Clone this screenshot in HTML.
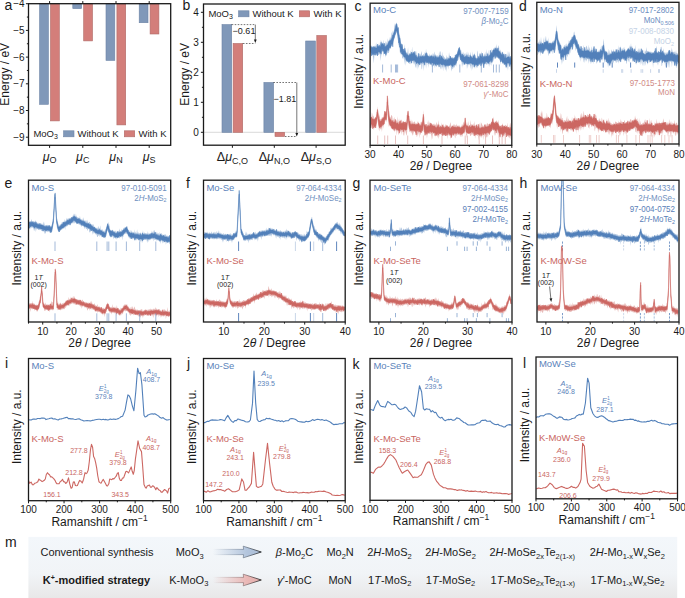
<!DOCTYPE html><html><head><meta charset="utf-8"><style>html,body{margin:0;padding:0;background:#fff;}body{width:685px;height:598px;overflow:hidden;}svg,svg text{font-family:"Liberation Sans",sans-serif;}</style></head><body><svg width="685" height="598" viewBox="0 0 685 598" style="display:block">
<defs>
<clipPath id="clc"><rect x="370.1" y="3.2" width="141.7" height="142.10000000000002"/></clipPath>
<clipPath id="cld"><rect x="536.8" y="2.3" width="142.20000000000005" height="141.7"/></clipPath>
<clipPath id="cle"><rect x="28.5" y="180.2" width="142.2" height="141.8"/></clipPath>
<clipPath id="clf"><rect x="203.5" y="180.2" width="141.7" height="141.8"/></clipPath>
<clipPath id="clg"><rect x="370" y="180.2" width="142" height="141.8"/></clipPath>
<clipPath id="clh"><rect x="537" y="180.2" width="142" height="141.8"/></clipPath>
<clipPath id="cli"><rect x="28.5" y="358.5" width="142.2" height="142.2"/></clipPath>
<clipPath id="clj"><rect x="203.5" y="358.5" width="141.7" height="142.2"/></clipPath>
<clipPath id="clk"><rect x="370" y="358.5" width="142" height="141.8"/></clipPath>
<clipPath id="cll"><rect x="536" y="357" width="141.5" height="141.8"/></clipPath>
<linearGradient id="mg" x1="0" y1="0" x2="0" y2="1"><stop offset="0" stop-color="#f3f7fb"/><stop offset="0.6" stop-color="#f1f4f7"/><stop offset="1" stop-color="#e8e8e8"/></linearGradient>
<linearGradient id="ab" x1="0" y1="0" x2="1" y2="0"><stop offset="0" stop-color="#b3c5dd" stop-opacity="0"/><stop offset="0.7" stop-color="#b3c5dd"/><stop offset="1" stop-color="#aabdd6"/></linearGradient>
<linearGradient id="ar" x1="0" y1="0" x2="1" y2="0"><stop offset="0" stop-color="#eab8b6" stop-opacity="0"/><stop offset="0.7" stop-color="#eab8b6"/><stop offset="1" stop-color="#e3aeac"/></linearGradient>
<linearGradient id="abs" gradientUnits="userSpaceOnUse" x1="213" y1="0" x2="262" y2="0"><stop offset="0" stop-color="#5a6a80" stop-opacity="0"/><stop offset="0.55" stop-color="#5a6a80" stop-opacity="0.5"/><stop offset="1" stop-color="#222"/></linearGradient>
<linearGradient id="ars" gradientUnits="userSpaceOnUse" x1="213" y1="0" x2="262" y2="0"><stop offset="0" stop-color="#806060" stop-opacity="0"/><stop offset="0.55" stop-color="#806060" stop-opacity="0.5"/><stop offset="1" stop-color="#222"/></linearGradient>
</defs>
<rect width="685" height="598" fill="#ffffff"/>
<rect x="39.6" y="3.7" width="8.8" height="100.6" fill="#8098b9" stroke="#6c83a6" stroke-width="0.6"/>
<rect x="50.5" y="3.7" width="8.8" height="117.2" fill="#d37e7a" stroke="#b06a66" stroke-width="0.6"/>
<rect x="72.8" y="3.7" width="8.8" height="4.9" fill="#8098b9" stroke="#6c83a6" stroke-width="0.6"/>
<rect x="83.7" y="3.7" width="8.8" height="37.2" fill="#d37e7a" stroke="#b06a66" stroke-width="0.6"/>
<rect x="106" y="3.7" width="8.8" height="56.7" fill="#8098b9" stroke="#6c83a6" stroke-width="0.6"/>
<rect x="116.9" y="3.7" width="8.8" height="121.2" fill="#d37e7a" stroke="#b06a66" stroke-width="0.6"/>
<rect x="139.2" y="3.7" width="8.8" height="19" fill="#8098b9" stroke="#6c83a6" stroke-width="0.6"/>
<rect x="150.1" y="3.7" width="8.8" height="30.3" fill="#d37e7a" stroke="#b06a66" stroke-width="0.6"/>
<rect x="28.5" y="3.7" width="142.2" height="141.6" fill="none" stroke="#1a1a1a" stroke-width="1.3"/>
<line x1="25.9" y1="3.7" x2="28.5" y2="3.7" stroke="#1a1a1a" stroke-width="1" />
<text x="24.6" y="7.3" font-size="10" fill="#1a1a1a" text-anchor="end" >&#8722;4</text>
<line x1="25.9" y1="30.4" x2="28.5" y2="30.4" stroke="#1a1a1a" stroke-width="1" />
<text x="24.6" y="34" font-size="10" fill="#1a1a1a" text-anchor="end" >&#8722;5</text>
<line x1="25.9" y1="57.1" x2="28.5" y2="57.1" stroke="#1a1a1a" stroke-width="1" />
<text x="24.6" y="60.7" font-size="10" fill="#1a1a1a" text-anchor="end" >&#8722;6</text>
<line x1="25.9" y1="83.8" x2="28.5" y2="83.8" stroke="#1a1a1a" stroke-width="1" />
<text x="24.6" y="87.4" font-size="10" fill="#1a1a1a" text-anchor="end" >&#8722;7</text>
<line x1="25.9" y1="110.5" x2="28.5" y2="110.5" stroke="#1a1a1a" stroke-width="1" />
<text x="24.6" y="114.1" font-size="10" fill="#1a1a1a" text-anchor="end" >&#8722;8</text>
<line x1="25.9" y1="137.2" x2="28.5" y2="137.2" stroke="#1a1a1a" stroke-width="1" />
<text x="24.6" y="140.8" font-size="10" fill="#1a1a1a" text-anchor="end" >&#8722;9</text>
<line x1="26.9" y1="17.05" x2="28.5" y2="17.05" stroke="#1a1a1a" stroke-width="1" />
<line x1="26.9" y1="43.75" x2="28.5" y2="43.75" stroke="#1a1a1a" stroke-width="1" />
<line x1="26.9" y1="70.45" x2="28.5" y2="70.45" stroke="#1a1a1a" stroke-width="1" />
<line x1="26.9" y1="97.15" x2="28.5" y2="97.15" stroke="#1a1a1a" stroke-width="1" />
<line x1="26.9" y1="123.85" x2="28.5" y2="123.85" stroke="#1a1a1a" stroke-width="1" />
<line x1="49.6" y1="145.3" x2="49.6" y2="147.9" stroke="#1a1a1a" stroke-width="1" />
<line x1="49.6" y1="3.7" x2="49.6" y2="1.1" stroke="#1a1a1a" stroke-width="1" />
<line x1="82.8" y1="145.3" x2="82.8" y2="147.9" stroke="#1a1a1a" stroke-width="1" />
<line x1="82.8" y1="3.7" x2="82.8" y2="1.1" stroke="#1a1a1a" stroke-width="1" />
<line x1="116" y1="145.3" x2="116" y2="147.9" stroke="#1a1a1a" stroke-width="1" />
<line x1="116" y1="3.7" x2="116" y2="1.1" stroke="#1a1a1a" stroke-width="1" />
<line x1="149.2" y1="145.3" x2="149.2" y2="147.9" stroke="#1a1a1a" stroke-width="1" />
<line x1="149.2" y1="3.7" x2="149.2" y2="1.1" stroke="#1a1a1a" stroke-width="1" />
<text x="4.5" y="9.8" font-size="14" fill="#1a1a1a" text-anchor="start" >a</text>
<text x="9" y="74.3" font-size="12" fill="#1a1a1a" text-anchor="middle" transform="rotate(-90 9 74.3)">Energy / eV</text>
<text x="33.4" y="137.1" font-size="9.5" fill="#1a1a1a" text-anchor="start" >MoO<tspan font-size="7" dy="2">3</tspan></text>
<rect x="63.6" y="130.8" width="10.4" height="6" fill="#8098b9" stroke="#6c83a6" stroke-width="0.6"/>
<text x="77.5" y="137.1" font-size="9.5" fill="#1a1a1a" text-anchor="start" >Without K</text>
<rect x="124.3" y="130.8" width="10.4" height="6" fill="#d37e7a" stroke="#b06a66" stroke-width="0.6"/>
<text x="138.5" y="137.1" font-size="9.5" fill="#1a1a1a" text-anchor="start" >With K</text>
<text x="49.6" y="160.8" font-size="12.5" fill="#1a1a1a" text-anchor="middle"><tspan font-style="italic">&#956;</tspan><tspan font-size="9" dy="2.5">O</tspan></text>
<text x="82.8" y="160.8" font-size="12.5" fill="#1a1a1a" text-anchor="middle"><tspan font-style="italic">&#956;</tspan><tspan font-size="9" dy="2.5">C</tspan></text>
<text x="116" y="160.8" font-size="12.5" fill="#1a1a1a" text-anchor="middle"><tspan font-style="italic">&#956;</tspan><tspan font-size="9" dy="2.5">N</tspan></text>
<text x="149.2" y="160.8" font-size="12.5" fill="#1a1a1a" text-anchor="middle"><tspan font-style="italic">&#956;</tspan><tspan font-size="9" dy="2.5">S</tspan></text>
<line x1="203.5" y1="132.3" x2="345.2" y2="132.3" stroke="#cfcfcf" stroke-width="0.8" />
<rect x="222" y="24.6" width="9.7" height="107.7" fill="#8098b9" stroke="#6c83a6" stroke-width="0.6"/>
<rect x="233.1" y="43.5" width="9.6" height="88.8" fill="#d37e7a" stroke="#b06a66" stroke-width="0.6"/>
<rect x="263.9" y="82.5" width="9.7" height="49.8" fill="#8098b9" stroke="#6c83a6" stroke-width="0.6"/>
<rect x="275" y="132.3" width="9.6" height="4.2" fill="#d37e7a" stroke="#b06a66" stroke-width="0.6"/>
<rect x="305.7" y="41" width="9.7" height="91.3" fill="#8098b9" stroke="#6c83a6" stroke-width="0.6"/>
<rect x="316.8" y="35.5" width="9.6" height="96.8" fill="#d37e7a" stroke="#b06a66" stroke-width="0.6"/>
<rect x="203.5" y="4" width="141.7" height="141.2" fill="none" stroke="#1a1a1a" stroke-width="1.3"/>
<line x1="200.9" y1="132.3" x2="203.5" y2="132.3" stroke="#1a1a1a" stroke-width="1" />
<text x="198.8" y="135.9" font-size="10" fill="#1a1a1a" text-anchor="end" >0</text>
<line x1="200.9" y1="102.3" x2="203.5" y2="102.3" stroke="#1a1a1a" stroke-width="1" />
<text x="198.8" y="105.9" font-size="10" fill="#1a1a1a" text-anchor="end" >1</text>
<line x1="200.9" y1="72.3" x2="203.5" y2="72.3" stroke="#1a1a1a" stroke-width="1" />
<text x="198.8" y="75.9" font-size="10" fill="#1a1a1a" text-anchor="end" >2</text>
<line x1="200.9" y1="42.3" x2="203.5" y2="42.3" stroke="#1a1a1a" stroke-width="1" />
<text x="198.8" y="45.9" font-size="10" fill="#1a1a1a" text-anchor="end" >3</text>
<line x1="200.9" y1="12.3" x2="203.5" y2="12.3" stroke="#1a1a1a" stroke-width="1" />
<text x="198.8" y="15.9" font-size="10" fill="#1a1a1a" text-anchor="end" >4</text>
<line x1="201.9" y1="117.3" x2="203.5" y2="117.3" stroke="#1a1a1a" stroke-width="1" />
<line x1="201.9" y1="87.3" x2="203.5" y2="87.3" stroke="#1a1a1a" stroke-width="1" />
<line x1="201.9" y1="57.3" x2="203.5" y2="57.3" stroke="#1a1a1a" stroke-width="1" />
<line x1="201.9" y1="27.3" x2="203.5" y2="27.3" stroke="#1a1a1a" stroke-width="1" />
<line x1="232.4" y1="145.2" x2="232.4" y2="147.8" stroke="#1a1a1a" stroke-width="1" />
<line x1="274.3" y1="145.2" x2="274.3" y2="147.8" stroke="#1a1a1a" stroke-width="1" />
<line x1="316.1" y1="145.2" x2="316.1" y2="147.8" stroke="#1a1a1a" stroke-width="1" />
<text x="182.5" y="10" font-size="14" fill="#1a1a1a" text-anchor="start" >b</text>
<text x="188.6" y="74.3" font-size="12" fill="#1a1a1a" text-anchor="middle" transform="rotate(-90 188.6 74.3)">Energy / eV</text>
<text x="208.4" y="17.1" font-size="9.5" fill="#1a1a1a" text-anchor="start" >MoO<tspan font-size="7" dy="2">3</tspan></text>
<rect x="238.6" y="10.8" width="10.4" height="6" fill="#8098b9" stroke="#6c83a6" stroke-width="0.6"/>
<text x="252.5" y="17.1" font-size="9.5" fill="#1a1a1a" text-anchor="start" >Without K</text>
<rect x="299.3" y="10.8" width="10.4" height="6" fill="#d37e7a" stroke="#b06a66" stroke-width="0.6"/>
<text x="313.5" y="17.1" font-size="9.5" fill="#1a1a1a" text-anchor="start" >With K</text>
<line x1="231.7" y1="24.6" x2="255.3" y2="24.6" stroke="#1a1a1a" stroke-width="0.6" stroke-dasharray="1.6 1.4"/>
<line x1="242.9" y1="43.5" x2="255.3" y2="43.5" stroke="#1a1a1a" stroke-width="0.6" stroke-dasharray="1.6 1.4"/>
<line x1="255.3" y1="24.6" x2="255.3" y2="40.5" stroke="#1a1a1a" stroke-width="0.6" />
<path d="M253.9 39.5 L256.7 39.5 L255.3 43 Z" fill="#1a1a1a"/>
<text x="244" y="34.2" font-size="9" fill="#1a1a1a" text-anchor="middle" >&#8722;0.61</text>
<line x1="273.4" y1="82.5" x2="296.8" y2="82.5" stroke="#1a1a1a" stroke-width="0.6" stroke-dasharray="1.6 1.4"/>
<line x1="284.9" y1="136.5" x2="296.8" y2="136.5" stroke="#1a1a1a" stroke-width="0.6" stroke-dasharray="1.6 1.4"/>
<line x1="296.8" y1="82.5" x2="296.8" y2="134" stroke="#1a1a1a" stroke-width="0.6" />
<path d="M295.4 133 L298.2 133 L296.8 136.6 Z" fill="#1a1a1a"/>
<text x="284.8" y="102.3" font-size="9" fill="#1a1a1a" text-anchor="middle" >&#8722;1.81</text>
<text x="232.4" y="161.2" font-size="12.5" fill="#1a1a1a" text-anchor="middle">&#916;<tspan font-style="italic">&#956;</tspan><tspan font-size="9" dy="2.5">C,O</tspan></text>
<text x="274.3" y="161.2" font-size="12.5" fill="#1a1a1a" text-anchor="middle">&#916;<tspan font-style="italic">&#956;</tspan><tspan font-size="9" dy="2.5">N,O</tspan></text>
<text x="316.1" y="161.2" font-size="12.5" fill="#1a1a1a" text-anchor="middle">&#916;<tspan font-style="italic">&#956;</tspan><tspan font-size="9" dy="2.5">S,O</tspan></text>
<text x="354.5" y="10.5" font-size="14" fill="#1a1a1a" text-anchor="start" >c</text>
<text x="373" y="13.2" font-size="9.5" fill="#5a82ba" text-anchor="start" >Mo-C</text>
<text transform="translate(508.6 13.5) scale(0.9 1)" x="0" y="0" font-size="8.9" fill="#6f90c0" text-anchor="end" >97-007-7159</text>
<text transform="translate(508.6 24.3) scale(0.9 1)" x="0" y="0" font-size="8.9" fill="#6f90c0" text-anchor="end" ><tspan font-style="italic">&#946;</tspan>-Mo<tspan font-size="6" dy="1.8">2</tspan><tspan dy="-1.8">C</tspan></text>
<g clip-path="url(#clc)">
<path d="M370.70 43.7 371.15 45.6 371.60 46.0 372.05 46.4 372.50 47.0 372.95 45.8 373.40 46.6 373.85 46.6 374.30 45.6 374.75 46.3 375.20 46.0 375.65 45.9 376.10 42.3 376.55 46.5 377.00 44.4 377.45 46.2 377.90 45.7 378.35 45.3 378.80 43.6 379.25 44.9 379.70 45.4 380.15 39.4 380.60 44.9 381.05 43.3 381.50 40.3 381.95 42.7 382.40 43.0 382.85 42.5 383.30 43.7 383.75 39.4 384.20 44.3 384.65 43.8 385.10 45.5 385.55 40.4 386.00 44.3 386.45 41.2 386.90 43.8 387.35 43.3 387.80 38.2 388.25 40.8 388.70 41.8 389.15 39.9 389.60 39.2 390.05 36.4 390.50 38.0 390.95 39.0 391.40 33.8 391.85 32.1 392.30 35.4 392.75 30.4 393.20 33.1 393.65 32.1 394.10 29.3 394.55 23.1 395.00 27.1 395.45 25.7 395.90 24.1 396.35 23.5 396.80 22.3 397.25 25.1 397.70 26.7 398.15 28.6 398.60 26.8 399.05 33.3 399.50 35.6 399.95 34.5 400.40 40.8 400.85 43.5 401.30 43.2 401.75 44.3 402.20 47.7 402.65 45.9 403.10 48.8 403.55 49.1 404.00 49.0 404.45 44.2 404.90 50.0 405.35 50.8 405.80 51.4 406.25 51.8 406.70 52.9 407.15 53.1 407.60 52.0 408.05 47.3 408.50 54.9 408.95 53.4 409.40 53.3 409.85 53.3 410.30 50.3 410.75 53.5 411.20 52.9 411.65 53.3 412.10 46.5 412.55 52.1 413.00 53.1 413.45 52.6 413.90 51.1 414.35 53.9 414.80 52.9 415.25 51.4 415.70 53.9 416.15 50.9 416.60 54.4 417.05 55.8 417.50 56.5 417.95 55.8 418.40 56.5 418.85 55.7 419.30 52.6 419.75 54.4 420.20 53.6 420.65 55.7 421.10 52.8 421.55 51.0 422.00 54.7 422.45 55.6 422.90 54.9 423.35 54.4 423.80 53.8 424.25 55.8 424.70 51.9 425.15 53.5 425.60 53.7 426.05 48.6 426.50 54.0 426.95 53.7 427.40 53.0 427.85 54.3 428.30 55.2 428.75 56.2 429.20 55.7 429.65 53.2 430.10 56.1 430.55 55.0 431.00 54.8 431.45 54.5 431.90 54.9 432.35 56.1 432.80 53.0 433.25 54.8 433.70 54.6 434.15 51.4 434.60 53.3 435.05 56.2 435.50 53.8 435.95 55.0 436.40 56.3 436.85 55.1 437.30 56.2 437.75 55.0 438.20 55.8 438.65 56.9 439.10 50.9 439.55 53.5 440.00 56.5 440.45 51.2 440.90 51.6 441.35 56.8 441.80 56.4 442.25 57.3 442.70 51.5 443.15 56.2 443.60 55.3 444.05 57.6 444.50 56.9 444.95 58.1 445.40 58.9 445.85 58.1 446.30 58.0 446.75 54.8 447.20 58.6 447.65 56.7 448.10 57.1 448.55 59.1 449.00 51.9 449.45 54.9 449.90 55.9 450.35 57.1 450.80 57.4 451.25 58.0 451.70 57.7 452.15 57.0 452.60 57.3 453.05 57.8 453.50 58.2 453.95 57.8 454.40 57.9 454.85 58.5 455.30 55.5 455.75 53.8 456.20 53.8 456.65 54.2 457.10 53.2 457.55 51.3 458.00 50.1 458.45 48.4 458.90 47.7 459.35 46.5 459.80 48.5 460.25 49.9 460.70 50.5 461.15 50.1 461.60 54.1 462.05 54.6 462.50 52.1 462.95 54.2 463.40 51.4 463.85 55.4 464.30 54.0 464.75 53.3 465.20 56.0 465.65 52.5 466.10 56.2 466.55 51.5 467.00 56.2 467.45 56.3 467.90 51.6 468.35 53.6 468.80 55.1 469.25 55.6 469.70 54.7 470.15 54.6 470.60 51.7 471.05 56.3 471.50 55.7 471.95 56.8 472.40 51.3 472.85 56.8 473.30 56.2 473.75 55.1 474.20 54.9 474.65 52.4 475.10 55.8 475.55 54.7 476.00 56.9 476.45 58.2 476.90 58.1 477.35 50.5 477.80 51.8 478.25 56.7 478.70 57.1 479.15 56.6 479.60 55.7 480.05 54.5 480.50 56.5 480.95 53.6 481.40 51.2 481.85 54.4 482.30 53.4 482.75 55.9 483.20 55.8 483.65 56.1 484.10 52.9 484.55 54.7 485.00 54.4 485.45 54.9 485.90 51.5 486.35 54.5 486.80 48.9 487.25 55.7 487.70 54.6 488.15 49.6 488.60 55.1 489.05 54.0 489.50 55.1 489.95 54.6 490.40 54.0 490.85 53.2 491.30 52.1 491.75 48.5 492.20 52.1 492.65 50.1 493.10 49.5 493.55 48.5 494.00 47.7 494.45 48.6 494.90 46.9 495.35 46.6 495.80 48.4 496.25 46.9 496.70 43.9 497.15 49.6 497.60 47.6 498.05 47.7 498.50 45.4 498.95 45.8 499.40 50.7 499.85 50.4 500.30 49.6 500.75 52.2 501.20 51.6 501.65 53.3 502.10 54.4 502.55 50.6 503.00 55.0 503.45 54.3 503.90 55.0 504.35 54.4 504.80 55.5 505.25 57.3 505.70 57.1 506.15 55.0 506.60 53.4 507.05 54.5 507.50 56.5 507.95 50.7 508.40 53.0 508.85 56.6 509.30 51.2 509.75 54.9 510.20 57.7 510.65 57.7 511.10 58.2 L511.10 67.1 510.65 71.8 510.20 65.6 509.75 65.8 509.30 64.8 508.85 64.0 508.40 66.0 507.95 70.8 507.50 64.0 507.05 69.5 506.60 64.6 506.15 68.4 505.70 66.5 505.25 65.7 504.80 64.4 504.35 65.0 503.90 65.2 503.45 63.6 503.00 63.4 502.55 64.2 502.10 62.3 501.65 61.5 501.20 60.9 500.75 61.5 500.30 64.9 499.85 59.2 499.40 60.5 498.95 58.2 498.50 57.7 498.05 58.0 497.60 57.4 497.15 58.0 496.70 57.4 496.25 58.1 495.80 57.2 495.35 55.8 494.90 59.5 494.45 56.9 494.00 59.5 493.55 61.7 493.10 58.3 492.65 60.4 492.20 62.4 491.75 66.2 491.30 60.6 490.85 65.6 490.40 61.8 489.95 64.2 489.50 64.2 489.05 66.9 488.60 63.5 488.15 64.2 487.70 64.4 487.25 63.3 486.80 65.1 486.35 64.2 485.90 64.0 485.45 63.9 485.00 64.4 484.55 63.0 484.10 68.3 483.65 64.1 483.20 68.0 482.75 64.3 482.30 64.1 481.85 63.9 481.40 64.9 480.95 64.6 480.50 66.9 480.05 64.1 479.60 63.9 479.15 65.5 478.70 65.4 478.25 66.2 477.80 65.0 477.35 67.9 476.90 67.3 476.45 66.8 476.00 68.8 475.55 65.7 475.10 65.9 474.65 64.7 474.20 69.0 473.75 64.8 473.30 64.7 472.85 69.5 472.40 64.8 471.95 71.0 471.50 66.3 471.05 64.1 470.60 68.9 470.15 65.9 469.70 64.8 469.25 64.5 468.80 63.8 468.35 64.3 467.90 68.2 467.45 63.8 467.00 69.5 466.55 63.7 466.10 64.0 465.65 64.7 465.20 63.9 464.75 64.5 464.30 63.9 463.85 63.3 463.40 64.1 462.95 66.1 462.50 63.3 462.05 67.8 461.60 61.9 461.15 60.5 460.70 60.7 460.25 58.3 459.80 57.4 459.35 56.8 458.90 56.2 458.45 59.8 458.00 59.9 457.55 61.2 457.10 61.2 456.65 66.9 456.20 63.8 455.75 65.1 455.30 66.1 454.85 66.3 454.40 68.0 453.95 66.6 453.50 68.8 453.05 67.1 452.60 69.2 452.15 68.8 451.70 71.5 451.25 68.9 450.80 67.1 450.35 65.4 449.90 65.7 449.45 66.1 449.00 66.0 448.55 66.8 448.10 69.5 447.65 66.2 447.20 66.7 446.75 66.8 446.30 72.3 445.85 67.1 445.40 70.6 444.95 68.9 444.50 66.3 444.05 67.8 443.60 65.4 443.15 71.3 442.70 67.5 442.25 66.7 441.80 69.8 441.35 64.7 440.90 69.6 440.45 67.9 440.00 66.2 439.55 64.1 439.10 65.8 438.65 65.0 438.20 66.3 437.75 64.5 437.30 65.1 436.85 67.2 436.40 65.7 435.95 67.8 435.50 64.5 435.05 64.7 434.60 64.4 434.15 68.2 433.70 63.9 433.25 63.6 432.80 67.2 432.35 66.4 431.90 64.0 431.45 67.1 431.00 63.2 430.55 64.5 430.10 63.6 429.65 64.7 429.20 63.5 428.75 68.0 428.30 63.0 427.85 65.2 427.40 62.8 426.95 62.4 426.50 64.1 426.05 68.8 425.60 63.0 425.15 62.7 424.70 63.4 424.25 64.9 423.80 70.9 423.35 64.7 422.90 63.8 422.45 64.1 422.00 69.5 421.55 68.8 421.10 63.6 420.65 63.9 420.20 64.4 419.75 65.0 419.30 65.0 418.85 67.8 418.40 64.9 417.95 69.7 417.50 65.6 417.05 64.0 416.60 68.7 416.15 62.5 415.70 66.7 415.25 68.0 414.80 62.3 414.35 65.0 413.90 62.1 413.45 64.6 413.00 61.8 412.55 60.9 412.10 60.9 411.65 63.5 411.20 63.6 410.75 61.7 410.30 64.4 409.85 62.9 409.40 64.0 408.95 63.8 408.50 62.1 408.05 62.2 407.60 61.5 407.15 62.1 406.70 61.0 406.25 61.8 405.80 65.7 405.35 60.1 404.90 59.1 404.45 65.0 404.00 58.7 403.55 56.6 403.10 59.5 402.65 58.0 402.20 58.3 401.75 54.5 401.30 54.6 400.85 53.2 400.40 54.8 399.95 48.4 399.50 45.6 399.05 43.7 398.60 45.4 398.15 41.6 397.70 38.3 397.25 36.8 396.80 32.0 396.35 32.9 395.90 32.5 395.45 34.2 395.00 36.9 394.55 37.8 394.10 39.6 393.65 39.9 393.20 41.7 392.75 43.7 392.30 44.3 391.85 46.0 391.40 45.9 390.95 46.5 390.50 49.1 390.05 47.7 389.60 48.7 389.15 52.1 388.70 53.1 388.25 52.9 387.80 53.4 387.35 52.2 386.90 53.5 386.45 54.0 386.00 53.9 385.55 57.8 385.10 53.9 384.65 53.2 384.20 52.6 383.75 57.1 383.30 52.0 382.85 52.6 382.40 51.2 381.95 51.2 381.50 52.4 381.05 57.0 380.60 60.9 380.15 53.4 379.70 54.6 379.25 54.0 378.80 55.1 378.35 54.7 377.90 55.1 377.45 56.1 377.00 54.3 376.55 55.2 376.10 55.2 375.65 55.2 375.20 54.6 374.75 54.1 374.30 55.4 373.85 63.5 373.40 59.3 372.95 56.6 372.50 54.7 372.05 53.9 371.60 56.6 371.15 55.6 370.70 54.2 Z" fill="#5280ba" fill-opacity="0.45" stroke="none"/>
<path d="M370.70 46.3 371.15 47.2 371.60 47.6 372.05 47.4 372.50 48.1 372.95 46.9 373.40 46.8 373.85 48.5 374.30 47.2 374.75 47.1 375.20 48.0 375.65 47.6 376.10 47.9 376.55 48.1 377.00 47.2 377.45 44.1 377.90 47.1 378.35 46.4 378.80 45.9 379.25 45.4 379.70 46.4 380.15 46.6 380.60 46.6 381.05 42.4 381.50 45.2 381.95 44.1 382.40 43.9 382.85 43.8 383.30 44.8 383.75 45.3 384.20 43.1 384.65 46.2 385.10 47.0 385.55 46.4 386.00 46.0 386.45 46.2 386.90 44.9 387.35 44.9 387.80 44.4 388.25 42.8 388.70 42.3 389.15 40.9 389.60 41.7 390.05 40.2 390.50 40.7 390.95 40.0 391.40 39.2 391.85 38.2 392.30 36.7 392.75 35.1 393.20 35.2 393.65 33.6 394.10 32.2 394.55 30.5 395.00 29.3 395.45 27.6 395.90 24.8 396.35 23.7 396.80 24.4 397.25 27.4 397.70 29.1 398.15 27.5 398.60 32.2 399.05 36.0 399.50 38.1 399.95 37.9 400.40 41.6 400.85 44.7 401.30 44.2 401.75 47.3 402.20 44.4 402.65 48.7 403.10 49.0 403.55 49.7 404.00 50.9 404.45 51.2 404.90 48.3 405.35 51.3 405.80 52.8 406.25 53.4 406.70 54.7 407.15 54.3 407.60 54.7 408.05 55.2 408.50 55.9 408.95 55.6 409.40 54.9 409.85 54.3 410.30 55.3 410.75 53.8 411.20 54.3 411.65 52.0 412.10 53.4 412.55 54.1 413.00 53.2 413.45 52.3 413.90 53.6 414.35 53.8 414.80 51.3 415.25 55.9 415.70 55.4 416.15 55.3 416.60 56.7 417.05 57.2 417.50 57.6 417.95 57.4 418.40 53.3 418.85 57.3 419.30 58.1 419.75 56.3 420.20 55.9 420.65 56.9 421.10 57.1 421.55 56.5 422.00 56.6 422.45 56.3 422.90 56.1 423.35 56.5 423.80 56.4 424.25 56.8 424.70 56.1 425.15 56.2 425.60 54.1 426.05 52.8 426.50 52.9 426.95 56.0 427.40 55.7 427.85 55.7 428.30 56.0 428.75 57.2 429.20 57.2 429.65 56.4 430.10 56.8 430.55 56.6 431.00 56.0 431.45 56.6 431.90 55.8 432.35 56.4 432.80 57.5 433.25 57.0 433.70 56.3 434.15 57.7 434.60 57.8 435.05 55.6 435.50 56.9 435.95 57.1 436.40 56.9 436.85 58.5 437.30 57.6 437.75 57.5 438.20 57.2 438.65 58.3 439.10 56.6 439.55 57.8 440.00 55.0 440.45 58.1 440.90 58.4 441.35 56.6 441.80 55.8 442.25 59.1 442.70 57.8 443.15 59.1 443.60 59.3 444.05 59.3 444.50 60.0 444.95 60.2 445.40 59.7 445.85 59.5 446.30 59.3 446.75 60.4 447.20 59.9 447.65 59.8 448.10 58.7 448.55 59.7 449.00 58.2 449.45 59.0 449.90 58.7 450.35 56.1 450.80 57.3 451.25 59.3 451.70 58.1 452.15 58.5 452.60 58.7 453.05 58.7 453.50 59.6 453.95 57.7 454.40 57.5 454.85 59.2 455.30 55.1 455.75 57.2 456.20 55.1 456.65 54.6 457.10 54.3 457.55 53.1 458.00 51.3 458.45 49.6 458.90 48.3 459.35 47.5 459.80 49.2 460.25 51.0 460.70 52.8 461.15 54.1 461.60 55.4 462.05 55.8 462.50 54.1 462.95 55.6 463.40 55.3 463.85 56.5 464.30 57.2 464.75 56.9 465.20 57.3 465.65 56.2 466.10 56.8 466.55 56.6 467.00 54.7 467.45 57.2 467.90 56.9 468.35 57.0 468.80 56.9 469.25 57.5 469.70 57.6 470.15 56.6 470.60 55.5 471.05 56.7 471.50 57.2 471.95 57.4 472.40 58.1 472.85 57.9 473.30 55.8 473.75 56.2 474.20 54.4 474.65 56.8 475.10 58.3 475.55 58.2 476.00 58.2 476.45 59.1 476.90 59.9 477.35 58.3 477.80 58.8 478.25 56.3 478.70 58.5 479.15 58.2 479.60 57.5 480.05 53.6 480.50 56.3 480.95 55.8 481.40 56.8 481.85 57.0 482.30 53.2 482.75 57.7 483.20 57.4 483.65 56.7 484.10 56.6 484.55 56.4 485.00 57.6 485.45 56.8 485.90 56.0 486.35 56.5 486.80 56.2 487.25 57.1 487.70 53.6 488.15 57.0 488.60 56.0 489.05 56.4 489.50 55.4 489.95 56.1 490.40 50.3 490.85 54.7 491.30 52.9 491.75 52.6 492.20 53.4 492.65 51.8 493.10 50.1 493.55 50.3 494.00 49.5 494.45 50.2 494.90 49.5 495.35 48.2 495.80 49.6 496.25 48.4 496.70 49.9 497.15 50.0 497.60 49.0 498.05 47.9 498.50 51.0 498.95 50.9 499.40 52.3 499.85 51.5 500.30 53.3 500.75 53.0 501.20 54.7 501.65 54.6 502.10 55.0 502.55 52.3 503.00 55.9 503.45 54.6 503.90 53.8 504.35 57.6 504.80 58.1 505.25 54.0 505.70 58.3 506.15 58.1 506.60 58.0 507.05 57.3 507.50 57.3 507.95 57.1 508.40 57.0 508.85 56.6 509.30 56.9 509.75 58.6 510.20 58.8 510.65 56.3 511.10 59.2 L511.10 64.3 510.65 64.0 510.20 64.7 509.75 66.6 509.30 63.6 508.85 62.9 508.40 63.1 507.95 63.3 507.50 62.9 507.05 63.4 506.60 66.0 506.15 67.3 505.70 64.0 505.25 63.9 504.80 64.2 504.35 64.3 503.90 62.6 503.45 63.1 503.00 62.1 502.55 62.5 502.10 62.0 501.65 60.0 501.20 60.0 500.75 62.1 500.30 60.1 499.85 58.4 499.40 57.5 498.95 58.7 498.50 56.9 498.05 57.5 497.60 55.9 497.15 56.7 496.70 56.5 496.25 55.8 495.80 55.1 495.35 58.5 494.90 55.4 494.45 55.5 494.00 57.0 493.55 56.6 493.10 56.9 492.65 58.8 492.20 61.6 491.75 62.5 491.30 60.3 490.85 60.5 490.40 60.4 489.95 62.0 489.50 61.6 489.05 62.2 488.60 63.4 488.15 62.7 487.70 62.7 487.25 62.1 486.80 61.7 486.35 62.1 485.90 61.5 485.45 62.5 485.00 62.5 484.55 64.0 484.10 63.8 483.65 67.8 483.20 62.6 482.75 63.0 482.30 62.3 481.85 62.4 481.40 64.9 480.95 65.8 480.50 63.0 480.05 62.7 479.60 64.1 479.15 64.6 478.70 64.5 478.25 63.4 477.80 66.2 477.35 64.3 476.90 65.3 476.45 64.6 476.00 64.7 475.55 63.9 475.10 65.3 474.65 65.5 474.20 67.2 473.75 64.6 473.30 64.1 472.85 64.2 472.40 64.4 471.95 63.5 471.50 63.3 471.05 63.4 470.60 63.2 470.15 62.9 469.70 63.5 469.25 62.7 468.80 64.2 468.35 62.4 467.90 64.3 467.45 63.0 467.00 63.9 466.55 63.4 466.10 62.3 465.65 62.9 465.20 63.1 464.75 63.9 464.30 64.6 463.85 62.4 463.40 62.0 462.95 61.8 462.50 61.6 462.05 61.6 461.60 61.2 461.15 59.4 460.70 59.9 460.25 59.1 459.80 55.3 459.35 54.6 458.90 55.2 458.45 56.1 458.00 57.2 457.55 58.6 457.10 60.7 456.65 60.9 456.20 63.0 455.75 63.5 455.30 64.6 454.85 64.9 454.40 65.1 453.95 64.2 453.50 65.0 453.05 66.4 452.60 66.6 452.15 66.3 451.70 64.4 451.25 65.5 450.80 65.0 450.35 64.1 449.90 65.0 449.45 65.2 449.00 65.5 448.55 65.3 448.10 65.8 447.65 65.7 447.20 65.1 446.75 65.3 446.30 65.7 445.85 65.6 445.40 66.4 444.95 65.3 444.50 65.1 444.05 64.7 443.60 64.2 443.15 64.8 442.70 65.2 442.25 64.4 441.80 64.0 441.35 64.9 440.90 63.4 440.45 63.8 440.00 64.2 439.55 62.9 439.10 67.1 438.65 63.3 438.20 64.3 437.75 65.1 437.30 64.1 436.85 63.7 436.40 64.2 435.95 65.6 435.50 65.1 435.05 63.9 434.60 63.9 434.15 63.1 433.70 65.5 433.25 63.2 432.80 63.1 432.35 62.9 431.90 62.5 431.45 63.4 431.00 64.7 430.55 63.2 430.10 63.3 429.65 62.1 429.20 62.8 428.75 63.5 428.30 61.8 427.85 62.0 427.40 62.7 426.95 61.3 426.50 62.6 426.05 61.9 425.60 61.0 425.15 61.9 424.70 65.2 424.25 62.3 423.80 63.1 423.35 62.0 422.90 62.0 422.45 61.7 422.00 62.9 421.55 63.1 421.10 62.2 420.65 62.4 420.20 62.4 419.75 64.8 419.30 63.1 418.85 63.5 418.40 63.8 417.95 62.5 417.50 63.0 417.05 62.5 416.60 63.7 416.15 62.7 415.70 61.4 415.25 61.4 414.80 61.4 414.35 60.3 413.90 60.1 413.45 60.5 413.00 60.2 412.55 60.8 412.10 59.4 411.65 63.1 411.20 60.3 410.75 60.8 410.30 60.5 409.85 61.4 409.40 61.9 408.95 60.8 408.50 62.5 408.05 61.4 407.60 60.4 407.15 61.4 406.70 60.2 406.25 60.5 405.80 58.7 405.35 57.6 404.90 57.4 404.45 57.1 404.00 56.9 403.55 55.8 403.10 55.5 402.65 54.5 402.20 54.1 401.75 53.9 401.30 52.4 400.85 50.4 400.40 52.4 399.95 46.4 399.50 47.3 399.05 41.9 398.60 42.7 398.15 36.2 397.70 34.6 397.25 33.0 396.80 30.8 396.35 31.2 395.90 31.1 395.45 34.3 395.00 34.5 394.55 36.2 394.10 37.9 393.65 38.9 393.20 41.2 392.75 46.8 392.30 43.4 391.85 44.1 391.40 44.8 390.95 46.4 390.50 47.4 390.05 48.3 389.60 47.5 389.15 47.7 388.70 50.4 388.25 50.3 387.80 49.6 387.35 50.2 386.90 51.2 386.45 52.2 386.00 55.4 385.55 53.2 385.10 53.3 384.65 53.2 384.20 54.0 383.75 50.5 383.30 51.1 382.85 51.1 382.40 49.4 381.95 49.1 381.50 51.7 381.05 54.2 380.60 52.7 380.15 52.8 379.70 52.1 379.25 52.3 378.80 51.8 378.35 52.1 377.90 52.7 377.45 55.9 377.00 54.6 376.55 53.3 376.10 53.1 375.65 53.5 375.20 55.3 374.75 55.1 374.30 52.7 373.85 54.5 373.40 53.0 372.95 55.0 372.50 53.3 372.05 54.3 371.60 55.7 371.15 53.0 370.70 51.6 Z" fill="#5280ba" stroke="#5280ba" stroke-width="0.5" stroke-linejoin="round"/>
</g>
<line x1="382.6" y1="64.5" x2="382.6" y2="72.5" stroke="#7d9cc8" stroke-width="0.7" />
<line x1="391.2" y1="64.5" x2="391.2" y2="72.5" stroke="#7d9cc8" stroke-width="0.7" />
<line x1="395.5" y1="64.5" x2="395.5" y2="72.5" stroke="#7d9cc8" stroke-width="0.7" />
<line x1="396.5" y1="64.5" x2="396.5" y2="72.5" stroke="#7d9cc8" stroke-width="0.7" />
<line x1="397.6" y1="64.5" x2="397.6" y2="72.5" stroke="#7d9cc8" stroke-width="0.7" />
<line x1="432.4" y1="64.5" x2="432.4" y2="72.5" stroke="#7d9cc8" stroke-width="0.7" />
<line x1="459.8" y1="64.5" x2="459.8" y2="72.5" stroke="#7d9cc8" stroke-width="0.7" />
<line x1="481.3" y1="64.5" x2="481.3" y2="72.5" stroke="#7d9cc8" stroke-width="0.7" />
<line x1="493.5" y1="64.5" x2="493.5" y2="72.5" stroke="#7d9cc8" stroke-width="0.7" />
<line x1="496.3" y1="64.5" x2="496.3" y2="72.5" stroke="#7d9cc8" stroke-width="0.7" />
<line x1="499.3" y1="64.5" x2="499.3" y2="72.5" stroke="#7d9cc8" stroke-width="0.7" />
<text x="373" y="83.5" font-size="9.5" fill="#c9665f" text-anchor="start" >K-Mo-C</text>
<text transform="translate(508.6 87.4) scale(0.9 1)" x="0" y="0" font-size="8.9" fill="#d08a85" text-anchor="end" >97-061-8298</text>
<text transform="translate(508.6 96.8) scale(0.9 1)" x="0" y="0" font-size="8.9" fill="#d08a85" text-anchor="end" ><tspan font-style="italic">&#947;</tspan>'-MoC</text>
<g clip-path="url(#clc)">
<path d="M370.70 117.2 371.15 112.1 371.60 117.5 372.05 116.4 372.50 112.4 372.95 118.3 373.40 115.3 373.85 116.3 374.30 118.7 374.75 118.5 375.20 116.8 375.65 117.3 376.10 116.3 376.55 111.9 377.00 111.8 377.45 106.2 377.90 111.0 378.35 114.7 378.80 118.0 379.25 116.5 379.70 114.3 380.15 119.6 380.60 119.0 381.05 119.8 381.50 119.7 381.95 116.9 382.40 117.0 382.85 117.7 383.30 117.0 383.75 115.7 384.20 111.9 384.65 113.9 385.10 111.2 385.55 110.9 386.00 111.9 386.45 111.0 386.90 103.6 387.35 94.3 387.80 101.4 388.25 108.8 388.70 111.1 389.15 111.1 389.60 113.7 390.05 117.8 390.50 117.6 390.95 116.4 391.40 115.0 391.85 115.2 392.30 116.4 392.75 120.9 393.20 117.8 393.65 120.2 394.10 119.7 394.55 116.4 395.00 121.5 395.45 120.2 395.90 121.0 396.35 120.0 396.80 122.3 397.25 115.9 397.70 122.4 398.15 119.0 398.60 122.0 399.05 122.2 399.50 122.5 399.95 118.3 400.40 122.2 400.85 122.3 401.30 119.4 401.75 120.0 402.20 121.6 402.65 121.8 403.10 121.7 403.55 121.1 404.00 122.3 404.45 122.5 404.90 122.0 405.35 120.7 405.80 122.4 406.25 122.4 406.70 122.1 407.15 117.8 407.60 112.5 408.05 109.8 408.50 114.1 408.95 118.1 409.40 120.2 409.85 122.0 410.30 122.7 410.75 119.2 411.20 123.7 411.65 119.3 412.10 123.0 412.55 120.2 413.00 123.0 413.45 122.6 413.90 122.0 414.35 122.1 414.80 121.0 415.25 123.1 415.70 123.6 416.15 123.7 416.60 123.0 417.05 123.5 417.50 122.1 417.95 121.2 418.40 122.0 418.85 123.2 419.30 123.9 419.75 123.7 420.20 121.6 420.65 124.4 421.10 123.3 421.55 123.8 422.00 123.0 422.45 123.6 422.90 118.2 423.35 109.9 423.80 118.8 424.25 123.3 424.70 124.0 425.15 124.4 425.60 125.2 426.05 124.6 426.50 125.8 426.95 125.7 427.40 125.0 427.85 121.0 428.30 124.9 428.75 119.8 429.20 124.5 429.65 121.4 430.10 124.1 430.55 124.9 431.00 124.2 431.45 124.5 431.90 125.5 432.35 124.2 432.80 123.7 433.25 124.5 433.70 123.4 434.15 125.4 434.60 123.3 435.05 125.1 435.50 124.1 435.95 125.4 436.40 123.3 436.85 122.0 437.30 125.2 437.75 124.5 438.20 123.8 438.65 120.1 439.10 125.7 439.55 124.1 440.00 125.7 440.45 126.0 440.90 124.7 441.35 126.1 441.80 122.4 442.25 126.0 442.70 126.4 443.15 123.6 443.60 126.2 444.05 126.5 444.50 125.6 444.95 126.9 445.40 124.9 445.85 124.2 446.30 125.1 446.75 126.4 447.20 125.4 447.65 125.0 448.10 126.1 448.55 126.8 449.00 126.9 449.45 124.1 449.90 126.4 450.35 122.6 450.80 122.8 451.25 126.4 451.70 125.9 452.15 125.8 452.60 125.6 453.05 124.8 453.50 124.2 453.95 125.9 454.40 123.7 454.85 125.7 455.30 125.2 455.75 125.8 456.20 123.6 456.65 125.6 457.10 125.2 457.55 125.7 458.00 126.5 458.45 125.2 458.90 125.7 459.35 126.2 459.80 125.1 460.25 126.8 460.70 127.3 461.15 125.7 461.60 126.3 462.05 123.5 462.50 125.4 462.95 124.4 463.40 122.8 463.85 121.5 464.30 124.1 464.75 119.3 465.20 117.4 465.65 122.0 466.10 125.3 466.55 125.5 467.00 121.8 467.45 124.6 467.90 125.2 468.35 120.8 468.80 125.9 469.25 125.5 469.70 125.5 470.15 124.2 470.60 120.1 471.05 125.1 471.50 124.2 471.95 124.3 472.40 124.4 472.85 124.8 473.30 125.2 473.75 123.1 474.20 126.0 474.65 120.9 475.10 125.8 475.55 125.8 476.00 125.3 476.45 124.2 476.90 125.7 477.35 126.3 477.80 125.5 478.25 126.8 478.70 126.2 479.15 124.8 479.60 122.8 480.05 128.1 480.50 126.0 480.95 121.9 481.40 124.3 481.85 122.4 482.30 126.0 482.75 125.1 483.20 126.4 483.65 126.1 484.10 125.1 484.55 124.9 485.00 124.8 485.45 126.5 485.90 125.7 486.35 125.5 486.80 123.8 487.25 123.1 487.70 123.4 488.15 124.6 488.60 124.2 489.05 123.7 489.50 124.3 489.95 122.8 490.40 124.3 490.85 123.0 491.30 123.4 491.75 122.1 492.20 120.1 492.65 118.7 493.10 121.1 493.55 116.3 494.00 121.1 494.45 122.7 494.90 122.9 495.35 121.9 495.80 121.9 496.25 120.3 496.70 120.7 497.15 121.3 497.60 121.9 498.05 122.8 498.50 119.4 498.95 124.3 499.40 125.2 499.85 126.6 500.30 126.5 500.75 127.1 501.20 126.4 501.65 126.1 502.10 124.6 502.55 123.3 503.00 125.0 503.45 126.5 503.90 125.0 504.35 126.1 504.80 125.6 505.25 125.0 505.70 124.8 506.15 126.0 506.60 125.3 507.05 126.5 507.50 122.5 507.95 126.8 508.40 127.1 508.85 126.7 509.30 127.7 509.75 125.5 510.20 122.6 510.65 124.3 511.10 126.7 L511.10 135.9 510.65 136.5 510.20 139.8 509.75 136.2 509.30 138.4 508.85 137.6 508.40 136.8 507.95 136.0 507.50 135.2 507.05 136.1 506.60 134.6 506.15 137.0 505.70 134.2 505.25 136.1 504.80 133.9 504.35 133.9 503.90 133.5 503.45 134.7 503.00 138.4 502.55 135.1 502.10 134.9 501.65 134.6 501.20 135.0 500.75 135.4 500.30 138.3 499.85 134.2 499.40 134.0 498.95 138.5 498.50 134.1 498.05 130.8 497.60 135.3 497.15 130.4 496.70 130.1 496.25 130.2 495.80 131.6 495.35 135.0 494.90 135.8 494.45 133.7 494.00 129.4 493.55 131.1 493.10 129.8 492.65 129.3 492.20 129.6 491.75 130.1 491.30 131.2 490.85 133.1 490.40 132.6 489.95 132.2 489.50 132.7 489.05 133.9 488.60 133.2 488.15 136.3 487.70 137.6 487.25 133.9 486.80 137.6 486.35 136.2 485.90 138.7 485.45 136.2 485.00 134.4 484.55 137.0 484.10 134.6 483.65 135.1 483.20 140.1 482.75 135.8 482.30 134.3 481.85 135.9 481.40 137.4 480.95 137.8 480.50 135.8 480.05 136.7 479.60 136.5 479.15 135.2 478.70 140.6 478.25 135.0 477.80 135.2 477.35 136.0 476.90 136.1 476.45 134.8 476.00 135.0 475.55 135.2 475.10 138.7 474.65 134.2 474.20 133.9 473.75 134.9 473.30 133.8 472.85 135.1 472.40 133.5 471.95 135.5 471.50 134.1 471.05 135.1 470.60 136.2 470.15 135.8 469.70 133.9 469.25 134.1 468.80 134.0 468.35 133.5 467.90 134.1 467.45 133.1 467.00 135.7 466.55 134.6 466.10 138.5 465.65 129.6 465.20 127.5 464.75 134.8 464.30 133.0 463.85 133.1 463.40 133.2 462.95 134.3 462.50 137.0 462.05 134.9 461.60 134.9 461.15 137.1 460.70 136.7 460.25 135.0 459.80 135.6 459.35 134.4 458.90 135.1 458.45 134.2 458.00 135.1 457.55 134.4 457.10 134.4 456.65 136.2 456.20 135.2 455.75 135.1 455.30 138.5 454.85 137.0 454.40 134.4 453.95 133.8 453.50 133.7 453.05 134.6 452.60 135.7 452.15 135.1 451.70 134.8 451.25 136.1 450.80 134.8 450.35 139.8 449.90 135.1 449.45 136.1 449.00 135.9 448.55 134.8 448.10 135.3 447.65 139.3 447.20 133.8 446.75 136.0 446.30 134.8 445.85 135.8 445.40 135.0 444.95 136.2 444.50 135.0 444.05 135.2 443.60 134.9 443.15 135.5 442.70 135.7 442.25 134.6 441.80 135.4 441.35 135.1 440.90 134.7 440.45 134.0 440.00 134.2 439.55 134.2 439.10 137.1 438.65 139.1 438.20 135.1 437.75 137.7 437.30 135.4 436.85 136.1 436.40 134.1 435.95 135.9 435.50 134.5 435.05 137.4 434.60 133.1 434.15 133.3 433.70 133.2 433.25 133.6 432.80 134.1 432.35 138.0 431.90 139.8 431.45 136.1 431.00 134.5 430.55 133.6 430.10 133.7 429.65 134.3 429.20 133.2 428.75 133.6 428.30 134.0 427.85 133.3 427.40 134.9 426.95 138.6 426.50 134.7 426.05 133.9 425.60 133.0 425.15 134.1 424.70 135.9 424.25 132.7 423.80 131.8 423.35 123.4 422.90 127.9 422.45 132.6 422.00 131.2 421.55 132.5 421.10 132.5 420.65 135.3 420.20 133.4 419.75 138.4 419.30 132.3 418.85 132.6 418.40 133.8 417.95 136.1 417.50 133.7 417.05 136.9 416.60 136.4 416.15 132.1 415.70 132.6 415.25 133.1 414.80 131.6 414.35 131.5 413.90 131.9 413.45 132.9 413.00 135.6 412.55 135.3 412.10 133.5 411.65 133.2 411.20 131.9 410.75 132.4 410.30 131.1 409.85 131.8 409.40 132.3 408.95 128.4 408.50 123.5 408.05 118.4 407.60 121.2 407.15 131.8 406.70 134.9 406.25 135.5 405.80 132.2 405.35 130.3 404.90 136.1 404.45 132.4 404.00 130.7 403.55 135.6 403.10 135.3 402.65 130.0 402.20 130.1 401.75 131.0 401.30 134.9 400.85 130.5 400.40 131.5 399.95 131.9 399.50 131.3 399.05 130.5 398.60 135.2 398.15 133.7 397.70 131.0 397.25 130.3 396.80 135.4 396.35 130.0 395.90 130.0 395.45 130.8 395.00 130.2 394.55 132.5 394.10 129.3 393.65 129.2 393.20 130.0 392.75 129.3 392.30 129.8 391.85 128.6 391.40 128.3 390.95 128.0 390.50 126.2 390.05 125.8 389.60 124.9 389.15 126.4 388.70 126.6 388.25 118.3 387.80 114.2 387.35 102.9 386.90 115.3 386.45 121.1 386.00 122.4 385.55 119.9 385.10 120.2 384.65 122.0 384.20 123.7 383.75 129.1 383.30 124.6 382.85 126.3 382.40 126.6 381.95 131.9 381.50 129.0 381.05 128.1 380.60 129.1 380.15 129.5 379.70 128.0 379.25 131.4 378.80 129.6 378.35 123.6 377.90 119.7 377.45 116.4 377.00 121.0 376.55 123.8 376.10 126.1 375.65 126.6 375.20 126.6 374.75 126.8 374.30 128.1 373.85 130.0 373.40 128.5 372.95 127.5 372.50 126.2 372.05 125.5 371.60 125.6 371.15 128.8 370.70 126.0 Z" fill="#cc6762" fill-opacity="0.45" stroke="none"/>
<path d="M370.70 118.4 371.15 117.0 371.60 117.3 372.05 118.7 372.50 119.1 372.95 118.8 373.40 119.1 373.85 119.9 374.30 119.2 374.75 119.8 375.20 118.5 375.65 117.8 376.10 118.0 376.55 117.4 377.00 113.4 377.45 109.5 377.90 111.8 378.35 115.5 378.80 120.1 379.25 119.6 379.70 121.2 380.15 121.2 380.60 121.2 381.05 121.0 381.50 120.8 381.95 118.8 382.40 119.5 382.85 118.3 383.30 118.2 383.75 117.6 384.20 116.8 384.65 111.2 385.10 112.1 385.55 112.5 386.00 114.2 386.45 113.5 386.90 108.0 387.35 95.9 387.80 100.6 388.25 108.3 388.70 114.4 389.15 116.5 389.60 118.3 390.05 119.0 390.50 119.8 390.95 119.8 391.40 121.0 391.85 122.1 392.30 120.5 392.75 122.1 393.20 121.8 393.65 122.5 394.10 121.7 394.55 121.9 395.00 123.1 395.45 119.4 395.90 122.7 396.35 122.9 396.80 123.7 397.25 122.7 397.70 123.0 398.15 124.2 398.60 124.3 399.05 123.9 399.50 121.9 399.95 120.9 400.40 120.8 400.85 123.7 401.30 123.2 401.75 123.2 402.20 123.4 402.65 122.8 403.10 123.5 403.55 121.7 404.00 122.6 404.45 122.3 404.90 123.9 405.35 122.1 405.80 123.8 406.25 123.0 406.70 123.2 407.15 115.6 407.60 114.5 408.05 111.2 408.50 116.1 408.95 115.9 409.40 122.8 409.85 121.1 410.30 124.3 410.75 124.2 411.20 124.9 411.65 123.9 412.10 123.9 412.55 123.9 413.00 124.4 413.45 124.6 413.90 124.0 414.35 124.2 414.80 124.0 415.25 124.9 415.70 125.0 416.15 124.3 416.60 124.9 417.05 124.8 417.50 124.0 417.95 125.0 418.40 123.3 418.85 123.3 419.30 125.1 419.75 125.8 420.20 125.8 420.65 125.3 421.10 125.7 421.55 124.8 422.00 121.8 422.45 124.9 422.90 117.8 423.35 114.3 423.80 117.8 424.25 125.8 424.70 124.9 425.15 125.8 425.60 126.6 426.05 124.0 426.50 127.3 426.95 127.0 427.40 126.8 427.85 125.6 428.30 125.6 428.75 126.5 429.20 125.7 429.65 126.5 430.10 125.0 430.55 122.9 431.00 125.5 431.45 123.6 431.90 126.6 432.35 125.6 432.80 125.8 433.25 125.8 433.70 126.3 434.15 126.3 434.60 125.8 435.05 127.1 435.50 127.2 435.95 127.6 436.40 127.4 436.85 127.8 437.30 126.3 437.75 127.3 438.20 124.7 438.65 127.0 439.10 127.8 439.55 126.9 440.00 127.4 440.45 126.4 440.90 128.0 441.35 127.3 441.80 126.9 442.25 127.4 442.70 124.8 443.15 126.5 443.60 127.3 444.05 127.8 444.50 127.9 444.95 127.6 445.40 127.2 445.85 127.0 446.30 127.3 446.75 125.6 447.20 126.0 447.65 127.5 448.10 127.1 448.55 127.3 449.00 126.7 449.45 128.5 449.90 128.3 450.35 128.8 450.80 128.3 451.25 127.2 451.70 127.2 452.15 128.2 452.60 126.1 453.05 127.8 453.50 126.9 453.95 126.8 454.40 127.5 454.85 126.9 455.30 127.3 455.75 127.3 456.20 127.4 456.65 127.5 457.10 127.5 457.55 126.6 458.00 127.5 458.45 126.8 458.90 127.5 459.35 127.7 459.80 127.1 460.25 128.0 460.70 128.5 461.15 127.5 461.60 127.4 462.05 126.8 462.50 127.1 462.95 126.8 463.40 125.8 463.85 125.5 464.30 125.2 464.75 123.3 465.20 117.9 465.65 123.1 466.10 125.1 466.55 126.3 467.00 125.7 467.45 126.4 467.90 126.1 468.35 126.8 468.80 127.4 469.25 127.1 469.70 125.5 470.15 127.1 470.60 127.3 471.05 126.9 471.50 126.2 471.95 125.8 472.40 125.6 472.85 126.1 473.30 126.7 473.75 126.2 474.20 127.0 474.65 125.8 475.10 128.3 475.55 127.9 476.00 127.6 476.45 124.8 476.90 126.6 477.35 128.3 477.80 127.5 478.25 124.2 478.70 126.9 479.15 127.8 479.60 128.3 480.05 128.6 480.50 128.5 480.95 127.5 481.40 127.7 481.85 127.7 482.30 127.8 482.75 126.9 483.20 127.7 483.65 127.4 484.10 127.4 484.55 127.4 485.00 124.4 485.45 126.9 485.90 127.0 486.35 126.9 486.80 126.9 487.25 126.4 487.70 127.3 488.15 125.9 488.60 126.6 489.05 126.0 489.50 124.4 489.95 124.6 490.40 124.9 490.85 125.2 491.30 122.8 491.75 122.1 492.20 122.5 492.65 118.5 493.10 122.5 493.55 122.5 494.00 122.6 494.45 122.9 494.90 124.0 495.35 124.0 495.80 121.7 496.25 122.9 496.70 122.9 497.15 123.3 497.60 122.7 498.05 124.1 498.50 124.6 498.95 126.0 499.40 126.6 499.85 127.2 500.30 125.8 500.75 127.9 501.20 127.8 501.65 127.4 502.10 125.1 502.55 127.5 503.00 126.9 503.45 127.7 503.90 126.1 504.35 126.3 504.80 126.8 505.25 127.0 505.70 127.0 506.15 127.5 506.60 126.4 507.05 128.0 507.50 127.4 507.95 128.8 508.40 127.3 508.85 128.5 509.30 128.6 509.75 129.2 510.20 127.2 510.65 129.6 511.10 128.7 L511.10 135.9 510.65 135.1 510.20 135.1 509.75 135.0 509.30 135.2 508.85 133.8 508.40 134.8 507.95 135.6 507.50 134.3 507.05 133.7 506.60 137.0 506.15 133.1 505.70 132.2 505.25 132.7 504.80 132.3 504.35 132.7 503.90 135.6 503.45 132.9 503.00 133.2 502.55 136.8 502.10 133.0 501.65 133.9 501.20 133.6 500.75 133.7 500.30 133.5 499.85 137.0 499.40 133.2 498.95 132.7 498.50 130.8 498.05 130.6 497.60 128.4 497.15 129.4 496.70 129.0 496.25 133.1 495.80 129.8 495.35 131.0 494.90 129.7 494.45 129.3 494.00 129.2 493.55 128.0 493.10 130.2 492.65 127.3 492.20 128.3 491.75 129.4 491.30 131.1 490.85 130.4 490.40 131.6 489.95 130.9 489.50 134.5 489.05 132.3 488.60 133.2 488.15 132.0 487.70 132.5 487.25 132.6 486.80 133.0 486.35 132.5 485.90 134.4 485.45 133.6 485.00 133.0 484.55 133.1 484.10 133.4 483.65 133.6 483.20 134.9 482.75 133.0 482.30 133.2 481.85 135.6 481.40 134.7 480.95 134.3 480.50 134.1 480.05 135.6 479.60 135.2 479.15 133.9 478.70 134.1 478.25 134.4 477.80 134.0 477.35 133.9 476.90 133.1 476.45 134.6 476.00 133.5 475.55 133.5 475.10 135.3 474.65 132.6 474.20 135.9 473.75 133.3 473.30 131.8 472.85 132.1 472.40 132.7 471.95 131.7 471.50 132.0 471.05 132.2 470.60 133.1 470.15 132.9 469.70 133.0 469.25 133.3 468.80 133.5 468.35 133.1 467.90 133.3 467.45 132.7 467.00 132.7 466.55 132.1 466.10 132.3 465.65 128.4 465.20 125.0 464.75 128.9 464.30 131.8 463.85 131.9 463.40 133.1 462.95 133.0 462.50 133.8 462.05 133.2 461.60 134.1 461.15 134.6 460.70 134.6 460.25 133.3 459.80 132.8 459.35 133.3 458.90 134.1 458.45 132.9 458.00 132.8 457.55 132.7 457.10 132.8 456.65 133.6 456.20 133.4 455.75 133.6 455.30 133.5 454.85 132.7 454.40 133.6 453.95 133.2 453.50 135.3 453.05 135.1 452.60 133.0 452.15 133.6 451.70 136.7 451.25 137.7 450.80 134.8 450.35 134.9 449.90 133.8 449.45 134.4 449.00 133.5 448.55 133.3 448.10 132.6 447.65 133.7 447.20 135.2 446.75 135.5 446.30 132.3 445.85 133.3 445.40 136.0 444.95 133.6 444.50 134.5 444.05 134.2 443.60 133.3 443.15 135.1 442.70 135.8 442.25 132.7 441.80 133.1 441.35 132.6 440.90 133.6 440.45 133.0 440.00 134.0 439.55 133.6 439.10 133.0 438.65 132.7 438.20 135.1 437.75 133.7 437.30 133.4 436.85 134.2 436.40 135.4 435.95 133.4 435.50 132.9 435.05 135.7 434.60 131.9 434.15 132.7 433.70 133.1 433.25 132.7 432.80 131.6 432.35 131.9 431.90 131.7 431.45 132.7 431.00 132.1 430.55 131.8 430.10 131.6 429.65 131.6 429.20 132.8 428.75 132.6 428.30 132.5 427.85 132.3 427.40 132.9 426.95 134.4 426.50 133.4 426.05 132.3 425.60 133.0 425.15 135.3 424.70 131.8 424.25 131.6 423.80 126.0 423.35 120.6 422.90 129.3 422.45 130.7 422.00 130.4 421.55 130.8 421.10 132.8 420.65 131.7 420.20 131.9 419.75 131.8 419.30 130.6 418.85 131.8 418.40 130.1 417.95 130.6 417.50 131.3 417.05 130.6 416.60 131.1 416.15 134.9 415.70 132.6 415.25 131.1 414.80 131.1 414.35 130.7 413.90 131.1 413.45 130.5 413.00 129.9 412.55 129.9 412.10 131.3 411.65 130.5 411.20 130.0 410.75 129.8 410.30 130.7 409.85 129.3 409.40 128.4 408.95 125.9 408.50 121.2 408.05 116.7 407.60 121.6 407.15 125.4 406.70 129.8 406.25 129.4 405.80 129.7 405.35 130.2 404.90 130.0 404.45 128.9 404.00 129.1 403.55 130.4 403.10 131.9 402.65 128.7 402.20 129.7 401.75 129.1 401.30 129.9 400.85 129.0 400.40 129.1 399.95 129.9 399.50 133.2 399.05 129.8 398.60 130.6 398.15 130.1 397.70 129.6 397.25 130.1 396.80 130.2 396.35 128.9 395.90 128.4 395.45 128.4 395.00 128.4 394.55 128.6 394.10 130.5 393.65 128.6 393.20 128.4 392.75 127.9 392.30 129.0 391.85 127.9 391.40 126.9 390.95 125.3 390.50 126.1 390.05 124.8 389.60 124.3 389.15 122.6 388.70 120.3 388.25 116.3 387.80 108.3 387.35 101.9 386.90 113.9 386.45 118.8 386.00 120.2 385.55 118.5 385.10 119.3 384.65 120.6 384.20 124.1 383.75 124.4 383.30 124.6 382.85 124.3 382.40 125.2 381.95 125.6 381.50 126.2 381.05 127.2 380.60 127.1 380.15 126.4 379.70 127.9 379.25 126.8 378.80 125.4 378.35 122.3 377.90 118.5 377.45 114.8 377.00 118.9 376.55 122.6 376.10 124.7 375.65 128.0 375.20 125.4 374.75 126.5 374.30 126.4 373.85 128.0 373.40 125.1 372.95 125.3 372.50 128.7 372.05 125.0 371.60 123.9 371.15 124.6 370.70 127.9 Z" fill="#cc6762" stroke="#cc6762" stroke-width="0.5" stroke-linejoin="round"/>
</g>
<line x1="377.7" y1="135.5" x2="377.7" y2="144" stroke="#e0a9a6" stroke-width="0.7" />
<line x1="384.7" y1="135.5" x2="384.7" y2="144" stroke="#e0a9a6" stroke-width="0.7" />
<line x1="387.7" y1="135.5" x2="387.7" y2="144" stroke="#e0a9a6" stroke-width="0.7" />
<line x1="395.5" y1="135.5" x2="395.5" y2="144" stroke="#e0a9a6" stroke-width="0.7" />
<line x1="407.7" y1="135.5" x2="407.7" y2="144" stroke="#e0a9a6" stroke-width="0.7" />
<line x1="423.4" y1="135.5" x2="423.4" y2="144" stroke="#e0a9a6" stroke-width="0.7" />
<line x1="442" y1="135.5" x2="442" y2="144" stroke="#e0a9a6" stroke-width="0.7" />
<line x1="465.2" y1="135.5" x2="465.2" y2="144" stroke="#e0a9a6" stroke-width="0.7" />
<line x1="467.4" y1="135.5" x2="467.4" y2="144" stroke="#e0a9a6" stroke-width="0.7" />
<line x1="479.2" y1="135.5" x2="479.2" y2="144" stroke="#e0a9a6" stroke-width="0.7" />
<line x1="485.6" y1="135.5" x2="485.6" y2="144" stroke="#e0a9a6" stroke-width="0.7" />
<line x1="492.5" y1="135.5" x2="492.5" y2="144" stroke="#e0a9a6" stroke-width="0.7" />
<line x1="499.3" y1="135.5" x2="499.3" y2="144" stroke="#e0a9a6" stroke-width="0.7" />
<line x1="502.1" y1="135.5" x2="502.1" y2="144" stroke="#e0a9a6" stroke-width="0.7" />
<line x1="505.3" y1="135.5" x2="505.3" y2="144" stroke="#e0a9a6" stroke-width="0.7" />
<rect x="370.1" y="3.2" width="141.7" height="142.1" fill="none" stroke="#1a1a1a" stroke-width="1.3"/>
<line x1="370.1" y1="145.3" x2="370.1" y2="147.9" stroke="#1a1a1a" stroke-width="1" />
<line x1="398.44" y1="145.3" x2="398.44" y2="147.9" stroke="#1a1a1a" stroke-width="1" />
<line x1="426.78" y1="145.3" x2="426.78" y2="147.9" stroke="#1a1a1a" stroke-width="1" />
<line x1="455.12" y1="145.3" x2="455.12" y2="147.9" stroke="#1a1a1a" stroke-width="1" />
<line x1="483.46" y1="145.3" x2="483.46" y2="147.9" stroke="#1a1a1a" stroke-width="1" />
<line x1="511.8" y1="145.3" x2="511.8" y2="147.9" stroke="#1a1a1a" stroke-width="1" />
<line x1="384.27" y1="145.3" x2="384.27" y2="146.9" stroke="#1a1a1a" stroke-width="1" />
<line x1="412.61" y1="145.3" x2="412.61" y2="146.9" stroke="#1a1a1a" stroke-width="1" />
<line x1="440.95" y1="145.3" x2="440.95" y2="146.9" stroke="#1a1a1a" stroke-width="1" />
<line x1="469.29" y1="145.3" x2="469.29" y2="146.9" stroke="#1a1a1a" stroke-width="1" />
<line x1="497.63" y1="145.3" x2="497.63" y2="146.9" stroke="#1a1a1a" stroke-width="1" />
<text x="370.1" y="157.8" font-size="10" fill="#1a1a1a" text-anchor="middle" >30</text>
<text x="398.44" y="157.8" font-size="10" fill="#1a1a1a" text-anchor="middle" >40</text>
<text x="426.78" y="157.8" font-size="10" fill="#1a1a1a" text-anchor="middle" >50</text>
<text x="455.12" y="157.8" font-size="10" fill="#1a1a1a" text-anchor="middle" >60</text>
<text x="483.46" y="157.8" font-size="10" fill="#1a1a1a" text-anchor="middle" >70</text>
<text x="511.8" y="157.8" font-size="10" fill="#1a1a1a" text-anchor="middle" >80</text>
<text x="440.95" y="170" font-size="12" fill="#1a1a1a" text-anchor="middle">2<tspan font-style="italic">&#952;</tspan> / Degree</text>
<text x="363.1" y="71.35" font-size="12" fill="#1a1a1a" text-anchor="middle" transform="rotate(-90 363.1 71.35)">Intensity / a.u.</text>
<text x="519" y="10.5" font-size="14" fill="#1a1a1a" text-anchor="start" >d</text>
<text x="539.7" y="13.2" font-size="9.5" fill="#5a82ba" text-anchor="start" >Mo-N</text>
<text transform="translate(674 12.6) scale(0.9 1)" x="0" y="0" font-size="8.9" fill="#6a8dbf" text-anchor="end" >97-017-2802</text>
<text transform="translate(674 23.3) scale(0.9 1)" x="0" y="0" font-size="8.9" fill="#6a8dbf" text-anchor="end" >MoN<tspan font-size="6" dy="1.8">0.506</tspan></text>
<text transform="translate(674 33.9) scale(0.9 1)" x="0" y="0" font-size="8.9" fill="#c5d3e6" text-anchor="end" >97-008-0830</text>
<text transform="translate(674 43.7) scale(0.9 1)" x="0" y="0" font-size="8.9" fill="#c5d3e6" text-anchor="end" >MoO<tspan font-size="6" dy="1.8">2</tspan></text>
<g clip-path="url(#cld)">
<path d="M537.40 41.9 537.85 44.0 538.30 41.3 538.75 43.4 539.20 39.1 539.65 43.2 540.10 41.2 540.55 42.0 541.00 36.7 541.45 41.5 541.90 42.2 542.35 42.9 542.80 42.9 543.25 42.3 543.70 37.3 544.15 42.7 544.60 42.2 545.05 36.3 545.50 40.8 545.95 35.6 546.40 40.2 546.85 40.4 547.30 39.5 547.75 42.5 548.20 37.3 548.65 43.1 549.10 42.6 549.55 42.8 550.00 43.2 550.45 43.0 550.90 41.5 551.35 42.7 551.80 42.9 552.25 41.6 552.70 41.2 553.15 41.9 553.60 39.9 554.05 41.6 554.50 40.9 554.95 37.7 555.40 37.3 555.85 33.1 556.30 24.9 556.75 28.8 557.20 33.9 557.65 36.1 558.10 39.1 558.55 40.8 559.00 41.7 559.45 41.8 559.90 43.7 560.35 43.2 560.80 45.7 561.25 45.1 561.70 49.4 562.15 49.7 562.60 48.2 563.05 47.8 563.50 46.8 563.95 46.2 564.40 45.2 564.85 45.4 565.30 44.1 565.75 47.0 566.20 46.3 566.65 42.9 567.10 45.5 567.55 45.8 568.00 43.5 568.45 43.6 568.90 39.9 569.35 41.8 569.80 40.7 570.25 40.3 570.70 39.5 571.15 38.4 571.60 36.9 572.05 36.7 572.50 36.9 572.95 36.1 573.40 35.6 573.85 32.3 574.30 31.6 574.75 34.7 575.20 37.0 575.65 35.2 576.10 39.0 576.55 39.7 577.00 38.9 577.45 41.3 577.90 43.0 578.35 44.5 578.80 43.3 579.25 46.0 579.70 48.0 580.15 45.5 580.60 49.1 581.05 48.9 581.50 46.2 581.95 48.4 582.40 48.0 582.85 48.1 583.30 44.8 583.75 49.4 584.20 49.6 584.65 49.9 585.10 49.8 585.55 49.2 586.00 46.4 586.45 46.5 586.90 45.5 587.35 49.3 587.80 49.4 588.25 44.5 588.70 49.5 589.15 49.8 589.60 46.7 590.05 49.3 590.50 51.3 590.95 50.8 591.40 49.1 591.85 46.2 592.30 49.9 592.75 49.9 593.20 46.3 593.65 48.6 594.10 48.8 594.55 49.7 595.00 48.8 595.45 50.8 595.90 51.4 596.35 50.9 596.80 50.1 597.25 51.4 597.70 52.5 598.15 49.9 598.60 51.9 599.05 50.5 599.50 50.6 599.95 51.5 600.40 50.5 600.85 47.0 601.30 45.6 601.75 49.4 602.20 46.1 602.65 46.6 603.10 43.9 603.55 38.8 604.00 41.9 604.45 48.7 604.90 50.1 605.35 50.5 605.80 51.8 606.25 51.9 606.70 50.9 607.15 53.1 607.60 52.4 608.05 54.2 608.50 48.6 608.95 53.9 609.40 49.5 609.85 53.7 610.30 53.0 610.75 52.8 611.20 51.1 611.65 49.2 612.10 51.4 612.55 51.2 613.00 50.7 613.45 48.8 613.90 51.7 614.35 52.1 614.80 51.2 615.25 51.2 615.70 51.0 616.15 49.4 616.60 50.1 617.05 49.6 617.50 48.6 617.95 50.4 618.40 50.5 618.85 45.3 619.30 50.6 619.75 51.7 620.20 45.2 620.65 50.2 621.10 48.0 621.55 50.4 622.00 48.6 622.45 49.8 622.90 48.0 623.35 47.4 623.80 50.9 624.25 46.4 624.70 51.0 625.15 51.9 625.60 51.1 626.05 51.6 626.50 51.7 626.95 50.5 627.40 49.2 627.85 48.5 628.30 47.4 628.75 48.3 629.20 49.1 629.65 45.0 630.10 48.3 630.55 47.0 631.00 43.1 631.45 48.4 631.90 49.6 632.35 48.8 632.80 45.7 633.25 50.4 633.70 49.8 634.15 48.1 634.60 48.4 635.05 49.9 635.50 44.7 635.95 51.7 636.40 52.2 636.85 51.8 637.30 51.3 637.75 50.6 638.20 48.0 638.65 50.4 639.10 51.5 639.55 49.8 640.00 48.1 640.45 52.4 640.90 50.8 641.35 51.4 641.80 51.3 642.25 50.3 642.70 49.1 643.15 52.9 643.60 53.0 644.05 53.4 644.50 53.2 644.95 50.0 645.40 50.9 645.85 52.1 646.30 46.9 646.75 50.6 647.20 51.3 647.65 51.1 648.10 50.7 648.55 51.5 649.00 51.3 649.45 51.5 649.90 52.7 650.35 52.0 650.80 51.2 651.25 52.4 651.70 51.6 652.15 52.4 652.60 52.2 653.05 52.3 653.50 51.8 653.95 53.0 654.40 51.5 654.85 47.9 655.30 52.3 655.75 51.6 656.20 47.5 656.65 46.1 657.10 52.0 657.55 52.7 658.00 51.6 658.45 52.8 658.90 51.5 659.35 52.6 659.80 52.0 660.25 51.0 660.70 47.0 661.15 47.4 661.60 46.3 662.05 52.1 662.50 52.0 662.95 51.3 663.40 48.3 663.85 51.8 664.30 52.8 664.75 53.8 665.20 53.9 665.65 52.0 666.10 53.8 666.55 52.2 667.00 52.8 667.45 52.1 667.90 53.1 668.35 51.6 668.80 53.2 669.25 51.6 669.70 52.3 670.15 50.7 670.60 52.5 671.05 53.4 671.50 46.9 671.95 50.6 672.40 52.5 672.85 49.0 673.30 53.3 673.75 51.9 674.20 52.8 674.65 51.4 675.10 51.6 675.55 53.9 676.00 49.7 676.45 53.6 676.90 52.8 677.35 53.4 677.80 53.4 678.25 54.0 L678.25 63.4 677.80 63.9 677.35 64.5 676.90 67.7 676.45 67.4 676.00 63.0 675.55 66.7 675.10 63.9 674.65 64.9 674.20 62.0 673.75 62.4 673.30 61.4 672.85 61.9 672.40 61.7 671.95 67.2 671.50 62.6 671.05 62.3 670.60 61.8 670.15 61.3 669.70 61.4 669.25 67.6 668.80 67.3 668.35 61.9 667.90 67.0 667.45 62.5 667.00 63.8 666.55 63.1 666.10 62.9 665.65 62.8 665.20 67.6 664.75 62.9 664.30 62.4 663.85 60.9 663.40 61.5 662.95 60.7 662.50 61.7 662.05 65.7 661.60 66.1 661.15 61.0 660.70 60.5 660.25 60.8 659.80 62.4 659.35 62.4 658.90 61.8 658.45 62.5 658.00 65.8 657.55 63.4 657.10 60.1 656.65 60.8 656.20 61.7 655.75 60.8 655.30 62.2 654.85 61.2 654.40 61.9 653.95 61.3 653.50 61.5 653.05 68.1 652.60 61.5 652.15 60.7 651.70 62.6 651.25 60.8 650.80 62.1 650.35 61.7 649.90 62.7 649.45 61.8 649.00 62.7 648.55 60.2 648.10 60.5 647.65 60.3 647.20 65.0 646.75 60.2 646.30 60.9 645.85 61.7 645.40 64.2 644.95 66.1 644.50 62.6 644.05 61.6 643.60 61.7 643.15 65.7 642.70 65.2 642.25 60.4 641.80 60.6 641.35 63.1 640.90 64.9 640.45 60.5 640.00 63.7 639.55 62.5 639.10 60.6 638.65 60.6 638.20 60.7 637.75 60.6 637.30 60.2 636.85 61.3 636.40 64.9 635.95 62.6 635.50 64.5 635.05 59.3 634.60 59.3 634.15 62.6 633.70 59.8 633.25 59.3 632.80 59.8 632.35 62.1 631.90 58.4 631.45 58.1 631.00 59.1 630.55 59.4 630.10 58.3 629.65 58.2 629.20 62.8 628.75 59.4 628.30 62.2 627.85 60.1 627.40 58.5 626.95 62.8 626.50 64.3 626.05 61.2 625.60 60.2 625.15 60.4 624.70 61.4 624.25 60.6 623.80 59.4 623.35 60.0 622.90 59.4 622.45 59.0 622.00 59.3 621.55 59.6 621.10 59.9 620.65 60.1 620.20 62.8 619.75 60.3 619.30 60.8 618.85 63.7 618.40 61.0 617.95 62.3 617.50 61.4 617.05 60.1 616.60 62.0 616.15 63.2 615.70 61.9 615.25 60.3 614.80 60.1 614.35 60.5 613.90 61.0 613.45 63.5 613.00 61.5 612.55 63.3 612.10 62.5 611.65 62.7 611.20 61.8 610.75 64.9 610.30 65.4 609.85 66.2 609.40 65.0 608.95 63.5 608.50 64.1 608.05 67.7 607.60 62.7 607.15 63.5 606.70 62.8 606.25 61.2 605.80 60.3 605.35 60.0 604.90 60.3 604.45 63.5 604.00 60.6 603.55 54.9 603.10 52.4 602.65 61.2 602.20 58.9 601.75 59.7 601.30 60.6 600.85 59.1 600.40 62.7 599.95 61.8 599.50 60.7 599.05 60.2 598.60 60.5 598.15 60.8 597.70 62.4 597.25 62.0 596.80 62.4 596.35 64.1 595.90 59.3 595.45 59.3 595.00 60.0 594.55 60.0 594.10 58.6 593.65 64.6 593.20 59.4 592.75 59.8 592.30 59.8 591.85 63.8 591.40 59.9 590.95 59.7 590.50 64.4 590.05 59.6 589.60 62.1 589.15 58.4 588.70 63.7 588.25 59.6 587.80 57.7 587.35 58.1 586.90 61.2 586.45 59.2 586.00 62.3 585.55 59.3 585.10 59.8 584.65 59.5 584.20 62.7 583.75 62.0 583.30 59.6 582.85 57.8 582.40 58.0 581.95 59.6 581.50 57.5 581.05 58.0 580.60 57.5 580.15 61.8 579.70 57.0 579.25 57.4 578.80 54.4 578.35 54.0 577.90 52.5 577.45 53.1 577.00 49.3 576.55 49.5 576.10 48.2 575.65 51.6 575.20 45.7 574.75 45.4 574.30 43.8 573.85 43.6 573.40 44.1 572.95 48.9 572.50 45.4 572.05 47.6 571.60 46.9 571.15 50.7 570.70 49.0 570.25 53.6 569.80 51.1 569.35 55.8 568.90 51.7 568.45 52.8 568.00 55.5 567.55 57.4 567.10 54.8 566.65 55.5 566.20 54.9 565.75 55.2 565.30 56.0 564.85 56.7 564.40 56.1 563.95 60.5 563.50 61.7 563.05 58.1 562.60 64.0 562.15 58.2 561.70 64.9 561.25 58.2 560.80 58.0 560.35 54.2 559.90 53.2 559.45 52.7 559.00 50.3 558.55 49.6 558.10 54.3 557.65 46.1 557.20 43.8 556.75 39.2 556.30 39.0 555.85 48.0 555.40 51.0 554.95 48.6 554.50 49.6 554.05 49.8 553.60 53.7 553.15 50.1 552.70 50.2 552.25 54.5 551.80 50.8 551.35 52.6 550.90 50.8 550.45 51.4 550.00 54.3 549.55 53.3 549.10 52.0 548.65 56.2 548.20 54.2 547.75 52.2 547.30 50.5 546.85 50.1 546.40 50.4 545.95 50.5 545.50 50.1 545.05 50.9 544.60 50.7 544.15 52.1 543.70 52.8 543.25 52.0 542.80 52.4 542.35 54.1 541.90 52.8 541.45 53.3 541.00 52.0 540.55 56.2 540.10 51.2 539.65 51.9 539.20 53.3 538.75 52.0 538.30 53.5 537.85 54.7 537.40 55.0 Z" fill="#5280ba" fill-opacity="0.45" stroke="none"/>
<path d="M537.40 43.5 537.85 44.9 538.30 43.9 538.75 43.9 539.20 44.9 539.65 44.4 540.10 44.2 540.55 43.7 541.00 43.4 541.45 44.3 541.90 44.5 542.35 43.0 542.80 44.0 543.25 44.7 543.70 43.8 544.15 43.3 544.60 42.1 545.05 42.6 545.50 42.3 545.95 41.8 546.40 42.5 546.85 41.1 547.30 42.3 547.75 41.4 548.20 43.3 548.65 43.8 549.10 45.0 549.55 42.9 550.00 44.6 550.45 44.1 550.90 43.0 551.35 44.5 551.80 44.0 552.25 43.4 552.70 42.8 553.15 42.9 553.60 43.2 554.05 42.4 554.50 40.9 554.95 40.8 555.40 38.6 555.85 34.3 556.30 31.3 556.75 30.9 557.20 32.5 557.65 37.3 558.10 40.2 558.55 40.9 559.00 42.7 559.45 43.8 559.90 45.2 560.35 45.0 560.80 46.1 561.25 50.3 561.70 50.6 562.15 50.0 562.60 48.7 563.05 50.4 563.50 49.4 563.95 49.0 564.40 47.0 564.85 47.9 565.30 48.3 565.75 47.9 566.20 46.3 566.65 47.4 567.10 46.8 567.55 47.0 568.00 46.7 568.45 44.6 568.90 44.0 569.35 43.1 569.80 43.4 570.25 42.3 570.70 40.6 571.15 40.5 571.60 39.6 572.05 38.7 572.50 38.4 572.95 36.9 573.40 37.2 573.85 35.6 574.30 35.5 574.75 35.1 575.20 37.7 575.65 38.9 576.10 40.8 576.55 40.4 577.00 41.5 577.45 43.4 577.90 44.8 578.35 44.8 578.80 46.2 579.25 48.2 579.70 48.6 580.15 49.1 580.60 50.5 581.05 46.3 581.50 50.8 581.95 50.4 582.40 50.8 582.85 51.0 583.30 51.3 583.75 50.8 584.20 50.7 584.65 47.3 585.10 50.9 585.55 51.0 586.00 51.0 586.45 50.9 586.90 50.3 587.35 50.9 587.80 50.2 588.25 50.5 588.70 50.8 589.15 51.6 589.60 51.7 590.05 52.2 590.50 51.8 590.95 52.8 591.40 50.4 591.85 53.3 592.30 52.4 592.75 52.6 593.20 51.0 593.65 49.3 594.10 46.4 594.55 52.0 595.00 51.5 595.45 51.7 595.90 48.7 596.35 49.2 596.80 53.1 597.25 52.0 597.70 53.6 598.15 52.4 598.60 51.9 599.05 52.7 599.50 52.0 599.95 52.6 600.40 49.4 600.85 50.9 601.30 50.7 601.75 50.7 602.20 51.0 602.65 47.4 603.10 45.4 603.55 45.2 604.00 48.0 604.45 51.5 604.90 51.5 605.35 51.5 605.80 52.8 606.25 53.0 606.70 51.7 607.15 54.8 607.60 55.6 608.05 55.3 608.50 55.5 608.95 54.8 609.40 55.4 609.85 54.5 610.30 54.8 610.75 54.0 611.20 53.9 611.65 54.3 612.10 53.1 612.55 51.9 613.00 53.5 613.45 53.5 613.90 51.4 614.35 53.0 614.80 51.8 615.25 52.5 615.70 53.7 616.15 49.4 616.60 52.4 617.05 52.8 617.50 52.4 617.95 52.5 618.40 50.3 618.85 52.1 619.30 52.8 619.75 52.2 620.20 47.4 620.65 52.5 621.10 52.6 621.55 51.3 622.00 50.8 622.45 51.1 622.90 50.5 623.35 51.6 623.80 50.6 624.25 51.2 624.70 49.5 625.15 52.1 625.60 52.5 626.05 51.7 626.50 50.7 626.95 51.8 627.40 49.8 627.85 50.1 628.30 48.7 628.75 49.2 629.20 50.3 629.65 49.8 630.10 50.0 630.55 50.8 631.00 46.6 631.45 50.8 631.90 51.3 632.35 48.2 632.80 48.6 633.25 51.3 633.70 51.2 634.15 52.2 634.60 49.3 635.05 51.2 635.50 52.6 635.95 52.5 636.40 51.1 636.85 53.2 637.30 53.2 637.75 52.0 638.20 52.6 638.65 53.9 639.10 52.4 639.55 53.3 640.00 52.9 640.45 52.8 640.90 51.6 641.35 48.7 641.80 52.4 642.25 52.9 642.70 50.5 643.15 54.0 643.60 53.6 644.05 54.0 644.50 54.7 644.95 54.2 645.40 55.0 645.85 54.0 646.30 53.3 646.75 53.3 647.20 52.6 647.65 53.0 648.10 52.8 648.55 52.8 649.00 52.1 649.45 53.8 649.90 52.7 650.35 53.1 650.80 53.4 651.25 53.8 651.70 53.7 652.15 53.5 652.60 53.4 653.05 53.2 653.50 52.9 653.95 53.5 654.40 53.7 654.85 50.9 655.30 53.3 655.75 48.2 656.20 51.8 656.65 52.6 657.10 53.0 657.55 53.0 658.00 53.7 658.45 51.4 658.90 54.3 659.35 54.5 659.80 51.9 660.25 53.2 660.70 49.6 661.15 52.5 661.60 52.6 662.05 52.6 662.50 50.8 662.95 53.4 663.40 53.9 663.85 52.6 664.30 54.5 664.75 54.9 665.20 55.6 665.65 55.6 666.10 55.4 666.55 54.4 667.00 55.1 667.45 54.6 667.90 54.6 668.35 53.2 668.80 50.6 669.25 50.6 669.70 50.3 670.15 53.6 670.60 54.1 671.05 53.5 671.50 52.1 671.95 53.1 672.40 54.0 672.85 52.3 673.30 54.4 673.75 54.8 674.20 54.1 674.65 54.2 675.10 55.5 675.55 54.7 676.00 55.4 676.45 55.2 676.90 55.3 677.35 54.9 677.80 54.9 678.25 55.9 L678.25 62.7 677.80 61.4 677.35 61.4 676.90 61.2 676.45 65.8 676.00 63.7 675.55 61.9 675.10 61.2 674.65 65.6 674.20 61.1 673.75 61.0 673.30 61.2 672.85 60.4 672.40 61.0 671.95 60.2 671.50 60.7 671.05 60.3 670.60 60.5 670.15 60.7 669.70 60.3 669.25 60.8 668.80 61.3 668.35 60.0 667.90 60.9 667.45 61.7 667.00 62.0 666.55 61.6 666.10 62.0 665.65 61.7 665.20 61.5 664.75 61.8 664.30 61.9 663.85 59.5 663.40 60.7 662.95 59.4 662.50 62.6 662.05 60.2 661.60 59.2 661.15 59.6 660.70 60.0 660.25 59.5 659.80 60.6 659.35 60.9 658.90 60.2 658.45 61.7 658.00 61.1 657.55 62.2 657.10 58.9 656.65 59.1 656.20 62.5 655.75 61.4 655.30 60.3 654.85 62.7 654.40 59.6 653.95 59.9 653.50 62.9 653.05 60.3 652.60 59.8 652.15 59.8 651.70 60.4 651.25 60.1 650.80 61.2 650.35 61.7 649.90 59.9 649.45 59.5 649.00 60.2 648.55 59.5 648.10 59.4 647.65 63.2 647.20 60.4 646.75 59.8 646.30 61.5 645.85 61.1 645.40 60.5 644.95 60.4 644.50 60.8 644.05 60.9 643.60 61.7 643.15 60.8 642.70 59.8 642.25 59.4 641.80 59.5 641.35 58.8 640.90 59.1 640.45 59.3 640.00 60.0 639.55 62.0 639.10 59.7 638.65 59.8 638.20 62.4 637.75 61.1 637.30 59.5 636.85 59.6 636.40 63.0 635.95 58.9 635.50 59.5 635.05 58.8 634.60 62.0 634.15 58.6 633.70 57.5 633.25 61.3 632.80 57.5 632.35 57.5 631.90 57.2 631.45 56.8 631.00 58.4 630.55 57.6 630.10 56.2 629.65 56.5 629.20 56.3 628.75 57.9 628.30 56.1 627.85 56.8 627.40 56.6 626.95 58.5 626.50 58.5 626.05 60.8 625.60 59.3 625.15 60.0 624.70 58.9 624.25 58.2 623.80 57.7 623.35 58.7 622.90 58.1 622.45 57.1 622.00 58.8 621.55 58.4 621.10 59.2 620.65 61.8 620.20 58.2 619.75 60.4 619.30 59.2 618.85 58.7 618.40 58.5 617.95 58.0 617.50 58.6 617.05 60.0 616.60 58.2 616.15 58.9 615.70 59.4 615.25 60.6 614.80 59.3 614.35 60.5 613.90 59.5 613.45 59.7 613.00 59.5 612.55 59.5 612.10 59.9 611.65 61.0 611.20 60.6 610.75 63.4 610.30 62.9 609.85 61.0 609.40 65.4 608.95 61.8 608.50 62.4 608.05 63.2 607.60 62.7 607.15 60.7 606.70 60.6 606.25 62.0 605.80 59.1 605.35 58.7 604.90 58.0 604.45 59.4 604.00 54.7 603.55 51.2 603.10 53.2 602.65 55.1 602.20 56.9 601.75 59.2 601.30 56.8 600.85 58.0 600.40 58.2 599.95 62.5 599.50 58.4 599.05 59.8 598.60 59.0 598.15 60.2 597.70 61.0 597.25 59.3 596.80 59.9 596.35 59.0 595.90 58.8 595.45 59.3 595.00 58.0 594.55 59.1 594.10 61.9 593.65 57.7 593.20 58.3 592.75 59.0 592.30 62.1 591.85 59.5 591.40 59.2 590.95 61.6 590.50 58.7 590.05 58.6 589.60 57.6 589.15 58.6 588.70 57.3 588.25 57.2 587.80 58.7 587.35 56.7 586.90 57.5 586.45 57.8 586.00 56.8 585.55 57.0 585.10 57.2 584.65 58.2 584.20 57.0 583.75 57.8 583.30 56.9 582.85 56.6 582.40 57.0 581.95 56.7 581.50 56.4 581.05 56.7 580.60 57.3 580.15 57.3 579.70 56.0 579.25 54.9 578.80 55.0 578.35 53.3 577.90 51.9 577.45 49.3 577.00 48.4 576.55 47.5 576.10 47.1 575.65 45.3 575.20 44.6 574.75 43.2 574.30 42.3 573.85 42.7 573.40 43.9 572.95 44.3 572.50 49.4 572.05 44.6 571.60 46.5 571.15 46.5 570.70 47.4 570.25 48.7 569.80 49.5 569.35 49.8 568.90 50.8 568.45 54.2 568.00 52.2 567.55 53.9 567.10 53.4 566.65 54.1 566.20 53.7 565.75 60.0 565.30 54.2 564.85 54.8 564.40 54.9 563.95 55.3 563.50 57.4 563.05 56.6 562.60 57.3 562.15 56.8 561.70 57.1 561.25 59.7 560.80 58.8 560.35 53.4 559.90 52.7 559.45 53.5 559.00 50.8 558.55 49.8 558.10 46.2 557.65 44.1 557.20 40.7 556.75 39.8 556.30 37.4 555.85 42.4 555.40 45.5 554.95 47.2 554.50 52.7 554.05 49.2 553.60 49.4 553.15 50.0 552.70 49.6 552.25 49.1 551.80 50.6 551.35 50.3 550.90 50.6 550.45 51.1 550.00 50.9 549.55 53.3 549.10 51.8 548.65 50.3 548.20 49.9 547.75 50.4 547.30 49.0 546.85 49.1 546.40 48.8 545.95 48.5 545.50 49.0 545.05 48.6 544.60 49.7 544.15 50.4 543.70 50.9 543.25 51.8 542.80 53.7 542.35 49.9 541.90 50.2 541.45 50.8 541.00 52.4 540.55 50.7 540.10 50.1 539.65 51.3 539.20 50.8 538.75 51.6 538.30 51.7 537.85 51.2 537.40 50.7 Z" fill="#5280ba" stroke="#5280ba" stroke-width="0.5" stroke-linejoin="round"/>
</g>
<line x1="557.5" y1="62.5" x2="557.5" y2="67.6" stroke="#5f86bd" stroke-width="1.0" />
<line x1="574.7" y1="62.5" x2="574.7" y2="67.6" stroke="#5f86bd" stroke-width="1.0" />
<line x1="603.2" y1="62.5" x2="603.2" y2="67.6" stroke="#5f86bd" stroke-width="1.0" />
<line x1="612.2" y1="62.5" x2="612.2" y2="67.6" stroke="#5f86bd" stroke-width="1.0" />
<line x1="630.6" y1="62.5" x2="630.6" y2="67.6" stroke="#5f86bd" stroke-width="1.0" />
<line x1="666.4" y1="62.5" x2="666.4" y2="67.6" stroke="#5f86bd" stroke-width="1.0" />
<line x1="556.5" y1="69.2" x2="556.5" y2="72.8" stroke="#c9d6e8" stroke-width="1.0" />
<line x1="603.2" y1="69.2" x2="603.2" y2="72.8" stroke="#c9d6e8" stroke-width="1.0" />
<line x1="621.7" y1="69.2" x2="621.7" y2="72.8" stroke="#c9d6e8" stroke-width="1.0" />
<line x1="622.7" y1="69.2" x2="622.7" y2="72.8" stroke="#c9d6e8" stroke-width="1.0" />
<line x1="631.1" y1="69.2" x2="631.1" y2="72.8" stroke="#c9d6e8" stroke-width="1.0" />
<line x1="641.1" y1="69.2" x2="641.1" y2="72.8" stroke="#c9d6e8" stroke-width="1.0" />
<line x1="642.7" y1="69.2" x2="642.7" y2="72.8" stroke="#c9d6e8" stroke-width="1.0" />
<line x1="650.6" y1="69.2" x2="650.6" y2="72.8" stroke="#c9d6e8" stroke-width="1.0" />
<line x1="658.5" y1="69.2" x2="658.5" y2="72.8" stroke="#c9d6e8" stroke-width="1.0" />
<line x1="659.5" y1="69.2" x2="659.5" y2="72.8" stroke="#c9d6e8" stroke-width="1.0" />
<text x="539.7" y="86.6" font-size="9.5" fill="#c9665f" text-anchor="start" >K-Mo-N</text>
<text transform="translate(675 85.8) scale(0.9 1)" x="0" y="0" font-size="8.9" fill="#d08a85" text-anchor="end" >97-015-1773</text>
<text transform="translate(675 94.8) scale(0.9 1)" x="0" y="0" font-size="8.9" fill="#d08a85" text-anchor="end" >MoN</text>
<g clip-path="url(#cld)">
<path d="M537.40 116.3 537.85 114.9 538.30 117.6 538.75 116.9 539.20 116.7 539.65 115.6 540.10 116.0 540.55 115.9 541.00 111.5 541.45 113.9 541.90 110.2 542.35 112.9 542.80 117.5 543.25 118.1 543.70 118.0 544.15 117.6 544.60 118.3 545.05 116.2 545.50 118.3 545.95 117.4 546.40 117.1 546.85 112.4 547.30 115.9 547.75 117.5 548.20 116.5 548.65 117.5 549.10 118.2 549.55 117.9 550.00 118.0 550.45 112.1 550.90 114.7 551.35 113.0 551.80 113.6 552.25 109.6 552.70 110.7 553.15 107.1 553.60 98.6 554.05 97.2 554.50 94.3 554.95 96.9 555.40 104.3 555.85 106.8 556.30 113.6 556.75 115.2 557.20 115.7 557.65 116.3 558.10 116.8 558.55 115.5 559.00 116.9 559.45 117.8 559.90 118.1 560.35 118.1 560.80 113.1 561.25 114.4 561.70 119.2 562.15 117.9 562.60 117.9 563.05 121.8 563.50 121.7 563.95 119.5 564.40 120.4 564.85 120.2 565.30 120.9 565.75 120.3 566.20 119.9 566.65 118.0 567.10 115.8 567.55 121.3 568.00 119.8 568.45 118.2 568.90 120.4 569.35 119.9 569.80 120.9 570.25 120.8 570.70 120.5 571.15 121.1 571.60 121.3 572.05 116.4 572.50 121.8 572.95 119.9 573.40 119.9 573.85 118.7 574.30 120.7 574.75 114.2 575.20 120.2 575.65 115.9 576.10 119.8 576.55 118.0 577.00 117.9 577.45 119.4 577.90 118.3 578.35 118.2 578.80 118.0 579.25 118.2 579.70 118.4 580.15 118.8 580.60 113.4 581.05 116.9 581.50 114.3 581.95 112.7 582.40 117.1 582.85 116.8 583.30 114.6 583.75 110.5 584.20 114.7 584.65 115.4 585.10 115.5 585.55 116.2 586.00 116.3 586.45 115.9 586.90 116.0 587.35 115.1 587.80 113.9 588.25 115.0 588.70 115.2 589.15 115.8 589.60 112.5 590.05 116.5 590.50 114.6 590.95 114.6 591.40 116.0 591.85 117.6 592.30 117.1 592.75 116.5 593.20 116.5 593.65 115.8 594.10 116.9 594.55 117.1 595.00 113.0 595.45 115.4 595.90 114.4 596.35 116.3 596.80 119.3 597.25 120.0 597.70 119.9 598.15 120.7 598.60 120.3 599.05 118.1 599.50 120.3 599.95 118.2 600.40 121.5 600.85 121.5 601.30 122.0 601.75 117.4 602.20 119.0 602.65 122.3 603.10 119.2 603.55 120.8 604.00 118.7 604.45 122.5 604.90 121.6 605.35 122.6 605.80 123.2 606.25 121.9 606.70 119.1 607.15 121.5 607.60 119.4 608.05 122.7 608.50 117.4 608.95 122.1 609.40 122.0 609.85 120.2 610.30 122.8 610.75 122.8 611.20 123.8 611.65 123.2 612.10 123.7 612.55 124.2 613.00 124.4 613.45 123.6 613.90 122.3 614.35 123.6 614.80 123.9 615.25 121.2 615.70 121.7 616.15 122.3 616.60 122.1 617.05 122.9 617.50 124.1 617.95 123.8 618.40 122.4 618.85 120.6 619.30 124.2 619.75 123.6 620.20 123.0 620.65 118.6 621.10 122.6 621.55 120.2 622.00 122.6 622.45 121.6 622.90 122.5 623.35 122.1 623.80 122.8 624.25 120.7 624.70 120.0 625.15 122.4 625.60 122.5 626.05 122.5 626.50 123.1 626.95 122.4 627.40 122.8 627.85 122.9 628.30 121.8 628.75 121.5 629.20 121.3 629.65 121.2 630.10 119.6 630.55 119.6 631.00 118.8 631.45 121.2 631.90 121.4 632.35 121.1 632.80 120.7 633.25 119.6 633.70 120.0 634.15 119.2 634.60 119.5 635.05 115.4 635.50 118.2 635.95 118.5 636.40 119.5 636.85 119.7 637.30 121.5 637.75 117.5 638.20 122.1 638.65 121.9 639.10 118.1 639.55 123.1 640.00 124.5 640.45 120.6 640.90 123.7 641.35 124.8 641.80 124.7 642.25 123.8 642.70 122.9 643.15 122.2 643.60 123.2 644.05 122.8 644.50 119.6 644.95 121.9 645.40 122.2 645.85 118.7 646.30 123.1 646.75 123.9 647.20 123.9 647.65 122.9 648.10 124.0 648.55 123.1 649.00 123.6 649.45 122.8 649.90 118.1 650.35 124.0 650.80 121.4 651.25 119.7 651.70 124.3 652.15 122.8 652.60 124.7 653.05 125.0 653.50 124.7 653.95 125.3 654.40 124.2 654.85 121.9 655.30 124.0 655.75 122.7 656.20 123.7 656.65 118.4 657.10 123.2 657.55 123.4 658.00 121.2 658.45 123.6 658.90 123.6 659.35 121.3 659.80 123.4 660.25 123.7 660.70 123.9 661.15 123.0 661.60 122.8 662.05 123.0 662.50 122.7 662.95 120.5 663.40 118.2 663.85 121.4 664.30 122.1 664.75 121.9 665.20 122.8 665.65 122.3 666.10 122.1 666.55 123.7 667.00 121.7 667.45 124.2 667.90 122.1 668.35 124.4 668.80 122.6 669.25 118.9 669.70 124.0 670.15 121.3 670.60 122.9 671.05 124.0 671.50 123.4 671.95 120.9 672.40 124.0 672.85 122.9 673.30 123.6 673.75 123.6 674.20 123.4 674.65 119.8 675.10 123.7 675.55 124.3 676.00 123.0 676.45 123.1 676.90 122.3 677.35 124.7 677.80 124.8 678.25 125.3 L678.25 134.1 677.80 133.1 677.35 133.7 676.90 135.4 676.45 132.3 676.00 132.8 675.55 136.0 675.10 135.4 674.65 131.9 674.20 131.7 673.75 134.0 673.30 132.3 672.85 132.4 672.40 131.9 671.95 131.6 671.50 132.1 671.05 138.3 670.60 135.7 670.15 131.7 669.70 132.4 669.25 131.8 668.80 132.6 668.35 134.6 667.90 136.7 667.45 132.4 667.00 132.7 666.55 132.8 666.10 132.3 665.65 131.9 665.20 131.1 664.75 130.7 664.30 130.5 663.85 129.6 663.40 129.6 662.95 133.4 662.50 131.2 662.05 136.0 661.60 132.8 661.15 133.2 660.70 133.6 660.25 133.3 659.80 136.4 659.35 133.1 658.90 133.0 658.45 131.8 658.00 135.9 657.55 131.4 657.10 132.5 656.65 131.5 656.20 133.7 655.75 135.5 655.30 134.1 654.85 135.3 654.40 137.5 653.95 133.6 653.50 133.4 653.05 138.2 652.60 133.3 652.15 132.7 651.70 134.8 651.25 136.9 650.80 136.0 650.35 132.5 649.90 131.8 649.45 132.4 649.00 132.3 648.55 132.5 648.10 132.8 647.65 132.0 647.20 132.0 646.75 132.9 646.30 133.1 645.85 131.5 645.40 134.7 644.95 131.3 644.50 131.3 644.05 132.6 643.60 134.4 643.15 132.4 642.70 136.8 642.25 133.2 641.80 135.1 641.35 133.6 640.90 133.1 640.45 132.2 640.00 136.1 639.55 132.8 639.10 134.3 638.65 131.7 638.20 131.0 637.75 130.7 637.30 134.3 636.85 128.9 636.40 133.1 635.95 131.7 635.50 132.3 635.05 129.4 634.60 128.2 634.15 127.8 633.70 130.1 633.25 128.8 632.80 129.1 632.35 129.4 631.90 129.6 631.45 129.0 631.00 130.7 630.55 130.0 630.10 130.3 629.65 129.6 629.20 130.8 628.75 130.5 628.30 131.2 627.85 131.8 627.40 131.6 626.95 132.1 626.50 134.0 626.05 135.7 625.60 130.8 625.15 134.1 624.70 131.3 624.25 132.8 623.80 136.1 623.35 131.4 622.90 132.1 622.45 131.0 622.00 131.4 621.55 131.6 621.10 133.1 620.65 135.7 620.20 131.1 619.75 131.9 619.30 136.9 618.85 133.1 618.40 133.3 617.95 132.1 617.50 131.8 617.05 131.6 616.60 132.3 616.15 135.8 615.70 131.9 615.25 132.4 614.80 132.0 614.35 132.1 613.90 132.5 613.45 132.2 613.00 136.3 612.55 134.4 612.10 133.6 611.65 138.0 611.20 132.2 610.75 131.9 610.30 132.5 609.85 131.5 609.40 135.3 608.95 131.5 608.50 134.7 608.05 131.6 607.60 132.5 607.15 131.4 606.70 132.5 606.25 131.8 605.80 132.5 605.35 131.7 604.90 130.4 604.45 131.2 604.00 130.7 603.55 132.3 603.10 130.9 602.65 130.5 602.20 131.0 601.75 132.0 601.30 129.8 600.85 130.8 600.40 129.9 599.95 129.9 599.50 130.4 599.05 129.6 598.60 130.9 598.15 133.2 597.70 129.1 597.25 128.7 596.80 127.4 596.35 127.4 595.90 129.2 595.45 125.8 595.00 131.6 594.55 130.2 594.10 124.6 593.65 126.1 593.20 124.5 592.75 126.8 592.30 125.6 591.85 126.5 591.40 127.0 590.95 124.9 590.50 124.8 590.05 125.1 589.60 126.1 589.15 129.0 588.70 126.8 588.25 128.3 587.80 125.1 587.35 125.2 586.90 125.1 586.45 124.5 586.00 124.5 585.55 125.3 585.10 125.6 584.65 125.1 584.20 125.5 583.75 124.8 583.30 129.9 582.85 125.9 582.40 126.5 581.95 130.2 581.50 127.3 581.05 127.8 580.60 131.0 580.15 126.8 579.70 129.6 579.25 126.9 578.80 132.8 578.35 127.5 577.90 127.7 577.45 127.7 577.00 127.2 576.55 128.6 576.10 133.9 575.65 127.8 575.20 128.4 574.75 128.2 574.30 128.7 573.85 129.4 573.40 131.4 572.95 129.6 572.50 130.7 572.05 129.3 571.60 131.0 571.15 129.4 570.70 129.4 570.25 130.7 569.80 128.7 569.35 129.1 568.90 128.9 568.45 130.2 568.00 133.9 567.55 129.2 567.10 131.1 566.65 131.6 566.20 129.7 565.75 129.1 565.30 130.6 564.85 129.7 564.40 130.4 563.95 129.5 563.50 130.2 563.05 129.7 562.60 134.3 562.15 132.9 561.70 127.9 561.25 128.3 560.80 127.0 560.35 132.2 559.90 127.0 559.45 126.4 559.00 127.1 558.55 125.9 558.10 125.0 557.65 124.3 557.20 129.3 556.75 125.9 556.30 121.8 555.85 117.9 555.40 112.9 554.95 108.8 554.50 107.1 554.05 104.7 553.60 113.4 553.15 115.9 552.70 125.0 552.25 121.5 551.80 123.8 551.35 123.0 550.90 124.4 550.45 128.4 550.00 126.5 549.55 126.7 549.10 126.7 548.65 125.4 548.20 126.3 547.75 125.1 547.30 126.2 546.85 126.6 546.40 125.8 545.95 126.2 545.50 129.6 545.05 126.6 544.60 126.1 544.15 126.2 543.70 126.3 543.25 127.7 542.80 125.6 542.35 127.6 541.90 124.4 541.45 124.3 541.00 124.9 540.55 123.6 540.10 123.6 539.65 126.8 539.20 126.7 538.75 126.1 538.30 128.0 537.85 127.5 537.40 125.5 Z" fill="#cc6762" fill-opacity="0.45" stroke="none"/>
<path d="M537.40 118.1 537.85 116.0 538.30 115.4 538.75 118.1 539.20 115.4 539.65 116.8 540.10 117.0 540.55 116.9 541.00 117.1 541.45 116.9 541.90 117.5 542.35 118.1 542.80 118.7 543.25 119.9 543.70 119.4 544.15 119.0 544.60 119.8 545.05 119.5 545.50 119.1 545.95 118.6 546.40 119.0 546.85 118.3 547.30 118.5 547.75 118.4 548.20 117.5 548.65 117.4 549.10 118.8 549.55 118.3 550.00 119.2 550.45 118.0 550.90 116.7 551.35 114.8 551.80 114.0 552.25 114.1 552.70 113.4 553.15 107.3 553.60 102.9 554.05 97.8 554.50 95.8 554.95 100.7 555.40 105.1 555.85 110.4 556.30 115.4 556.75 115.2 557.20 115.8 557.65 117.3 558.10 118.5 558.55 117.6 559.00 118.8 559.45 119.3 559.90 119.0 560.35 119.4 560.80 120.6 561.25 119.9 561.70 120.8 562.15 121.4 562.60 120.4 563.05 122.7 563.50 122.6 563.95 122.5 564.40 122.7 564.85 122.3 565.30 121.8 565.75 121.9 566.20 122.7 566.65 121.8 567.10 122.8 567.55 121.7 568.00 122.1 568.45 121.9 568.90 121.8 569.35 120.9 569.80 122.4 570.25 120.9 570.70 122.0 571.15 122.4 571.60 122.9 572.05 121.6 572.50 120.7 572.95 122.5 573.40 122.0 573.85 118.5 574.30 118.5 574.75 120.1 575.20 121.2 575.65 120.2 576.10 121.3 576.55 120.0 577.00 120.4 577.45 120.8 577.90 120.3 578.35 118.2 578.80 121.0 579.25 120.3 579.70 120.5 580.15 118.9 580.60 119.3 581.05 117.6 581.50 118.8 581.95 118.5 582.40 117.8 582.85 117.9 583.30 116.8 583.75 118.3 584.20 117.4 584.65 118.0 585.10 117.5 585.55 115.0 586.00 117.6 586.45 116.9 586.90 117.5 587.35 117.6 587.80 117.4 588.25 116.9 588.70 117.1 589.15 116.5 589.60 114.0 590.05 116.9 590.50 116.9 590.95 118.3 591.40 116.4 591.85 118.0 592.30 119.2 592.75 118.5 593.20 118.0 593.65 117.6 594.10 114.0 594.55 117.9 595.00 118.4 595.45 118.6 595.90 118.0 596.35 119.1 596.80 120.3 597.25 121.2 597.70 121.4 598.15 121.7 598.60 122.2 599.05 122.1 599.50 122.0 599.95 121.2 600.40 122.1 600.85 121.6 601.30 122.2 601.75 122.5 602.20 123.4 602.65 123.3 603.10 124.1 603.55 120.4 604.00 122.9 604.45 122.8 604.90 123.4 605.35 124.0 605.80 124.3 606.25 123.7 606.70 121.2 607.15 123.2 607.60 123.7 608.05 122.7 608.50 123.9 608.95 123.7 609.40 123.3 609.85 123.9 610.30 125.2 610.75 125.1 611.20 125.1 611.65 125.4 612.10 125.5 612.55 126.0 613.00 124.5 613.45 125.5 613.90 124.8 614.35 124.8 614.80 124.1 615.25 125.2 615.70 124.9 616.15 123.9 616.60 124.2 617.05 124.5 617.50 125.2 617.95 122.9 618.40 124.3 618.85 125.0 619.30 124.4 619.75 122.5 620.20 123.6 620.65 123.5 621.10 123.7 621.55 124.1 622.00 124.1 622.45 124.2 622.90 124.2 623.35 122.0 623.80 124.0 624.25 124.1 624.70 123.6 625.15 123.6 625.60 123.8 626.05 123.7 626.50 123.8 626.95 122.1 627.40 124.1 627.85 120.8 628.30 124.5 628.75 123.6 629.20 123.1 629.65 121.9 630.10 122.8 630.55 122.8 631.00 122.4 631.45 122.7 631.90 122.7 632.35 120.4 632.80 122.4 633.25 121.4 633.70 121.5 634.15 120.4 634.60 120.4 635.05 120.6 635.50 120.4 635.95 119.7 636.40 121.0 636.85 122.0 637.30 121.3 637.75 123.8 638.20 123.5 638.65 123.9 639.10 124.7 639.55 125.3 640.00 125.8 640.45 125.8 640.90 124.9 641.35 126.2 641.80 124.5 642.25 125.5 642.70 125.4 643.15 125.1 643.60 124.6 644.05 125.2 644.50 124.5 644.95 124.6 645.40 124.7 645.85 122.5 646.30 124.3 646.75 124.3 647.20 120.3 647.65 125.3 648.10 124.9 648.55 124.2 649.00 124.6 649.45 124.6 649.90 124.4 650.35 124.5 650.80 124.8 651.25 125.5 651.70 122.8 652.15 125.6 652.60 126.3 653.05 125.5 653.50 125.7 653.95 125.6 654.40 126.0 654.85 126.0 655.30 124.4 655.75 125.0 656.20 123.6 656.65 124.8 657.10 124.3 657.55 124.2 658.00 123.4 658.45 124.2 658.90 125.5 659.35 123.0 659.80 125.6 660.25 125.0 660.70 123.1 661.15 125.2 661.60 124.0 662.05 122.7 662.50 124.0 662.95 122.9 663.40 122.7 663.85 123.1 664.30 122.9 664.75 123.1 665.20 122.0 665.65 124.1 666.10 124.9 666.55 125.3 667.00 125.4 667.45 125.8 667.90 124.6 668.35 125.5 668.80 124.7 669.25 125.0 669.70 123.5 670.15 125.0 670.60 124.7 671.05 125.3 671.50 124.9 671.95 124.9 672.40 125.3 672.85 125.1 673.30 124.7 673.75 125.0 674.20 123.7 674.65 125.1 675.10 125.3 675.55 125.9 676.00 125.4 676.45 125.9 676.90 125.4 677.35 125.8 677.80 125.4 678.25 125.2 L678.25 132.4 677.80 132.1 677.35 131.9 676.90 131.4 676.45 131.3 676.00 131.8 675.55 131.0 675.10 131.8 674.65 131.3 674.20 131.0 673.75 131.1 673.30 132.1 672.85 130.7 672.40 130.6 671.95 131.1 671.50 130.7 671.05 131.1 670.60 130.9 670.15 131.0 669.70 131.0 669.25 130.6 668.80 130.6 668.35 131.0 667.90 130.9 667.45 131.1 667.00 131.2 666.55 131.3 666.10 131.4 665.65 130.2 665.20 130.1 664.75 129.7 664.30 128.9 663.85 129.5 663.40 128.6 662.95 128.9 662.50 130.1 662.05 130.2 661.60 130.4 661.15 131.3 660.70 130.6 660.25 132.7 659.80 132.4 659.35 135.0 658.90 132.0 658.45 130.1 658.00 130.4 657.55 130.0 657.10 130.1 656.65 131.6 656.20 130.2 655.75 130.9 655.30 131.2 654.85 131.1 654.40 134.1 653.95 131.7 653.50 131.5 653.05 132.3 652.60 132.2 652.15 132.4 651.70 131.4 651.25 131.6 650.80 130.5 650.35 130.9 649.90 130.7 649.45 131.6 649.00 130.4 648.55 130.5 648.10 131.6 647.65 130.8 647.20 130.7 646.75 131.4 646.30 129.7 645.85 129.9 645.40 132.8 644.95 130.6 644.50 130.0 644.05 131.3 643.60 130.7 643.15 131.2 642.70 131.8 642.25 131.4 641.80 135.8 641.35 131.3 640.90 134.5 640.45 135.3 640.00 131.1 639.55 131.0 639.10 130.4 638.65 130.2 638.20 129.2 637.75 130.8 637.30 128.6 636.85 128.1 636.40 126.9 635.95 126.9 635.50 126.2 635.05 126.1 634.60 126.8 634.15 126.5 633.70 128.0 633.25 127.5 632.80 128.1 632.35 128.4 631.90 129.0 631.45 128.0 631.00 128.1 630.55 129.1 630.10 128.8 629.65 130.9 629.20 129.1 628.75 129.3 628.30 130.2 627.85 132.1 627.40 132.4 626.95 129.4 626.50 131.4 626.05 129.8 625.60 130.1 625.15 130.8 624.70 130.2 624.25 130.0 623.80 132.0 623.35 130.8 622.90 129.9 622.45 130.0 622.00 129.5 621.55 130.2 621.10 131.1 620.65 131.7 620.20 129.9 619.75 130.5 619.30 132.2 618.85 130.4 618.40 130.3 617.95 130.9 617.50 131.6 617.05 130.5 616.60 131.7 616.15 130.0 615.70 133.0 615.25 130.7 614.80 130.2 614.35 130.5 613.90 130.7 613.45 131.1 613.00 132.1 612.55 131.4 612.10 130.8 611.65 131.7 611.20 131.0 610.75 131.0 610.30 130.7 609.85 129.9 609.40 130.4 608.95 129.2 608.50 129.2 608.05 129.6 607.60 130.1 607.15 129.9 606.70 129.7 606.25 131.1 605.80 132.3 605.35 129.9 604.90 129.7 604.45 129.6 604.00 128.8 603.55 129.2 603.10 129.6 602.65 129.3 602.20 130.9 601.75 129.9 601.30 130.7 600.85 129.6 600.40 129.4 599.95 128.5 599.50 128.1 599.05 128.6 598.60 128.8 598.15 128.1 597.70 127.6 597.25 127.1 596.80 127.3 596.35 126.1 595.90 125.6 595.45 124.4 595.00 123.7 594.55 124.0 594.10 123.9 593.65 126.2 593.20 123.7 592.75 124.3 592.30 124.9 591.85 125.1 591.40 123.8 590.95 123.4 590.50 123.6 590.05 123.5 589.60 122.8 589.15 123.6 588.70 123.1 588.25 122.6 587.80 124.0 587.35 122.9 586.90 123.3 586.45 122.9 586.00 123.4 585.55 126.6 585.10 123.5 584.65 124.6 584.20 126.7 583.75 126.4 583.30 124.6 582.85 127.0 582.40 125.1 581.95 125.4 581.50 126.1 581.05 125.4 580.60 124.6 580.15 125.7 579.70 126.3 579.25 126.1 578.80 126.5 578.35 126.9 577.90 130.1 577.45 126.8 577.00 126.8 576.55 126.2 576.10 130.1 575.65 126.8 575.20 127.6 574.75 129.1 574.30 127.6 573.85 127.9 573.40 131.6 572.95 129.3 572.50 129.0 572.05 128.7 571.60 128.2 571.15 128.0 570.70 128.1 570.25 128.1 569.80 129.0 569.35 128.1 568.90 128.2 568.45 127.8 568.00 128.8 567.55 128.1 567.10 131.5 566.65 127.9 566.20 127.8 565.75 128.2 565.30 128.5 564.85 129.0 564.40 128.2 563.95 128.3 563.50 129.4 563.05 130.3 562.60 128.4 562.15 127.4 561.70 129.3 561.25 126.3 560.80 125.9 560.35 125.9 559.90 125.1 559.45 125.4 559.00 124.9 558.55 127.0 558.10 123.6 557.65 123.5 557.20 122.8 556.75 122.6 556.30 120.6 555.85 115.9 555.40 111.5 554.95 106.7 554.50 102.1 554.05 104.1 553.60 109.4 553.15 114.1 552.70 118.8 552.25 119.5 551.80 120.7 551.35 121.9 550.90 123.7 550.45 123.9 550.00 125.2 549.55 124.5 549.10 125.2 548.65 125.2 548.20 124.4 547.75 125.4 547.30 125.2 546.85 124.9 546.40 125.5 545.95 126.4 545.50 125.1 545.05 125.7 544.60 125.0 544.15 125.4 543.70 128.2 543.25 125.7 542.80 124.4 542.35 125.4 541.90 123.1 541.45 122.2 541.00 122.8 540.55 122.4 540.10 122.3 539.65 123.4 539.20 123.2 538.75 123.6 538.30 123.9 537.85 124.1 537.40 124.7 Z" fill="#cc6762" stroke="#cc6762" stroke-width="0.5" stroke-linejoin="round"/>
</g>
<line x1="541.3" y1="135" x2="541.3" y2="142.8" stroke="#e8bbb8" stroke-width="0.7" />
<line x1="553.5" y1="135" x2="553.5" y2="142.8" stroke="#e8bbb8" stroke-width="0.7" />
<line x1="554.9" y1="135" x2="554.9" y2="142.8" stroke="#e8bbb8" stroke-width="0.7" />
<line x1="563.5" y1="135" x2="563.5" y2="142.8" stroke="#e8bbb8" stroke-width="0.7" />
<line x1="579.6" y1="135" x2="579.6" y2="142.8" stroke="#e8bbb8" stroke-width="0.7" />
<line x1="589.3" y1="135" x2="589.3" y2="142.8" stroke="#e8bbb8" stroke-width="0.7" />
<line x1="590.7" y1="135" x2="590.7" y2="142.8" stroke="#e8bbb8" stroke-width="0.7" />
<line x1="596.5" y1="135" x2="596.5" y2="142.8" stroke="#e8bbb8" stroke-width="0.7" />
<line x1="599.1" y1="135" x2="599.1" y2="142.8" stroke="#e8bbb8" stroke-width="0.7" />
<line x1="616.4" y1="135" x2="616.4" y2="142.8" stroke="#e8bbb8" stroke-width="0.7" />
<line x1="618.5" y1="135" x2="618.5" y2="142.8" stroke="#e8bbb8" stroke-width="0.7" />
<line x1="626.9" y1="135" x2="626.9" y2="142.8" stroke="#e8bbb8" stroke-width="0.7" />
<line x1="635.9" y1="135" x2="635.9" y2="142.8" stroke="#e8bbb8" stroke-width="0.7" />
<line x1="639.5" y1="135" x2="639.5" y2="142.8" stroke="#e8bbb8" stroke-width="0.7" />
<line x1="648" y1="135" x2="648" y2="142.8" stroke="#e8bbb8" stroke-width="0.7" />
<line x1="650.1" y1="135" x2="650.1" y2="142.8" stroke="#e8bbb8" stroke-width="0.7" />
<line x1="652.2" y1="135" x2="652.2" y2="142.8" stroke="#e8bbb8" stroke-width="0.7" />
<line x1="661.6" y1="135" x2="661.6" y2="142.8" stroke="#e8bbb8" stroke-width="0.7" />
<line x1="664.8" y1="135" x2="664.8" y2="142.8" stroke="#e8bbb8" stroke-width="0.7" />
<line x1="669" y1="135" x2="669" y2="142.8" stroke="#e8bbb8" stroke-width="0.7" />
<line x1="672.1" y1="135" x2="672.1" y2="142.8" stroke="#e8bbb8" stroke-width="0.7" />
<rect x="536.8" y="2.3" width="142.2" height="141.7" fill="none" stroke="#1a1a1a" stroke-width="1.3"/>
<line x1="536.8" y1="144" x2="536.8" y2="146.6" stroke="#1a1a1a" stroke-width="1" />
<line x1="565.24" y1="144" x2="565.24" y2="146.6" stroke="#1a1a1a" stroke-width="1" />
<line x1="593.68" y1="144" x2="593.68" y2="146.6" stroke="#1a1a1a" stroke-width="1" />
<line x1="622.12" y1="144" x2="622.12" y2="146.6" stroke="#1a1a1a" stroke-width="1" />
<line x1="650.56" y1="144" x2="650.56" y2="146.6" stroke="#1a1a1a" stroke-width="1" />
<line x1="679" y1="144" x2="679" y2="146.6" stroke="#1a1a1a" stroke-width="1" />
<line x1="551.02" y1="144" x2="551.02" y2="145.6" stroke="#1a1a1a" stroke-width="1" />
<line x1="579.46" y1="144" x2="579.46" y2="145.6" stroke="#1a1a1a" stroke-width="1" />
<line x1="607.9" y1="144" x2="607.9" y2="145.6" stroke="#1a1a1a" stroke-width="1" />
<line x1="636.34" y1="144" x2="636.34" y2="145.6" stroke="#1a1a1a" stroke-width="1" />
<line x1="664.78" y1="144" x2="664.78" y2="145.6" stroke="#1a1a1a" stroke-width="1" />
<text x="536.8" y="157.8" font-size="10" fill="#1a1a1a" text-anchor="middle" >30</text>
<text x="565.24" y="157.8" font-size="10" fill="#1a1a1a" text-anchor="middle" >40</text>
<text x="593.68" y="157.8" font-size="10" fill="#1a1a1a" text-anchor="middle" >50</text>
<text x="622.12" y="157.8" font-size="10" fill="#1a1a1a" text-anchor="middle" >60</text>
<text x="650.56" y="157.8" font-size="10" fill="#1a1a1a" text-anchor="middle" >70</text>
<text x="679" y="157.8" font-size="10" fill="#1a1a1a" text-anchor="middle" >80</text>
<text x="607.9" y="170" font-size="12" fill="#1a1a1a" text-anchor="middle">2<tspan font-style="italic">&#952;</tspan> / Degree</text>
<text x="529.8" y="70.25" font-size="12" fill="#1a1a1a" text-anchor="middle" transform="rotate(-90 529.8 70.25)">Intensity / a.u.</text>
<text x="4.5" y="188" font-size="14" fill="#1a1a1a" text-anchor="start" >e</text>
<text x="31.4" y="190.5" font-size="9.5" fill="#5a82ba" text-anchor="start" >Mo-S</text>
<text transform="translate(166.6 190.5) scale(0.9 1)" x="0" y="0" font-size="8.9" fill="#6f90c0" text-anchor="end" >97-010-5091</text>
<text transform="translate(166.6 200.6) scale(0.9 1)" x="0" y="0" font-size="8.9" fill="#6f90c0" text-anchor="end" >2<tspan font-style="italic">H</tspan>-MoS<tspan font-size="6" dy="1.8">2</tspan></text>
<g clip-path="url(#cle)">
<path d="M29.10 220.6 29.55 221.4 30.00 221.4 30.45 221.3 30.90 220.9 31.35 219.0 31.80 220.7 32.25 221.4 32.70 220.9 33.15 221.0 33.60 221.2 34.05 222.1 34.50 221.5 34.95 221.7 35.40 219.9 35.85 222.4 36.30 222.1 36.75 222.4 37.20 222.8 37.65 222.9 38.10 222.4 38.55 223.6 39.00 223.5 39.45 223.4 39.90 223.2 40.35 223.3 40.80 223.7 41.25 224.1 41.70 223.6 42.15 223.6 42.60 224.4 43.05 225.0 43.50 222.7 43.95 221.5 44.40 223.9 44.85 225.4 45.30 225.1 45.75 225.6 46.20 225.1 46.65 225.1 47.10 224.7 47.55 225.3 48.00 225.0 48.45 225.0 48.90 225.4 49.35 224.7 49.80 226.0 50.25 226.1 50.70 225.7 51.15 225.5 51.60 226.2 52.05 224.3 52.50 222.4 52.95 219.0 53.40 217.4 53.85 210.2 54.30 200.5 54.75 193.0 55.20 192.2 55.65 200.2 56.10 208.2 56.55 217.3 57.00 217.5 57.45 221.5 57.90 223.1 58.35 224.6 58.80 226.1 59.25 225.5 59.70 225.2 60.15 224.0 60.60 224.7 61.05 224.0 61.50 223.4 61.95 222.0 62.40 223.1 62.85 221.8 63.30 222.4 63.75 222.4 64.20 218.8 64.65 221.4 65.10 221.2 65.55 220.5 66.00 220.4 66.45 217.5 66.90 219.8 67.35 218.1 67.80 219.7 68.25 218.4 68.70 218.2 69.15 218.2 69.60 217.8 70.05 218.2 70.50 217.9 70.95 217.4 71.40 217.6 71.85 217.3 72.30 216.6 72.75 216.2 73.20 213.4 73.65 215.8 74.10 214.8 74.55 213.4 75.00 215.7 75.45 216.5 75.90 213.4 76.35 216.1 76.80 217.6 77.25 216.9 77.70 217.6 78.15 217.6 78.60 217.8 79.05 218.3 79.50 218.3 79.95 215.8 80.40 218.7 80.85 218.8 81.30 219.9 81.75 219.0 82.20 220.0 82.65 219.7 83.10 217.3 83.55 219.1 84.00 220.6 84.45 220.6 84.90 220.8 85.35 220.2 85.80 221.5 86.25 220.1 86.70 222.1 87.15 222.5 87.60 219.5 88.05 222.5 88.50 222.5 88.95 223.2 89.40 222.1 89.85 221.8 90.30 223.6 90.75 223.9 91.20 224.5 91.65 224.5 92.10 224.1 92.55 224.8 93.00 225.7 93.45 223.8 93.90 226.2 94.35 226.6 94.80 227.0 95.25 227.2 95.70 227.7 96.15 227.7 96.60 228.1 97.05 227.8 97.50 228.9 97.95 227.1 98.40 226.1 98.85 228.4 99.30 228.2 99.75 228.5 100.20 225.3 100.65 229.3 101.10 229.5 101.55 229.5 102.00 230.2 102.45 229.1 102.90 230.6 103.35 230.9 103.80 230.4 104.25 231.4 104.70 231.0 105.15 228.5 105.60 231.2 106.05 228.6 106.50 226.8 106.95 225.8 107.40 223.5 107.85 223.0 108.30 221.9 108.75 226.1 109.20 223.7 109.65 229.0 110.10 229.2 110.55 229.9 111.00 230.5 111.45 230.5 111.90 230.5 112.35 229.5 112.80 230.3 113.25 230.9 113.70 230.5 114.15 231.1 114.60 231.4 115.05 230.5 115.50 231.3 115.95 232.0 116.40 232.1 116.85 231.2 117.30 230.8 117.75 231.8 118.20 231.9 118.65 230.8 119.10 230.8 119.55 228.2 120.00 231.4 120.45 231.3 120.90 230.7 121.35 230.6 121.80 229.0 122.25 230.4 122.70 229.9 123.15 228.3 123.60 228.4 124.05 227.6 124.50 228.0 124.95 227.0 125.40 226.9 125.85 226.9 126.30 226.3 126.75 226.5 127.20 226.2 127.65 228.5 128.10 229.9 128.55 230.7 129.00 229.8 129.45 231.5 129.90 231.6 130.35 232.4 130.80 229.9 131.25 230.6 131.70 231.8 132.15 231.6 132.60 232.5 133.05 231.8 133.50 232.2 133.95 232.3 134.40 232.7 134.85 229.5 135.30 232.9 135.75 232.1 136.20 233.4 136.65 232.5 137.10 229.2 137.55 233.3 138.00 232.0 138.45 232.7 138.90 233.4 139.35 233.6 139.80 233.5 140.25 232.1 140.70 234.0 141.15 233.7 141.60 234.0 142.05 233.2 142.50 233.8 142.95 230.2 143.40 233.5 143.85 233.4 144.30 232.5 144.75 232.8 145.20 233.4 145.65 233.0 146.10 233.3 146.55 233.4 147.00 233.6 147.45 233.6 147.90 231.0 148.35 234.1 148.80 233.3 149.25 234.1 149.70 232.9 150.15 233.4 150.60 233.1 151.05 232.8 151.50 232.4 151.95 230.5 152.40 232.5 152.85 232.2 153.30 230.1 153.75 232.9 154.20 230.8 154.65 229.8 155.10 233.3 155.55 232.6 156.00 231.6 156.45 233.8 156.90 232.1 157.35 233.1 157.80 234.0 158.25 233.1 158.70 234.3 159.15 231.7 159.60 234.4 160.05 235.0 160.50 234.6 160.95 233.3 161.40 233.6 161.85 233.6 162.30 234.2 162.75 234.9 163.20 235.2 163.65 235.5 164.10 235.4 164.55 234.8 165.00 233.7 165.45 235.2 165.90 234.0 166.35 235.8 166.80 235.9 167.25 236.0 167.70 235.4 168.15 236.1 168.60 236.0 169.05 236.4 169.50 235.8 169.95 236.6 L169.95 243.4 169.50 244.5 169.05 242.6 168.60 242.7 168.15 242.4 167.70 243.3 167.25 242.4 166.80 242.1 166.35 243.0 165.90 244.8 165.45 241.5 165.00 241.8 164.55 242.5 164.10 241.4 163.65 241.7 163.20 242.9 162.75 241.0 162.30 243.7 161.85 241.5 161.40 240.4 160.95 241.1 160.50 244.1 160.05 241.1 159.60 241.9 159.15 241.0 158.70 240.8 158.25 240.6 157.80 240.4 157.35 240.0 156.90 240.5 156.45 240.5 156.00 239.5 155.55 239.8 155.10 239.7 154.65 239.9 154.20 239.0 153.75 241.4 153.30 238.8 152.85 239.0 152.40 239.2 151.95 239.6 151.50 238.9 151.05 239.0 150.60 239.2 150.15 240.3 149.70 240.2 149.25 239.9 148.80 239.7 148.35 240.9 147.90 242.9 147.45 240.4 147.00 242.1 146.55 239.5 146.10 239.9 145.65 239.7 145.20 239.8 144.75 239.7 144.30 240.1 143.85 239.5 143.40 240.3 142.95 239.5 142.50 241.0 142.05 243.2 141.60 240.6 141.15 240.3 140.70 240.8 140.25 242.2 139.80 240.0 139.35 242.3 138.90 240.4 138.45 239.3 138.00 239.7 137.55 239.3 137.10 239.6 136.65 240.5 136.20 239.1 135.75 239.1 135.30 240.0 134.85 239.7 134.40 239.0 133.95 238.6 133.50 238.7 133.05 238.7 132.60 239.5 132.15 238.6 131.70 238.9 131.25 238.3 130.80 238.7 130.35 238.3 129.90 238.7 129.45 237.6 129.00 236.6 128.55 237.8 128.10 236.3 127.65 234.6 127.20 233.8 126.75 234.2 126.30 233.3 125.85 233.5 125.40 233.6 124.95 234.4 124.50 233.9 124.05 234.2 123.60 235.2 123.15 237.3 122.70 236.2 122.25 240.6 121.80 236.7 121.35 236.9 120.90 237.4 120.45 237.1 120.00 237.2 119.55 238.6 119.10 238.1 118.65 237.5 118.20 238.0 117.75 238.1 117.30 238.4 116.85 239.8 116.40 238.1 115.95 238.2 115.50 238.8 115.05 238.2 114.60 238.1 114.15 237.3 113.70 237.3 113.25 239.6 112.80 236.5 112.35 236.5 111.90 236.4 111.45 237.1 111.00 236.3 110.55 236.4 110.10 236.3 109.65 234.9 109.20 234.4 108.75 232.8 108.30 232.8 107.85 230.8 107.40 230.6 106.95 231.7 106.50 234.2 106.05 236.4 105.60 237.3 105.15 238.4 104.70 237.9 104.25 238.0 103.80 238.1 103.35 237.4 102.90 237.2 102.45 236.8 102.00 237.8 101.55 236.2 101.10 236.7 100.65 235.5 100.20 235.6 99.75 234.7 99.30 237.0 98.85 235.6 98.40 235.3 97.95 236.5 97.50 236.8 97.05 237.1 96.60 233.9 96.15 234.9 95.70 234.3 95.25 233.8 94.80 233.0 94.35 233.0 93.90 233.9 93.45 232.4 93.00 232.0 92.55 234.9 92.10 231.0 91.65 231.2 91.20 230.4 90.75 232.6 90.30 230.7 89.85 232.6 89.40 232.3 88.95 229.2 88.50 229.0 88.05 229.0 87.60 231.3 87.15 229.2 86.70 228.9 86.25 228.7 85.80 228.5 85.35 227.4 84.90 227.1 84.45 229.3 84.00 227.4 83.55 226.3 83.10 226.2 82.65 226.1 82.20 226.1 81.75 226.0 81.30 227.1 80.85 225.6 80.40 225.2 79.95 224.5 79.50 225.3 79.05 224.1 78.60 224.5 78.15 223.7 77.70 223.9 77.25 223.9 76.80 224.3 76.35 223.5 75.90 222.9 75.45 222.4 75.00 222.8 74.55 222.2 74.10 223.8 73.65 223.2 73.20 222.0 72.75 222.5 72.30 223.4 71.85 223.3 71.40 223.8 70.95 223.7 70.50 224.2 70.05 226.3 69.60 224.5 69.15 225.0 68.70 224.9 68.25 225.0 67.80 226.6 67.35 225.8 66.90 225.8 66.45 226.8 66.00 226.8 65.55 226.7 65.10 229.9 64.65 227.6 64.20 227.8 63.75 228.8 63.30 228.5 62.85 228.5 62.40 229.2 61.95 229.5 61.50 230.0 61.05 230.0 60.60 230.6 60.15 230.9 59.70 231.7 59.25 232.0 58.80 231.8 58.35 232.3 57.90 229.8 57.45 228.9 57.00 225.4 56.55 224.0 56.10 216.1 55.65 207.0 55.20 198.9 54.75 199.5 54.30 208.2 53.85 216.8 53.40 223.4 52.95 226.0 52.50 228.6 52.05 231.3 51.60 232.4 51.15 233.0 50.70 232.1 50.25 232.2 49.80 232.4 49.35 232.2 48.90 231.9 48.45 231.1 48.00 232.2 47.55 231.8 47.10 231.2 46.65 231.2 46.20 231.7 45.75 232.7 45.30 233.9 44.85 231.4 44.40 234.2 43.95 231.8 43.50 231.1 43.05 231.3 42.60 231.0 42.15 231.3 41.70 230.7 41.25 230.8 40.80 229.7 40.35 229.7 39.90 229.5 39.45 230.3 39.00 229.5 38.55 230.1 38.10 229.9 37.65 229.0 37.20 228.9 36.75 229.1 36.30 229.4 35.85 231.9 35.40 228.7 34.95 228.7 34.50 229.9 34.05 231.2 33.60 228.7 33.15 227.9 32.70 227.1 32.25 227.9 31.80 228.3 31.35 226.9 30.90 227.5 30.45 227.2 30.00 229.8 29.55 227.4 29.10 227.6 Z" fill="#5280ba" fill-opacity="0.45" stroke="none"/>
<path d="M29.10 222.0 29.55 222.5 30.00 222.2 30.45 222.3 30.90 222.6 31.35 222.3 31.80 221.8 32.25 222.1 32.70 222.3 33.15 223.0 33.60 223.1 34.05 221.9 34.50 224.0 34.95 223.2 35.40 223.5 35.85 221.7 36.30 223.2 36.75 224.0 37.20 223.9 37.65 224.4 38.10 223.9 38.55 224.7 39.00 224.8 39.45 224.9 39.90 223.4 40.35 225.1 40.80 225.0 41.25 225.1 41.70 225.1 42.15 225.0 42.60 225.6 43.05 225.3 43.50 225.8 43.95 226.2 44.40 226.5 44.85 226.3 45.30 226.6 45.75 226.8 46.20 225.9 46.65 226.5 47.10 226.4 47.55 226.6 48.00 226.7 48.45 226.3 48.90 226.6 49.35 225.5 49.80 227.0 50.25 227.3 50.70 227.4 51.15 226.9 51.60 227.6 52.05 225.9 52.50 223.5 52.95 221.4 53.40 218.2 53.85 210.8 54.30 202.8 54.75 194.5 55.20 193.3 55.65 202.0 56.10 210.7 56.55 218.6 57.00 220.7 57.45 222.4 57.90 224.9 58.35 226.8 58.80 227.1 59.25 227.0 59.70 226.6 60.15 226.2 60.60 225.7 61.05 225.4 61.50 224.6 61.95 224.2 62.40 224.2 62.85 223.9 63.30 221.9 63.75 222.7 64.20 222.2 64.65 222.4 65.10 222.2 65.55 222.2 66.00 222.0 66.45 221.4 66.90 220.7 67.35 220.6 67.80 219.9 68.25 220.3 68.70 220.4 69.15 219.3 69.60 219.5 70.05 219.7 70.50 219.1 70.95 218.5 71.40 218.7 71.85 217.2 72.30 218.2 72.75 217.6 73.20 216.9 73.65 217.0 74.10 216.0 74.55 216.8 75.00 217.2 75.45 217.4 75.90 216.7 76.35 218.1 76.80 218.5 77.25 218.9 77.70 219.1 78.15 218.7 78.60 219.3 79.05 218.5 79.50 219.2 79.95 219.7 80.40 220.3 80.85 219.8 81.30 220.7 81.75 221.0 82.20 221.2 82.65 221.1 83.10 221.4 83.55 221.1 84.00 221.5 84.45 221.7 84.90 222.1 85.35 222.7 85.80 223.3 86.25 223.2 86.70 223.5 87.15 223.6 87.60 223.7 88.05 223.7 88.50 223.6 88.95 224.1 89.40 224.4 89.85 224.5 90.30 224.3 90.75 224.5 91.20 225.4 91.65 225.9 92.10 225.9 92.55 226.4 93.00 227.1 93.45 227.3 93.90 227.8 94.35 227.1 94.80 228.3 95.25 228.6 95.70 228.8 96.15 228.9 96.60 229.4 97.05 229.6 97.50 230.2 97.95 230.4 98.40 229.9 98.85 229.9 99.30 229.2 99.75 230.2 100.20 230.4 100.65 230.5 101.10 231.0 101.55 230.7 102.00 231.3 102.45 231.9 102.90 232.0 103.35 232.2 103.80 232.0 104.25 232.7 104.70 233.0 105.15 232.8 105.60 232.6 106.05 230.0 106.50 228.4 106.95 226.8 107.40 224.8 107.85 223.8 108.30 225.8 108.75 226.4 109.20 228.7 109.65 229.8 110.10 230.9 110.55 230.7 111.00 231.3 111.45 230.9 111.90 231.5 112.35 230.5 112.80 231.7 113.25 232.2 113.70 232.1 114.15 232.5 114.60 232.6 115.05 232.8 115.50 233.4 115.95 233.6 116.40 233.1 116.85 233.4 117.30 233.3 117.75 231.4 118.20 233.3 118.65 232.7 119.10 231.9 119.55 232.7 120.00 232.4 120.45 231.7 120.90 232.6 121.35 232.0 121.80 231.9 122.25 231.2 122.70 230.6 123.15 230.1 123.60 229.8 124.05 229.4 124.50 229.4 124.95 228.8 125.40 228.0 125.85 228.1 126.30 227.7 126.75 226.8 127.20 229.0 127.65 229.3 128.10 229.9 128.55 231.9 129.00 232.2 129.45 232.5 129.90 232.6 130.35 233.2 130.80 233.3 131.25 232.8 131.70 233.1 132.15 233.6 132.60 233.4 133.05 233.6 133.50 233.6 133.95 233.3 134.40 234.3 134.85 234.4 135.30 234.4 135.75 234.2 136.20 234.6 136.65 234.2 137.10 234.6 137.55 234.3 138.00 234.6 138.45 234.6 138.90 235.2 139.35 235.1 139.80 235.5 140.25 233.5 140.70 235.4 141.15 235.3 141.60 235.5 142.05 234.6 142.50 232.8 142.95 235.0 143.40 234.3 143.85 234.8 144.30 234.5 144.75 234.6 145.20 234.4 145.65 234.8 146.10 234.9 146.55 234.8 147.00 234.5 147.45 234.7 147.90 234.9 148.35 235.2 148.80 234.7 149.25 235.0 149.70 234.5 150.15 235.0 150.60 234.2 151.05 233.5 151.50 233.5 151.95 234.2 152.40 234.2 152.85 233.2 153.30 234.0 153.75 234.1 154.20 233.8 154.65 233.8 155.10 232.1 155.55 234.6 156.00 234.7 156.45 234.9 156.90 234.3 157.35 235.3 157.80 235.6 158.25 235.3 158.70 235.8 159.15 235.9 159.60 236.0 160.05 234.9 160.50 233.8 160.95 235.6 161.40 235.1 161.85 236.3 162.30 236.2 162.75 236.0 163.20 235.9 163.65 234.9 164.10 236.4 164.55 236.8 165.00 236.6 165.45 237.0 165.90 236.8 166.35 236.9 166.80 237.0 167.25 237.3 167.70 237.5 168.15 237.8 168.60 237.5 169.05 237.4 169.50 235.3 169.95 237.9 L169.95 241.4 169.50 241.7 169.05 241.5 168.60 241.1 168.15 242.1 167.70 241.0 167.25 242.4 166.80 240.9 166.35 241.6 165.90 240.7 165.45 240.4 165.00 241.9 164.55 241.7 164.10 240.1 163.65 240.5 163.20 240.8 162.75 240.0 162.30 240.4 161.85 239.6 161.40 239.9 160.95 239.4 160.50 239.9 160.05 241.2 159.60 240.0 159.15 239.7 158.70 239.4 158.25 239.6 157.80 239.3 157.35 239.2 156.90 238.9 156.45 238.9 156.00 238.4 155.55 238.5 155.10 238.1 154.65 237.6 154.20 237.9 153.75 237.7 153.30 238.0 152.85 237.8 152.40 237.5 151.95 237.9 151.50 237.8 151.05 237.9 150.60 237.9 150.15 239.0 149.70 238.6 149.25 238.7 148.80 238.9 148.35 238.7 147.90 239.3 147.45 238.7 147.00 238.5 146.55 238.4 146.10 238.5 145.65 238.3 145.20 238.9 144.75 238.6 144.30 238.5 143.85 238.3 143.40 239.5 142.95 239.2 142.50 241.1 142.05 239.1 141.60 239.0 141.15 239.3 140.70 238.9 140.25 239.0 139.80 239.0 139.35 239.0 138.90 240.1 138.45 238.4 138.00 238.6 137.55 238.2 137.10 238.4 136.65 238.2 136.20 237.9 135.75 238.1 135.30 238.6 134.85 240.3 134.40 237.7 133.95 237.5 133.50 238.0 133.05 237.0 132.60 237.4 132.15 237.4 131.70 236.9 131.25 238.9 130.80 237.0 130.35 237.0 129.90 237.3 129.45 236.1 129.00 235.8 128.55 235.8 128.10 234.5 127.65 233.5 127.20 232.9 126.75 231.8 126.30 231.7 125.85 231.7 125.40 231.7 124.95 232.8 124.50 232.8 124.05 233.1 123.60 234.3 123.15 234.1 122.70 235.0 122.25 236.0 121.80 235.6 121.35 235.7 120.90 236.2 120.45 236.4 120.00 236.0 119.55 236.0 119.10 236.5 118.65 236.9 118.20 236.7 117.75 237.8 117.30 236.9 116.85 237.1 116.40 236.9 115.95 237.1 115.50 236.9 115.05 237.5 114.60 236.5 114.15 236.3 113.70 235.7 113.25 235.6 112.80 235.4 112.35 234.9 111.90 235.2 111.45 235.5 111.00 237.2 110.55 235.1 110.10 236.2 109.65 234.4 109.20 232.5 108.75 231.9 108.30 229.5 107.85 228.5 107.40 228.8 106.95 230.6 106.50 232.2 106.05 234.0 105.60 236.1 105.15 237.0 104.70 237.1 104.25 236.5 103.80 237.2 103.35 236.5 102.90 236.1 102.45 236.9 102.00 235.5 101.55 235.1 101.10 234.5 100.65 234.6 100.20 234.5 99.75 233.5 99.30 233.9 98.85 233.7 98.40 233.8 97.95 233.7 97.50 233.7 97.05 233.2 96.60 233.1 96.15 233.1 95.70 233.0 95.25 232.4 94.80 232.0 94.35 231.3 93.90 231.1 93.45 231.1 93.00 230.9 92.55 230.0 92.10 229.7 91.65 229.2 91.20 230.9 90.75 229.3 90.30 229.5 89.85 228.5 89.40 228.2 88.95 228.5 88.50 228.0 88.05 228.0 87.60 227.2 87.15 227.3 86.70 227.1 86.25 227.1 85.80 226.7 85.35 226.2 84.90 225.9 84.45 226.6 84.00 225.7 83.55 224.9 83.10 225.6 82.65 225.1 82.20 224.6 81.75 224.8 81.30 224.9 80.85 224.1 80.40 223.6 79.95 223.2 79.50 223.2 79.05 223.1 78.60 222.9 78.15 222.5 77.70 223.1 77.25 223.2 76.80 223.3 76.35 222.4 75.90 221.8 75.45 221.4 75.00 221.1 74.55 220.9 74.10 220.1 73.65 220.6 73.20 221.0 72.75 221.6 72.30 221.7 71.85 222.8 71.40 222.3 70.95 222.8 70.50 223.2 70.05 224.9 69.60 223.1 69.15 223.5 68.70 223.9 68.25 224.0 67.80 224.4 67.35 224.3 66.90 224.5 66.45 225.1 66.00 225.8 65.55 225.9 65.10 225.9 64.65 226.5 64.20 226.8 63.75 227.4 63.30 227.2 62.85 228.0 62.40 227.9 61.95 228.5 61.50 228.4 61.05 228.9 60.60 229.6 60.15 229.9 59.70 230.0 59.25 231.9 58.80 230.7 58.35 230.8 57.90 228.7 57.45 227.6 57.00 224.3 56.55 222.2 56.10 214.6 55.65 206.0 55.20 197.3 54.75 197.8 54.30 206.7 53.85 215.7 53.40 222.1 52.95 224.7 52.50 227.1 52.05 229.4 51.60 231.8 51.15 231.2 50.70 232.8 50.25 231.2 49.80 230.7 49.35 230.2 48.90 230.8 48.45 230.1 48.00 230.2 47.55 230.3 47.10 230.0 46.65 230.4 46.20 230.7 45.75 230.8 45.30 230.5 44.85 230.3 44.40 230.1 43.95 229.6 43.50 229.6 43.05 231.1 42.60 229.4 42.15 228.9 41.70 228.9 41.25 229.0 40.80 228.9 40.35 228.6 39.90 228.7 39.45 228.3 39.00 228.4 38.55 228.4 38.10 227.8 37.65 228.1 37.20 227.8 36.75 227.6 36.30 227.3 35.85 227.2 35.40 226.9 34.95 227.6 34.50 227.9 34.05 227.5 33.60 226.8 33.15 226.8 32.70 225.9 32.25 226.0 31.80 226.0 31.35 225.7 30.90 226.8 30.45 226.4 30.00 226.0 29.55 228.3 29.10 225.9 Z" fill="#5280ba" stroke="#5280ba" stroke-width="0.5" stroke-linejoin="round"/>
</g>
<line x1="55" y1="241.5" x2="55" y2="251" stroke="#7d9cc8" stroke-width="0.7" />
<line x1="96.8" y1="241.5" x2="96.8" y2="251" stroke="#7d9cc8" stroke-width="0.7" />
<line x1="107.1" y1="241.5" x2="107.1" y2="251" stroke="#7d9cc8" stroke-width="0.7" />
<line x1="108.8" y1="241.5" x2="108.8" y2="251" stroke="#7d9cc8" stroke-width="0.7" />
<line x1="116.1" y1="241.5" x2="116.1" y2="251" stroke="#7d9cc8" stroke-width="0.7" />
<line x1="126.4" y1="241.5" x2="126.4" y2="251" stroke="#7d9cc8" stroke-width="0.7" />
<line x1="139.7" y1="241.5" x2="139.7" y2="251" stroke="#7d9cc8" stroke-width="0.7" />
<line x1="155.8" y1="241.5" x2="155.8" y2="251" stroke="#7d9cc8" stroke-width="0.7" />
<text x="31.4" y="263.6" font-size="9.5" fill="#c9665f" text-anchor="start" >K-Mo-S</text>
<text x="38.6" y="280" font-size="7" fill="#1a1a1a" text-anchor="middle" >1<tspan font-style="italic">T</tspan></text>
<text x="38.6" y="286.8" font-size="7" fill="#1a1a1a" text-anchor="middle" >(002)</text>
<g clip-path="url(#cle)">
<path d="M29.10 303.0 29.55 303.6 30.00 303.1 30.45 303.5 30.90 303.0 31.35 303.3 31.80 303.5 32.25 300.8 32.70 303.8 33.15 303.4 33.60 303.2 34.05 303.5 34.50 303.8 34.95 304.4 35.40 305.0 35.85 305.0 36.30 305.1 36.75 304.6 37.20 304.4 37.65 305.6 38.10 304.6 38.55 303.5 39.00 300.6 39.45 300.2 39.90 299.4 40.35 297.9 40.80 294.6 41.25 289.7 41.70 284.8 42.15 291.5 42.60 296.8 43.05 301.8 43.50 302.9 43.95 302.5 44.40 304.1 44.85 304.6 45.30 302.3 45.75 304.1 46.20 304.4 46.65 304.4 47.10 304.7 47.55 304.7 48.00 304.1 48.45 304.9 48.90 304.7 49.35 304.1 49.80 304.5 50.25 304.1 50.70 304.1 51.15 301.3 51.60 301.5 52.05 304.4 52.50 302.0 52.95 301.9 53.40 304.8 53.85 297.4 54.30 286.7 54.75 278.1 55.20 267.8 55.65 269.2 56.10 280.8 56.55 292.4 57.00 303.8 57.45 303.2 57.90 300.9 58.35 303.7 58.80 304.4 59.25 304.1 59.70 304.5 60.15 304.7 60.60 302.0 61.05 304.2 61.50 304.0 61.95 303.4 62.40 303.1 62.85 303.8 63.30 303.4 63.75 302.5 64.20 303.3 64.65 302.2 65.10 301.8 65.55 301.1 66.00 300.4 66.45 300.8 66.90 299.9 67.35 299.9 67.80 299.8 68.25 299.9 68.70 296.8 69.15 299.2 69.60 298.9 70.05 298.5 70.50 298.5 70.95 296.6 71.40 298.3 71.85 298.3 72.30 298.3 72.75 297.3 73.20 295.8 73.65 297.7 74.10 298.1 74.55 296.0 75.00 298.1 75.45 298.7 75.90 298.7 76.35 299.1 76.80 298.9 77.25 299.5 77.70 299.6 78.15 299.7 78.60 299.8 79.05 299.8 79.50 299.8 79.95 299.8 80.40 300.6 80.85 300.5 81.30 300.7 81.75 300.5 82.20 299.4 82.65 300.1 83.10 301.0 83.55 301.1 84.00 301.4 84.45 302.0 84.90 301.9 85.35 301.7 85.80 302.4 86.25 302.2 86.70 302.2 87.15 302.8 87.60 302.7 88.05 302.7 88.50 302.6 88.95 303.1 89.40 302.4 89.85 303.1 90.30 302.7 90.75 301.0 91.20 303.2 91.65 300.4 92.10 302.5 92.55 304.0 93.00 304.0 93.45 304.1 93.90 304.5 94.35 304.1 94.80 303.1 95.25 305.5 95.70 305.1 96.15 306.0 96.60 305.7 97.05 305.2 97.50 304.1 97.95 306.7 98.40 306.8 98.85 306.1 99.30 306.2 99.75 307.0 100.20 307.1 100.65 307.0 101.10 307.3 101.55 307.8 102.00 308.0 102.45 308.0 102.90 308.9 103.35 308.1 103.80 307.8 104.25 308.5 104.70 309.0 105.15 308.8 105.60 307.3 106.05 305.5 106.50 305.2 106.95 304.1 107.40 302.4 107.85 303.0 108.30 303.8 108.75 304.7 109.20 305.6 109.65 306.7 110.10 307.1 110.55 306.9 111.00 307.4 111.45 307.2 111.90 306.8 112.35 304.0 112.80 307.5 113.25 306.7 113.70 307.4 114.15 306.6 114.60 307.4 115.05 307.8 115.50 307.7 115.95 306.6 116.40 307.9 116.85 304.9 117.30 307.7 117.75 308.0 118.20 308.1 118.65 308.3 119.10 309.2 119.55 309.0 120.00 309.8 120.45 308.7 120.90 307.4 121.35 308.3 121.80 308.0 122.25 307.9 122.70 307.4 123.15 304.9 123.60 306.3 124.05 305.0 124.50 304.6 124.95 304.5 125.40 305.0 125.85 303.8 126.30 304.4 126.75 305.1 127.20 304.2 127.65 306.0 128.10 306.5 128.55 306.6 129.00 307.2 129.45 308.2 129.90 308.0 130.35 307.1 130.80 308.9 131.25 308.8 131.70 306.2 132.15 308.2 132.60 306.1 133.05 307.5 133.50 308.7 133.95 308.9 134.40 306.8 134.85 306.8 135.30 309.5 135.75 309.2 136.20 310.0 136.65 309.6 137.10 310.0 137.55 309.4 138.00 309.7 138.45 310.3 138.90 310.1 139.35 310.0 139.80 310.0 140.25 310.3 140.70 309.5 141.15 309.3 141.60 309.5 142.05 308.9 142.50 310.8 142.95 310.9 143.40 310.5 143.85 310.5 144.30 310.2 144.75 309.8 145.20 309.4 145.65 309.3 146.10 310.0 146.55 310.1 147.00 309.0 147.45 310.2 147.90 310.4 148.35 309.5 148.80 309.4 149.25 309.3 149.70 309.4 150.15 309.8 150.60 308.2 151.05 309.8 151.50 309.0 151.95 309.5 152.40 309.6 152.85 309.5 153.30 308.6 153.75 309.1 154.20 309.4 154.65 308.5 155.10 309.5 155.55 307.0 156.00 308.6 156.45 308.6 156.90 309.6 157.35 309.2 157.80 309.8 158.25 309.5 158.70 309.8 159.15 309.2 159.60 309.3 160.05 310.1 160.50 310.0 160.95 310.9 161.40 310.0 161.85 311.1 162.30 310.5 162.75 310.6 163.20 311.0 163.65 310.0 164.10 308.8 164.55 310.1 165.00 309.5 165.45 310.5 165.90 310.6 166.35 310.9 166.80 310.8 167.25 310.3 167.70 307.0 168.15 311.0 168.60 311.3 169.05 311.3 169.50 310.6 169.95 310.3 L169.95 316.7 169.50 316.4 169.05 316.3 168.60 317.3 168.15 316.8 167.70 316.5 167.25 316.1 166.80 315.9 166.35 316.7 165.90 318.9 165.45 315.8 165.00 316.1 164.55 315.9 164.10 316.4 163.65 316.3 163.20 316.5 162.75 316.2 162.30 316.0 161.85 316.2 161.40 316.3 160.95 317.8 160.50 315.9 160.05 315.4 159.60 316.0 159.15 315.0 158.70 314.8 158.25 317.3 157.80 315.1 157.35 315.2 156.90 314.8 156.45 316.4 156.00 316.2 155.55 315.0 155.10 314.3 154.65 315.1 154.20 315.6 153.75 314.7 153.30 318.1 152.85 316.3 152.40 314.5 151.95 316.3 151.50 315.1 151.05 315.0 150.60 315.2 150.15 315.4 149.70 315.3 149.25 315.3 148.80 316.0 148.35 315.7 147.90 315.8 147.45 315.6 147.00 315.4 146.55 315.5 146.10 315.1 145.65 315.1 145.20 315.2 144.75 315.6 144.30 315.6 143.85 315.6 143.40 316.1 142.95 317.9 142.50 316.6 142.05 315.8 141.60 315.7 141.15 315.9 140.70 317.9 140.25 315.6 139.80 315.6 139.35 315.6 138.90 315.4 138.45 317.0 138.00 315.1 137.55 315.2 137.10 315.8 136.65 315.1 136.20 314.9 135.75 314.7 135.30 315.1 134.85 314.8 134.40 314.4 133.95 315.0 133.50 315.3 133.05 314.1 132.60 314.6 132.15 313.7 131.70 314.6 131.25 314.4 130.80 314.2 130.35 316.0 129.90 315.1 129.45 314.3 129.00 312.9 128.55 312.4 128.10 311.9 127.65 311.7 127.20 311.1 126.75 310.5 126.30 309.5 125.85 310.9 125.40 311.6 124.95 310.7 124.50 310.8 124.05 311.2 123.60 311.3 123.15 313.0 122.70 314.6 122.25 313.5 121.80 313.3 121.35 314.6 120.90 315.8 120.45 314.6 120.00 315.5 119.55 315.8 119.10 314.8 118.65 314.0 118.20 313.7 117.75 313.4 117.30 313.2 116.85 313.3 116.40 316.2 115.95 312.7 115.50 313.2 115.05 312.9 114.60 313.4 114.15 312.6 113.70 312.8 113.25 312.8 112.80 312.8 112.35 312.6 111.90 312.7 111.45 314.5 111.00 312.6 110.55 312.7 110.10 312.4 109.65 312.6 109.20 311.8 108.75 310.9 108.30 309.2 107.85 308.3 107.40 308.0 106.95 309.9 106.50 312.2 106.05 311.6 105.60 312.7 105.15 314.0 104.70 317.2 104.25 314.2 103.80 314.3 103.35 313.7 102.90 315.6 102.45 313.7 102.00 313.8 101.55 313.3 101.10 314.1 100.65 312.7 100.20 312.8 99.75 312.2 99.30 312.0 98.85 311.9 98.40 312.1 97.95 312.0 97.50 312.7 97.05 311.4 96.60 312.0 96.15 311.1 95.70 311.7 95.25 311.4 94.80 310.2 94.35 309.9 93.90 309.7 93.45 310.1 93.00 309.6 92.55 309.3 92.10 309.5 91.65 309.6 91.20 308.3 90.75 308.6 90.30 309.0 89.85 310.8 89.40 308.6 88.95 308.0 88.50 309.3 88.05 308.5 87.60 310.4 87.15 310.2 86.70 307.9 86.25 307.8 85.80 307.3 85.35 307.5 84.90 307.5 84.45 307.2 84.00 306.7 83.55 306.2 83.10 306.1 82.65 306.2 82.20 307.0 81.75 308.7 81.30 306.0 80.85 306.9 80.40 306.0 79.95 306.1 79.50 305.3 79.05 305.2 78.60 305.0 78.15 305.1 77.70 304.9 77.25 304.6 76.80 304.9 76.35 304.4 75.90 304.5 75.45 304.9 75.00 303.8 74.55 303.7 74.10 304.7 73.65 303.7 73.20 303.5 72.75 303.3 72.30 303.5 71.85 303.5 71.40 303.9 70.95 304.0 70.50 304.4 70.05 304.3 69.60 304.6 69.15 306.3 68.70 306.1 68.25 304.9 67.80 305.6 67.35 305.6 66.90 305.7 66.45 306.2 66.00 307.5 65.55 307.4 65.10 307.8 64.65 308.9 64.20 309.2 63.75 309.0 63.30 309.3 62.85 308.8 62.40 309.4 61.95 309.4 61.50 309.6 61.05 309.8 60.60 310.4 60.15 310.1 59.70 310.0 59.25 310.0 58.80 310.1 58.35 309.5 57.90 309.8 57.45 308.6 57.00 311.1 56.55 298.4 56.10 286.8 55.65 275.8 55.20 273.7 54.75 283.8 54.30 293.4 53.85 302.7 53.40 310.1 52.95 310.4 52.50 309.8 52.05 310.6 51.60 309.7 51.15 309.7 50.70 310.0 50.25 310.2 49.80 310.1 49.35 312.2 48.90 310.0 48.45 310.1 48.00 310.1 47.55 310.4 47.10 310.1 46.65 309.6 46.20 309.9 45.75 310.3 45.30 310.6 44.85 310.6 44.40 311.3 43.95 308.7 43.50 307.9 43.05 307.5 42.60 303.1 42.15 297.1 41.70 291.4 41.25 295.6 40.80 300.4 40.35 303.0 39.90 304.7 39.45 306.2 39.00 307.3 38.55 309.6 38.10 310.3 37.65 311.2 37.20 311.6 36.75 311.6 36.30 310.3 35.85 310.0 35.40 309.9 34.95 309.9 34.50 310.7 34.05 309.2 33.60 309.1 33.15 309.1 32.70 309.4 32.25 308.7 31.80 309.3 31.35 308.8 30.90 308.6 30.45 311.9 30.00 309.3 29.55 309.1 29.10 308.9 Z" fill="#cc6762" fill-opacity="0.45" stroke="none"/>
<path d="M29.10 304.8 29.55 304.8 30.00 304.9 30.45 304.5 30.90 304.5 31.35 304.9 31.80 304.4 32.25 303.5 32.70 305.1 33.15 305.1 33.60 305.0 34.05 304.6 34.50 305.8 34.95 304.9 35.40 306.2 35.85 306.0 36.30 306.1 36.75 305.7 37.20 306.4 37.65 305.4 38.10 306.2 38.55 304.8 39.00 303.6 39.45 301.9 39.90 300.5 40.35 297.2 40.80 295.5 41.25 291.1 41.70 286.6 42.15 292.4 42.60 297.9 43.05 303.6 43.50 304.2 43.95 304.5 44.40 305.2 44.85 305.8 45.30 305.9 45.75 306.0 46.20 305.3 46.65 305.5 47.10 305.9 47.55 306.0 48.00 304.9 48.45 305.4 48.90 305.9 49.35 305.6 49.80 306.0 50.25 306.1 50.70 303.8 51.15 305.7 51.60 305.8 52.05 305.8 52.50 305.9 52.95 305.7 53.40 305.9 53.85 298.6 54.30 289.4 54.75 278.8 55.20 269.3 55.65 271.3 56.10 282.5 56.55 293.7 57.00 304.9 57.45 303.6 57.90 305.0 58.35 305.5 58.80 306.0 59.25 305.3 59.70 306.2 60.15 303.6 60.60 305.9 61.05 305.4 61.50 305.3 61.95 304.9 62.40 305.1 62.85 304.9 63.30 304.7 63.75 304.4 64.20 303.8 64.65 303.5 65.10 302.9 65.55 302.5 66.00 302.2 66.45 301.2 66.90 301.0 67.35 300.6 67.80 300.9 68.25 301.0 68.70 300.4 69.15 300.5 69.60 300.4 70.05 300.5 70.50 299.7 70.95 299.7 71.40 299.7 71.85 297.9 72.30 299.6 72.75 299.2 73.20 299.0 73.65 299.0 74.10 299.1 74.55 298.7 75.00 299.1 75.45 299.3 75.90 300.2 76.35 299.7 76.80 300.5 77.25 300.2 77.70 300.7 78.15 300.8 78.60 301.0 79.05 300.3 79.50 300.8 79.95 301.4 80.40 299.9 80.85 302.0 81.30 301.8 81.75 301.9 82.20 302.3 82.65 302.4 83.10 302.3 83.55 302.3 84.00 302.4 84.45 303.3 84.90 303.4 85.35 303.7 85.80 303.6 86.25 303.8 86.70 303.3 87.15 304.0 87.60 303.7 88.05 304.1 88.50 304.1 88.95 304.2 89.40 303.5 89.85 303.8 90.30 303.9 90.75 304.2 91.20 303.8 91.65 304.5 92.10 304.7 92.55 304.8 93.00 305.7 93.45 305.3 93.90 305.2 94.35 306.0 94.80 306.3 95.25 306.8 95.70 307.1 96.15 306.6 96.60 306.9 97.05 307.4 97.50 307.6 97.95 307.4 98.40 308.1 98.85 307.1 99.30 307.8 99.75 308.2 100.20 308.3 100.65 309.0 101.10 309.0 101.55 307.3 102.00 309.0 102.45 309.7 102.90 310.0 103.35 309.7 103.80 309.8 104.25 309.2 104.70 309.2 105.15 310.2 105.60 308.6 106.05 307.3 106.50 306.3 106.95 304.3 107.40 304.0 107.85 304.5 108.30 304.3 108.75 306.3 109.20 307.0 109.65 307.7 110.10 308.7 110.55 308.5 111.00 308.6 111.45 308.7 111.90 308.6 112.35 308.5 112.80 308.7 113.25 307.9 113.70 308.8 114.15 308.3 114.60 308.5 115.05 308.3 115.50 309.2 115.95 308.9 116.40 308.8 116.85 309.3 117.30 309.2 117.75 308.2 118.20 309.2 118.65 310.2 119.10 310.5 119.55 310.3 120.00 311.2 120.45 310.7 120.90 310.5 121.35 310.0 121.80 309.2 122.25 308.8 122.70 308.8 123.15 307.9 123.60 307.6 124.05 306.7 124.50 306.2 124.95 305.9 125.40 306.1 125.85 305.7 126.30 305.3 126.75 306.3 127.20 306.6 127.65 307.0 128.10 308.2 128.55 308.4 129.00 308.8 129.45 309.5 129.90 309.0 130.35 309.9 130.80 310.0 131.25 309.3 131.70 310.1 132.15 309.2 132.60 310.1 133.05 310.1 133.50 310.2 133.95 310.3 134.40 310.5 134.85 310.5 135.30 310.7 135.75 310.8 136.20 311.2 136.65 311.2 137.10 311.4 137.55 311.0 138.00 311.2 138.45 311.3 138.90 310.9 139.35 311.4 139.80 311.3 140.25 311.3 140.70 311.3 141.15 311.5 141.60 311.2 142.05 311.7 142.50 311.9 142.95 312.1 143.40 311.8 143.85 311.5 144.30 311.4 144.75 311.1 145.20 310.6 145.65 311.2 146.10 310.4 146.55 311.4 147.00 311.5 147.45 311.4 147.90 311.3 148.35 311.6 148.80 310.9 149.25 311.3 149.70 311.2 150.15 310.7 150.60 311.1 151.05 310.9 151.50 310.6 151.95 310.9 152.40 310.9 152.85 311.0 153.30 310.7 153.75 310.8 154.20 310.5 154.65 310.7 155.10 310.2 155.55 310.5 156.00 310.3 156.45 310.3 156.90 310.4 157.35 310.3 157.80 310.8 158.25 311.2 158.70 309.6 159.15 310.9 159.60 311.3 160.05 311.2 160.50 311.8 160.95 311.5 161.40 312.1 161.85 312.0 162.30 312.3 162.75 309.7 163.20 312.0 163.65 311.9 164.10 312.1 164.55 311.7 165.00 311.3 165.45 311.6 165.90 312.2 166.35 312.1 166.80 311.8 167.25 312.0 167.70 312.1 168.15 312.2 168.60 312.7 169.05 312.1 169.50 312.5 169.95 312.3 L169.95 315.3 169.50 315.3 169.05 315.5 168.60 315.7 168.15 315.4 167.70 315.2 167.25 315.4 166.80 316.0 166.35 314.8 165.90 314.7 165.45 314.4 165.00 314.8 164.55 314.7 164.10 314.7 163.65 315.0 163.20 314.9 162.75 314.5 162.30 314.9 161.85 315.0 161.40 314.8 160.95 314.9 160.50 314.4 160.05 314.6 159.60 314.2 159.15 313.7 158.70 313.6 158.25 314.3 157.80 313.7 157.35 313.9 156.90 313.6 156.45 314.6 156.00 314.4 155.55 313.5 155.10 313.6 154.65 313.2 154.20 313.6 153.75 313.7 153.30 313.6 152.85 314.2 152.40 314.0 151.95 313.5 151.50 313.5 151.05 314.2 150.60 315.6 150.15 315.4 149.70 314.3 149.25 314.0 148.80 314.5 148.35 314.3 147.90 314.7 147.45 314.9 147.00 314.0 146.55 313.9 146.10 313.9 145.65 314.2 145.20 314.6 144.75 313.9 144.30 314.1 143.85 314.4 143.40 314.7 142.95 315.2 142.50 314.6 142.05 314.7 141.60 314.9 141.15 314.6 140.70 314.4 140.25 314.3 139.80 316.4 139.35 314.5 138.90 314.1 138.45 314.3 138.00 313.8 137.55 314.1 137.10 314.7 136.65 313.7 136.20 314.2 135.75 313.8 135.30 314.6 134.85 313.6 134.40 313.7 133.95 312.9 133.50 313.0 133.05 312.9 132.60 313.9 132.15 312.8 131.70 313.3 131.25 312.9 130.80 312.6 130.35 312.9 129.90 312.7 129.45 312.3 129.00 311.7 128.55 311.3 128.10 310.8 127.65 310.3 127.20 309.7 126.75 310.6 126.30 308.3 125.85 308.9 125.40 309.2 124.95 309.1 124.50 309.3 124.05 309.5 123.60 310.3 123.15 310.8 122.70 312.1 122.25 312.4 121.80 312.0 121.35 312.7 120.90 313.3 120.45 313.7 120.00 313.9 119.55 313.5 119.10 314.8 118.65 313.0 118.20 312.6 117.75 312.9 117.30 312.7 116.85 312.3 116.40 313.7 115.95 311.6 115.50 311.8 115.05 311.8 114.60 311.8 114.15 311.6 113.70 311.7 113.25 311.2 112.80 311.4 112.35 311.6 111.90 311.6 111.45 311.8 111.00 311.5 110.55 311.1 110.10 311.2 109.65 310.8 109.20 311.0 108.75 310.1 108.30 308.1 107.85 309.0 107.40 307.3 106.95 308.6 106.50 309.5 106.05 310.3 105.60 311.8 105.15 313.4 104.70 313.0 104.25 313.1 103.80 312.7 103.35 312.6 102.90 313.1 102.45 313.2 102.00 313.3 101.55 311.8 101.10 311.9 100.65 311.5 100.20 311.4 99.75 311.0 99.30 310.9 98.85 310.6 98.40 310.6 97.95 310.5 97.50 310.4 97.05 310.0 96.60 309.9 96.15 310.7 95.70 309.7 95.25 311.1 94.80 308.8 94.35 309.1 93.90 308.6 93.45 308.6 93.00 308.2 92.55 307.8 92.10 308.0 91.65 307.7 91.20 307.2 90.75 307.1 90.30 308.5 89.85 306.9 89.40 307.1 88.95 308.3 88.50 307.1 88.05 307.2 87.60 306.9 87.15 307.0 86.70 306.7 86.25 306.8 85.80 306.2 85.35 306.4 84.90 306.2 84.45 305.8 84.00 305.2 83.55 305.2 83.10 305.1 82.65 305.2 82.20 305.4 81.75 305.4 81.30 304.4 80.85 305.0 80.40 304.8 79.95 304.2 79.50 304.1 79.05 303.8 78.60 303.9 78.15 303.7 77.70 303.7 77.25 303.2 76.80 303.7 76.35 304.3 75.90 303.0 75.45 302.6 75.00 302.5 74.55 302.6 74.10 302.6 73.65 302.4 73.20 302.1 72.75 301.8 72.30 302.2 71.85 301.9 71.40 302.2 70.95 302.8 70.50 302.9 70.05 303.2 69.60 303.3 69.15 303.2 68.70 303.7 68.25 304.9 67.80 304.9 67.35 303.9 66.90 304.7 66.45 304.7 66.00 305.5 65.55 305.2 65.10 305.7 64.65 306.2 64.20 307.3 63.75 307.0 63.30 307.9 62.85 307.6 62.40 308.1 61.95 307.7 61.50 307.8 61.05 308.6 60.60 308.8 60.15 308.8 59.70 309.0 59.25 308.8 58.80 309.2 58.35 308.4 57.90 307.9 57.45 307.5 57.00 308.0 56.55 296.4 56.10 285.2 55.65 274.0 55.20 272.2 54.75 282.1 54.30 293.5 53.85 301.5 53.40 309.0 52.95 309.2 52.50 308.6 52.05 308.5 51.60 308.6 51.15 308.8 50.70 308.3 50.25 308.7 49.80 309.5 49.35 309.5 48.90 308.9 48.45 310.8 48.00 308.8 47.55 308.9 47.10 309.4 46.65 308.5 46.20 308.9 45.75 308.8 45.30 308.7 44.85 308.8 44.40 308.2 43.95 307.5 43.50 307.0 43.05 306.9 42.60 301.1 42.15 295.4 41.70 291.4 41.25 293.8 40.80 298.6 40.35 302.8 39.90 303.3 39.45 305.1 39.00 308.0 38.55 308.8 38.10 309.2 37.65 309.6 37.20 310.0 36.75 309.6 36.30 309.7 35.85 309.0 35.40 309.0 34.95 308.8 34.50 308.4 34.05 309.0 33.60 307.9 33.15 308.5 32.70 307.8 32.25 307.8 31.80 308.0 31.35 307.5 30.90 307.3 30.45 307.6 30.00 307.6 29.55 308.0 29.10 307.3 Z" fill="#cc6762" stroke="#cc6762" stroke-width="0.5" stroke-linejoin="round"/>
</g>
<line x1="55" y1="313.3" x2="55" y2="321" stroke="#7d9cc8" stroke-width="0.7" />
<line x1="96.8" y1="313.3" x2="96.8" y2="321" stroke="#7d9cc8" stroke-width="0.7" />
<line x1="107.1" y1="313.3" x2="107.1" y2="321" stroke="#7d9cc8" stroke-width="0.7" />
<line x1="108.8" y1="313.3" x2="108.8" y2="321" stroke="#7d9cc8" stroke-width="0.7" />
<line x1="116.1" y1="313.3" x2="116.1" y2="321" stroke="#7d9cc8" stroke-width="0.7" />
<line x1="126.4" y1="313.3" x2="126.4" y2="321" stroke="#7d9cc8" stroke-width="0.7" />
<line x1="139.7" y1="313.3" x2="139.7" y2="321" stroke="#7d9cc8" stroke-width="0.7" />
<line x1="155.8" y1="313.3" x2="155.8" y2="321" stroke="#7d9cc8" stroke-width="0.7" />
<rect x="28.5" y="180.2" width="142.2" height="141.8" fill="none" stroke="#1a1a1a" stroke-width="1.3"/>
<line x1="42.72" y1="322" x2="42.72" y2="324.6" stroke="#1a1a1a" stroke-width="1" />
<line x1="71.16" y1="322" x2="71.16" y2="324.6" stroke="#1a1a1a" stroke-width="1" />
<line x1="99.6" y1="322" x2="99.6" y2="324.6" stroke="#1a1a1a" stroke-width="1" />
<line x1="128.04" y1="322" x2="128.04" y2="324.6" stroke="#1a1a1a" stroke-width="1" />
<line x1="156.48" y1="322" x2="156.48" y2="324.6" stroke="#1a1a1a" stroke-width="1" />
<line x1="28.5" y1="322" x2="28.5" y2="323.6" stroke="#1a1a1a" stroke-width="1" />
<line x1="56.94" y1="322" x2="56.94" y2="323.6" stroke="#1a1a1a" stroke-width="1" />
<line x1="85.38" y1="322" x2="85.38" y2="323.6" stroke="#1a1a1a" stroke-width="1" />
<line x1="113.82" y1="322" x2="113.82" y2="323.6" stroke="#1a1a1a" stroke-width="1" />
<line x1="142.26" y1="322" x2="142.26" y2="323.6" stroke="#1a1a1a" stroke-width="1" />
<line x1="170.7" y1="322" x2="170.7" y2="323.6" stroke="#1a1a1a" stroke-width="1" />
<text x="42.72" y="335.4" font-size="10" fill="#1a1a1a" text-anchor="middle" >10</text>
<text x="71.16" y="335.4" font-size="10" fill="#1a1a1a" text-anchor="middle" >20</text>
<text x="99.6" y="335.4" font-size="10" fill="#1a1a1a" text-anchor="middle" >30</text>
<text x="128.04" y="335.4" font-size="10" fill="#1a1a1a" text-anchor="middle" >40</text>
<text x="156.48" y="335.4" font-size="10" fill="#1a1a1a" text-anchor="middle" >50</text>
<text x="99.6" y="347.4" font-size="12" fill="#1a1a1a" text-anchor="middle">2<tspan font-style="italic">&#952;</tspan> / Degree</text>
<text x="21.5" y="248.2" font-size="12" fill="#1a1a1a" text-anchor="middle" transform="rotate(-90 21.5 248.2)">Intensity / a.u.</text>
<text x="186" y="188" font-size="14" fill="#1a1a1a" text-anchor="start" >f</text>
<text x="206.4" y="190.5" font-size="9.5" fill="#5a82ba" text-anchor="start" >Mo-Se</text>
<text transform="translate(341.6 190.5) scale(0.9 1)" x="0" y="0" font-size="8.9" fill="#6f90c0" text-anchor="end" >97-064-4334</text>
<text transform="translate(341.6 200.6) scale(0.9 1)" x="0" y="0" font-size="8.9" fill="#6f90c0" text-anchor="end" >2<tspan font-style="italic">H</tspan>-MoSe<tspan font-size="6" dy="1.8">2</tspan></text>
<g clip-path="url(#clf)">
<path d="M204.10 232.3 204.55 232.6 205.00 231.8 205.45 232.8 205.90 231.9 206.35 232.3 206.80 233.0 207.25 231.5 207.70 232.9 208.15 232.9 208.60 233.4 209.05 231.9 209.50 233.0 209.95 232.5 210.40 233.3 210.85 233.2 211.30 231.3 211.75 232.8 212.20 232.8 212.65 233.4 213.10 233.3 213.55 231.7 214.00 233.0 214.45 232.8 214.90 231.8 215.35 232.3 215.80 233.5 216.25 233.5 216.70 230.8 217.15 232.9 217.60 233.1 218.05 230.9 218.50 233.1 218.95 229.9 219.40 232.9 219.85 232.9 220.30 232.6 220.75 233.4 221.20 233.5 221.65 233.6 222.10 233.5 222.55 234.2 223.00 234.5 223.45 233.3 223.90 233.3 224.35 234.4 224.80 234.1 225.25 234.1 225.70 233.7 226.15 234.0 226.60 234.4 227.05 234.1 227.50 233.9 227.95 233.8 228.40 234.5 228.85 234.0 229.30 234.2 229.75 233.9 230.20 233.0 230.65 233.9 231.10 235.1 231.55 234.6 232.00 234.0 232.45 235.0 232.90 234.1 233.35 234.0 233.80 233.6 234.25 233.3 234.70 232.8 235.15 232.3 235.60 231.8 236.05 230.1 236.50 231.2 236.95 231.3 237.40 221.5 237.85 214.6 238.30 204.6 238.75 198.2 239.20 189.5 239.65 198.1 240.10 208.5 240.55 217.1 241.00 228.7 241.45 228.9 241.90 230.5 242.35 231.3 242.80 232.4 243.25 232.8 243.70 234.3 244.15 235.0 244.60 235.0 245.05 235.0 245.50 233.5 245.95 231.4 246.40 234.7 246.85 231.6 247.30 234.4 247.75 234.7 248.20 233.8 248.65 234.4 249.10 234.0 249.55 234.0 250.00 233.2 250.45 234.3 250.90 233.6 251.35 234.0 251.80 233.9 252.25 233.2 252.70 233.2 253.15 232.9 253.60 232.7 254.05 232.4 254.50 232.7 254.95 232.9 255.40 231.4 255.85 233.8 256.30 233.7 256.75 233.0 257.20 233.3 257.65 232.5 258.10 232.3 258.55 232.1 259.00 231.3 259.45 230.7 259.90 231.0 260.35 231.2 260.80 230.4 261.25 230.8 261.70 230.5 262.15 230.7 262.60 229.9 263.05 230.6 263.50 230.7 263.95 229.9 264.40 230.3 264.85 230.4 265.30 230.4 265.75 229.9 266.20 227.4 266.65 230.3 267.10 229.0 267.55 229.8 268.00 229.8 268.45 228.7 268.90 227.5 269.35 228.6 269.80 229.3 270.25 227.4 270.70 228.3 271.15 228.1 271.60 229.0 272.05 228.4 272.50 228.5 272.95 229.2 273.40 229.3 273.85 229.8 274.30 228.7 274.75 229.5 275.20 229.7 275.65 230.2 276.10 230.3 276.55 230.2 277.00 230.6 277.45 230.4 277.90 231.0 278.35 230.4 278.80 230.9 279.25 231.3 279.70 230.8 280.15 230.2 280.60 230.8 281.05 230.8 281.50 231.7 281.95 231.3 282.40 231.9 282.85 231.4 283.30 230.9 283.75 231.9 284.20 231.6 284.65 231.8 285.10 230.1 285.55 231.2 286.00 230.9 286.45 228.5 286.90 230.9 287.35 230.9 287.80 229.7 288.25 230.6 288.70 230.9 289.15 231.2 289.60 231.3 290.05 231.6 290.50 231.8 290.95 232.7 291.40 232.6 291.85 232.8 292.30 232.7 292.75 232.3 293.20 232.1 293.65 232.2 294.10 231.9 294.55 231.4 295.00 231.2 295.45 231.0 295.90 231.8 296.35 232.2 296.80 233.0 297.25 231.9 297.70 233.3 298.15 232.4 298.60 233.5 299.05 234.0 299.50 233.8 299.95 234.5 300.40 234.1 300.85 235.0 301.30 233.8 301.75 235.3 302.20 235.7 302.65 234.2 303.10 235.5 303.55 235.8 304.00 233.3 304.45 235.2 304.90 233.9 305.35 235.4 305.80 235.1 306.25 234.8 306.70 230.3 307.15 232.9 307.60 232.9 308.05 232.1 308.50 231.4 308.95 231.6 309.40 229.1 309.85 224.5 310.30 223.6 310.75 220.5 311.20 218.4 311.65 217.3 312.10 217.1 312.55 221.5 313.00 223.5 313.45 225.3 313.90 227.1 314.35 225.7 314.80 228.2 315.25 228.8 315.70 230.0 316.15 229.2 316.60 230.3 317.05 231.4 317.50 232.4 317.95 233.1 318.40 233.1 318.85 233.3 319.30 233.7 319.75 233.2 320.20 234.1 320.65 233.6 321.10 234.2 321.55 234.5 322.00 234.9 322.45 235.4 322.90 236.3 323.35 236.0 323.80 236.4 324.25 236.9 324.70 236.6 325.15 237.5 325.60 237.5 326.05 235.8 326.50 236.4 326.95 234.4 327.40 234.0 327.85 234.4 328.30 233.9 328.75 231.7 329.20 232.3 329.65 231.2 330.10 230.8 330.55 227.6 331.00 228.7 331.45 228.4 331.90 227.5 332.35 227.8 332.80 227.1 333.25 226.8 333.70 225.9 334.15 225.6 334.60 223.9 335.05 223.7 335.50 223.1 335.95 223.1 336.40 222.6 336.85 222.6 337.30 222.8 337.75 221.4 338.20 223.4 338.65 224.4 339.10 224.8 339.55 222.4 340.00 225.0 340.45 224.3 340.90 226.0 341.35 226.3 341.80 227.5 342.25 228.1 342.70 227.9 343.15 229.4 343.60 229.8 344.05 230.7 344.50 231.4 L344.50 236.9 344.05 236.6 343.60 235.3 343.15 235.5 342.70 234.9 342.25 233.4 341.80 234.3 341.35 232.4 340.90 231.4 340.45 234.4 340.00 230.8 339.55 230.8 339.10 230.3 338.65 231.0 338.20 229.3 337.75 229.5 337.30 229.4 336.85 229.2 336.40 228.4 335.95 231.1 335.50 229.2 335.05 229.6 334.60 230.1 334.15 231.1 333.70 231.7 333.25 232.5 332.80 232.9 332.35 233.4 331.90 234.1 331.45 234.7 331.00 234.5 330.55 236.0 330.10 236.5 329.65 237.2 329.20 238.5 328.75 241.0 328.30 239.0 327.85 239.9 327.40 240.3 326.95 242.6 326.50 241.5 326.05 242.6 325.60 243.7 325.15 243.0 324.70 245.3 324.25 242.9 323.80 242.4 323.35 242.0 322.90 241.9 322.45 241.0 322.00 240.8 321.55 242.8 321.10 242.7 320.65 241.2 320.20 240.2 319.75 240.2 319.30 239.8 318.85 239.6 318.40 241.5 317.95 238.7 317.50 238.0 317.05 238.3 316.60 237.4 316.15 236.5 315.70 236.1 315.25 235.1 314.80 235.0 314.35 234.6 313.90 233.1 313.45 231.6 313.00 229.0 312.55 227.0 312.10 224.9 311.65 223.3 311.20 224.7 310.75 226.8 310.30 229.3 309.85 232.3 309.40 235.2 308.95 237.1 308.50 238.1 308.05 238.1 307.60 238.4 307.15 239.2 306.70 239.8 306.25 240.1 305.80 240.6 305.35 241.0 304.90 241.4 304.45 241.5 304.00 241.4 303.55 241.4 303.10 241.2 302.65 241.6 302.20 242.1 301.75 242.8 301.30 241.2 300.85 240.6 300.40 240.5 299.95 240.5 299.50 241.9 299.05 239.9 298.60 239.7 298.15 239.2 297.70 238.6 297.25 238.1 296.80 240.9 296.35 238.9 295.90 237.6 295.45 236.7 295.00 236.7 294.55 237.0 294.10 237.3 293.65 238.1 293.20 238.4 292.75 238.1 292.30 238.4 291.85 239.1 291.40 238.8 290.95 238.9 290.50 237.6 290.05 237.0 289.60 236.9 289.15 237.8 288.70 237.4 288.25 237.0 287.80 236.7 287.35 236.7 286.90 239.9 286.45 236.5 286.00 237.3 285.55 236.6 285.10 239.8 284.65 238.0 284.20 237.5 283.75 237.6 283.30 237.6 282.85 237.6 282.40 237.7 281.95 237.0 281.50 237.3 281.05 237.2 280.60 236.5 280.15 240.0 279.70 237.6 279.25 238.2 278.80 236.2 278.35 237.6 277.90 237.0 277.45 236.7 277.00 236.1 276.55 236.3 276.10 238.8 275.65 236.5 275.20 235.4 274.75 234.9 274.30 235.3 273.85 235.2 273.40 235.2 272.95 234.2 272.50 234.3 272.05 234.5 271.60 237.0 271.15 234.5 270.70 236.6 270.25 235.0 269.80 235.4 269.35 235.9 268.90 234.9 268.45 235.8 268.00 236.0 267.55 235.5 267.10 235.7 266.65 235.9 266.20 235.7 265.75 236.4 265.30 235.9 264.85 236.2 264.40 236.6 263.95 236.4 263.50 236.0 263.05 236.5 262.60 236.7 262.15 236.9 261.70 237.1 261.25 240.1 260.80 237.3 260.35 236.9 259.90 236.6 259.45 236.7 259.00 236.9 258.55 237.6 258.10 240.5 257.65 238.2 257.20 241.7 256.75 239.1 256.30 239.2 255.85 239.0 255.40 239.6 254.95 240.6 254.50 239.0 254.05 238.8 253.60 238.3 253.15 238.5 252.70 239.6 252.25 240.2 251.80 239.7 251.35 239.8 250.90 239.9 250.45 239.6 250.00 241.0 249.55 239.7 249.10 240.2 248.65 243.3 248.20 240.5 247.75 239.9 247.30 240.9 246.85 239.9 246.40 240.0 245.95 240.9 245.50 240.8 245.05 240.6 244.60 240.4 244.15 241.2 243.70 240.4 243.25 239.7 242.80 237.8 242.35 236.8 241.90 235.7 241.45 234.9 241.00 234.7 240.55 224.9 240.10 215.2 239.65 204.7 239.20 194.9 238.75 204.2 238.30 213.0 237.85 221.5 237.40 229.3 236.95 237.2 236.50 237.7 236.05 237.3 235.60 237.5 235.15 238.0 234.70 238.3 234.25 239.5 233.80 239.9 233.35 239.8 232.90 240.7 232.45 240.3 232.00 242.9 231.55 241.0 231.10 240.7 230.65 241.1 230.20 239.9 229.75 241.0 229.30 241.0 228.85 239.8 228.40 242.5 227.95 240.7 227.50 240.5 227.05 239.9 226.60 239.6 226.15 242.2 225.70 239.6 225.25 240.0 224.80 239.8 224.35 239.8 223.90 240.5 223.45 240.0 223.00 242.8 222.55 241.1 222.10 240.0 221.65 239.3 221.20 240.1 220.75 239.2 220.30 238.5 219.85 239.5 219.40 238.3 218.95 238.6 218.50 238.5 218.05 238.9 217.60 239.2 217.15 238.8 216.70 239.1 216.25 239.6 215.80 238.7 215.35 238.7 214.90 238.7 214.45 239.4 214.00 238.8 213.55 238.7 213.10 239.4 212.65 238.7 212.20 239.0 211.75 238.4 211.30 238.7 210.85 238.7 210.40 238.4 209.95 238.3 209.50 238.9 209.05 239.0 208.60 238.6 208.15 238.6 207.70 238.6 207.25 238.4 206.80 238.3 206.35 238.5 205.90 238.2 205.45 238.4 205.00 237.9 204.55 238.5 204.10 239.2 Z" fill="#5280ba" fill-opacity="0.45" stroke="none"/>
<path d="M204.10 234.1 204.55 233.9 205.00 234.1 205.45 233.8 205.90 233.1 206.35 234.2 206.80 233.2 207.25 234.0 207.70 234.2 208.15 234.2 208.60 234.4 209.05 234.1 209.50 234.2 209.95 233.9 210.40 234.3 210.85 234.2 211.30 234.5 211.75 234.1 212.20 234.4 212.65 234.1 213.10 234.6 213.55 233.7 214.00 234.6 214.45 234.6 214.90 234.3 215.35 234.2 215.80 234.9 216.25 234.7 216.70 234.5 217.15 234.4 217.60 233.8 218.05 233.2 218.50 234.0 218.95 233.9 219.40 234.3 219.85 234.3 220.30 234.5 220.75 234.6 221.20 234.8 221.65 235.0 222.10 235.1 222.55 235.0 223.00 235.1 223.45 235.8 223.90 235.5 224.35 235.0 224.80 235.9 225.25 235.5 225.70 235.2 226.15 235.3 226.60 235.5 227.05 235.6 227.50 234.2 227.95 235.2 228.40 235.3 228.85 235.1 229.30 235.3 229.75 236.0 230.20 235.3 230.65 236.0 231.10 236.0 231.55 236.5 232.00 236.0 232.45 236.0 232.90 235.6 233.35 235.0 233.80 233.2 234.25 234.4 234.70 233.9 235.15 234.0 235.60 233.5 236.05 232.7 236.50 232.8 236.95 232.7 237.40 224.8 237.85 216.4 238.30 207.4 238.75 199.1 239.20 190.4 239.65 200.5 240.10 209.5 240.55 219.6 241.00 230.1 241.45 229.6 241.90 231.1 242.35 232.4 242.80 233.8 243.25 234.9 243.70 235.5 244.15 236.4 244.60 236.0 245.05 235.8 245.50 236.3 245.95 235.9 246.40 236.0 246.85 236.0 247.30 235.8 247.75 235.7 248.20 235.5 248.65 235.3 249.10 235.1 249.55 234.7 250.00 235.6 250.45 235.3 250.90 235.4 251.35 235.1 251.80 234.6 252.25 235.0 252.70 234.3 253.15 233.8 253.60 232.3 254.05 234.6 254.50 234.6 254.95 234.5 255.40 235.1 255.85 234.7 256.30 234.7 256.75 234.7 257.20 234.5 257.65 234.0 258.10 233.3 258.55 233.1 259.00 232.8 259.45 231.8 259.90 232.0 260.35 232.5 260.80 232.3 261.25 232.2 261.70 232.1 262.15 231.9 262.60 231.6 263.05 231.8 263.50 231.7 263.95 231.8 264.40 231.5 264.85 231.7 265.30 231.9 265.75 231.8 266.20 231.1 266.65 231.3 267.10 230.2 267.55 231.4 268.00 231.0 268.45 230.6 268.90 230.7 269.35 228.1 269.80 230.2 270.25 229.8 270.70 229.5 271.15 229.8 271.60 230.3 272.05 229.9 272.50 230.1 272.95 229.6 273.40 229.4 273.85 231.0 274.30 230.8 274.75 230.9 275.20 231.0 275.65 231.5 276.10 231.4 276.55 229.3 277.00 231.7 277.45 231.9 277.90 232.0 278.35 231.9 278.80 232.2 279.25 232.5 279.70 232.4 280.15 232.5 280.60 232.0 281.05 232.4 281.50 232.2 281.95 232.9 282.40 233.2 282.85 232.7 283.30 232.1 283.75 232.9 284.20 233.2 284.65 233.1 285.10 232.8 285.55 232.2 286.00 232.3 286.45 232.4 286.90 232.4 287.35 232.6 287.80 232.4 288.25 231.0 288.70 232.3 289.15 232.4 289.60 232.6 290.05 233.1 290.50 233.0 290.95 234.0 291.40 234.5 291.85 233.9 292.30 234.2 292.75 232.4 293.20 233.9 293.65 233.2 294.10 232.6 294.55 232.4 295.00 232.4 295.45 231.7 295.90 232.9 296.35 233.1 296.80 232.3 297.25 233.5 297.70 234.6 298.15 234.9 298.60 235.0 299.05 235.4 299.50 235.1 299.95 235.9 300.40 236.2 300.85 236.4 301.30 236.3 301.75 236.6 302.20 236.7 302.65 236.7 303.10 236.4 303.55 237.3 304.00 236.6 304.45 236.6 304.90 236.9 305.35 236.6 305.80 236.4 306.25 236.0 306.70 234.1 307.15 234.7 307.60 234.3 308.05 231.8 308.50 233.5 308.95 232.1 309.40 230.4 309.85 227.2 310.30 225.4 310.75 222.3 311.20 219.7 311.65 219.0 312.10 220.4 312.55 222.4 313.00 224.6 313.45 226.7 313.90 228.9 314.35 229.9 314.80 230.3 315.25 230.7 315.70 231.5 316.15 231.7 316.60 232.0 317.05 233.2 317.50 232.0 317.95 233.9 318.40 234.7 318.85 234.7 319.30 235.7 319.75 234.0 320.20 236.0 320.65 235.3 321.10 236.0 321.55 235.1 322.00 235.8 322.45 237.0 322.90 237.0 323.35 237.1 323.80 237.7 324.25 238.0 324.70 238.3 325.15 238.6 325.60 238.2 326.05 238.2 326.50 237.5 326.95 236.4 327.40 235.7 327.85 235.4 328.30 234.2 328.75 234.2 329.20 233.3 329.65 232.0 330.10 231.4 330.55 231.1 331.00 230.4 331.45 229.9 331.90 228.9 332.35 229.0 332.80 228.5 333.25 227.8 333.70 227.2 334.15 226.1 334.60 225.4 335.05 225.1 335.50 224.8 335.95 224.1 336.40 223.9 336.85 224.2 337.30 224.2 337.75 225.0 338.20 225.0 338.65 225.9 339.10 225.9 339.55 225.8 340.00 226.3 340.45 227.2 340.90 227.1 341.35 228.1 341.80 228.5 342.25 229.3 342.70 229.8 343.15 230.4 343.60 231.2 344.05 231.8 344.50 232.6 L344.50 235.9 344.05 235.0 343.60 235.3 343.15 233.5 342.70 233.3 342.25 232.4 341.80 231.7 341.35 231.1 340.90 230.3 340.45 231.1 340.00 230.7 339.55 229.2 339.10 229.3 338.65 228.9 338.20 228.1 337.75 229.0 337.30 227.6 336.85 227.7 336.40 227.3 335.95 227.3 335.50 227.8 335.05 228.5 334.60 228.7 334.15 230.0 333.70 230.1 333.25 230.9 332.80 231.4 332.35 231.9 331.90 232.2 331.45 233.4 331.00 233.3 330.55 234.8 330.10 234.9 329.65 235.4 329.20 236.8 328.75 237.4 328.30 238.1 327.85 240.3 327.40 239.3 326.95 239.5 326.50 240.5 326.05 240.8 325.60 241.7 325.15 243.3 324.70 241.6 324.25 241.2 323.80 240.8 323.35 242.5 322.90 240.3 322.45 239.8 322.00 239.7 321.55 239.6 321.10 239.3 320.65 239.5 320.20 238.8 319.75 238.8 319.30 238.5 318.85 238.5 318.40 238.0 317.95 237.3 317.50 236.8 317.05 236.0 316.60 236.1 316.15 235.1 315.70 235.0 315.25 234.0 314.80 234.7 314.35 233.1 313.90 231.9 313.45 229.8 313.00 228.1 312.55 226.2 312.10 223.8 311.65 221.7 311.20 223.0 310.75 225.7 310.30 228.1 309.85 231.3 309.40 234.3 308.95 235.6 308.50 236.4 308.05 236.7 307.60 237.3 307.15 237.9 306.70 238.2 306.25 239.0 305.80 239.8 305.35 239.7 304.90 240.9 304.45 240.7 304.00 240.2 303.55 240.5 303.10 240.8 302.65 240.0 302.20 240.0 301.75 241.6 301.30 239.9 300.85 239.2 300.40 239.2 299.95 238.8 299.50 239.1 299.05 238.6 298.60 238.3 298.15 238.0 297.70 237.9 297.25 237.2 296.80 237.2 296.35 236.6 295.90 235.9 295.45 235.1 295.00 236.1 294.55 235.5 294.10 237.9 293.65 236.5 293.20 236.7 292.75 237.5 292.30 237.5 291.85 237.7 291.40 237.8 290.95 237.3 290.50 236.2 290.05 235.9 289.60 235.9 289.15 235.8 288.70 235.6 288.25 235.3 287.80 235.1 287.35 235.4 286.90 235.6 286.45 237.3 286.00 235.4 285.55 235.5 285.10 236.2 284.65 236.0 284.20 235.9 283.75 235.9 283.30 235.7 282.85 235.9 282.40 236.0 281.95 235.8 281.50 235.7 281.05 235.4 280.60 236.4 280.15 236.1 279.70 235.5 279.25 235.6 278.80 235.4 278.35 235.1 277.90 235.3 277.45 235.3 277.00 234.8 276.55 234.9 276.10 234.5 275.65 234.9 275.20 234.3 274.75 233.7 274.30 233.7 273.85 233.8 273.40 233.8 272.95 233.2 272.50 233.2 272.05 233.0 271.60 232.9 271.15 233.3 270.70 233.4 270.25 233.1 269.80 233.4 269.35 233.7 268.90 233.7 268.45 233.9 268.00 234.2 267.55 234.8 267.10 234.8 266.65 235.1 266.20 234.8 265.75 234.7 265.30 234.8 264.85 236.0 264.40 235.1 263.95 234.8 263.50 234.6 263.05 234.7 262.60 235.7 262.15 235.2 261.70 235.1 261.25 235.7 260.80 235.5 260.35 235.2 259.90 236.4 259.45 235.8 259.00 235.9 258.55 236.8 258.10 236.5 257.65 236.7 257.20 237.7 256.75 237.8 256.30 238.0 255.85 238.4 255.40 238.0 254.95 237.9 254.50 237.8 254.05 237.4 253.60 237.3 253.15 237.7 252.70 237.7 252.25 237.7 251.80 238.4 251.35 238.2 250.90 238.7 250.45 238.4 250.00 238.6 249.55 239.3 249.10 238.4 248.65 238.7 248.20 239.3 247.75 239.0 247.30 238.9 246.85 238.9 246.40 238.8 245.95 239.1 245.50 239.3 245.05 239.2 244.60 239.8 244.15 239.1 243.70 239.5 243.25 237.8 242.80 236.7 242.35 235.4 241.90 234.5 241.45 233.6 241.00 232.9 240.55 222.9 240.10 213.6 239.65 203.5 239.20 194.1 238.75 202.3 238.30 211.1 237.85 219.5 237.40 228.3 236.95 236.3 236.50 236.8 236.05 236.2 235.60 236.4 235.15 236.9 234.70 237.0 234.25 238.0 233.80 238.2 233.35 239.2 232.90 239.3 232.45 239.5 232.00 239.5 231.55 239.2 231.10 239.3 230.65 238.9 230.20 238.8 229.75 239.3 229.30 239.3 228.85 238.9 228.40 238.7 227.95 241.0 227.50 238.6 227.05 238.6 226.60 238.5 226.15 238.5 225.70 238.4 225.25 238.6 224.80 239.1 224.35 238.7 223.90 238.5 223.45 238.5 223.00 239.2 222.55 238.5 222.10 238.1 221.65 237.8 221.20 238.1 220.75 237.7 220.30 237.4 219.85 237.2 219.40 237.6 218.95 237.5 218.50 237.1 218.05 237.1 217.60 237.2 217.15 237.7 216.70 237.9 216.25 237.5 215.80 237.5 215.35 237.9 214.90 238.1 214.45 237.9 214.00 237.4 213.55 237.4 213.10 238.1 212.65 237.7 212.20 237.4 211.75 237.2 211.30 237.2 210.85 237.6 210.40 237.1 209.95 237.2 209.50 239.3 209.05 237.3 208.60 238.7 208.15 237.2 207.70 236.8 207.25 237.5 206.80 237.8 206.35 237.1 205.90 237.0 205.45 238.9 205.00 236.7 204.55 237.8 204.10 236.9 Z" fill="#5280ba" stroke="#5280ba" stroke-width="0.5" stroke-linejoin="round"/>
</g>
<line x1="238.6" y1="241.5" x2="238.6" y2="251" stroke="#5f86bd" stroke-width="1.0" />
<line x1="295.4" y1="241.5" x2="295.4" y2="251" stroke="#c9d6e8" stroke-width="1.0" />
<line x1="310.4" y1="241.5" x2="310.4" y2="251" stroke="#5f86bd" stroke-width="1.0" />
<line x1="313.7" y1="241.5" x2="313.7" y2="251" stroke="#c9d6e8" stroke-width="1.0" />
<line x1="322.7" y1="241.5" x2="322.7" y2="251" stroke="#a3bbdb" stroke-width="1.0" />
<line x1="336.6" y1="241.5" x2="336.6" y2="251" stroke="#5f86bd" stroke-width="1.0" />
<text x="206.4" y="263.6" font-size="9.5" fill="#c9665f" text-anchor="start" >K-Mo-Se</text>
<text x="225.2" y="280" font-size="7" fill="#1a1a1a" text-anchor="middle" >1<tspan font-style="italic">T</tspan></text>
<text x="225.2" y="286.8" font-size="7" fill="#1a1a1a" text-anchor="middle" >(002)</text>
<g clip-path="url(#clf)">
<path d="M204.10 299.6 204.55 299.5 205.00 297.5 205.45 299.3 205.90 299.5 206.35 299.4 206.80 296.9 207.25 299.1 207.70 299.2 208.15 299.5 208.60 300.1 209.05 299.3 209.50 300.0 209.95 300.6 210.40 299.4 210.85 300.3 211.30 299.8 211.75 300.5 212.20 300.3 212.65 300.2 213.10 299.7 213.55 300.0 214.00 300.6 214.45 300.6 214.90 300.6 215.35 301.1 215.80 301.1 216.25 299.1 216.70 301.1 217.15 300.7 217.60 301.2 218.05 300.9 218.50 300.3 218.95 301.3 219.40 299.1 219.85 300.0 220.30 300.5 220.75 300.7 221.20 300.7 221.65 301.4 222.10 301.3 222.55 301.3 223.00 301.5 223.45 301.4 223.90 301.5 224.35 301.6 224.80 301.9 225.25 302.2 225.70 301.4 226.15 300.8 226.60 298.5 227.05 300.0 227.50 299.4 227.95 297.5 228.40 291.3 228.85 285.0 229.30 290.6 229.75 295.4 230.20 299.1 230.65 299.7 231.10 300.3 231.55 300.7 232.00 300.6 232.45 301.8 232.90 300.2 233.35 301.6 233.80 301.7 234.25 301.3 234.70 300.8 235.15 301.6 235.60 301.2 236.05 301.1 236.50 301.6 236.95 301.5 237.40 301.4 237.85 301.1 238.30 301.6 238.75 301.1 239.20 299.0 239.65 301.4 240.10 301.8 240.55 300.9 241.00 301.9 241.45 301.9 241.90 300.7 242.35 301.2 242.80 300.7 243.25 300.0 243.70 300.2 244.15 300.4 244.60 300.6 245.05 300.5 245.50 300.8 245.95 300.1 246.40 300.0 246.85 299.8 247.30 299.4 247.75 299.5 248.20 298.6 248.65 298.1 249.10 298.6 249.55 298.1 250.00 298.0 250.45 297.4 250.90 297.2 251.35 297.1 251.80 297.1 252.25 296.5 252.70 296.0 253.15 295.8 253.60 293.2 254.05 295.4 254.50 295.6 254.95 295.4 255.40 294.6 255.85 293.8 256.30 293.7 256.75 292.2 257.20 294.3 257.65 294.4 258.10 294.0 258.55 293.7 259.00 293.6 259.45 292.9 259.90 292.6 260.35 292.9 260.80 291.7 261.25 292.1 261.70 292.4 262.15 289.6 262.60 291.5 263.05 290.2 263.50 290.8 263.95 290.5 264.40 290.8 264.85 291.0 265.30 290.8 265.75 290.2 266.20 290.2 266.65 289.7 267.10 290.0 267.55 289.9 268.00 289.7 268.45 286.5 268.90 286.6 269.35 289.5 269.80 289.4 270.25 289.8 270.70 289.9 271.15 288.3 271.60 289.2 272.05 290.4 272.50 290.2 272.95 290.4 273.40 290.7 273.85 290.2 274.30 290.9 274.75 290.6 275.20 291.1 275.65 290.9 276.10 290.9 276.55 291.1 277.00 291.9 277.45 292.2 277.90 292.7 278.35 292.6 278.80 292.0 279.25 290.7 279.70 292.9 280.15 291.6 280.60 292.8 281.05 293.2 281.50 294.1 281.95 294.6 282.40 295.0 282.85 295.2 283.30 295.5 283.75 295.8 284.20 295.7 284.65 295.5 285.10 296.6 285.55 296.6 286.00 294.7 286.45 297.1 286.90 297.7 287.35 298.0 287.80 298.5 288.25 297.6 288.70 297.4 289.15 299.2 289.60 298.0 290.05 299.0 290.50 299.2 290.95 300.0 291.40 298.2 291.85 300.5 292.30 301.1 292.75 301.4 293.20 301.1 293.65 301.4 294.10 301.9 294.55 301.2 295.00 301.7 295.45 300.9 295.90 302.0 296.35 302.0 296.80 302.5 297.25 302.4 297.70 302.4 298.15 301.9 298.60 302.4 299.05 302.4 299.50 302.6 299.95 302.5 300.40 302.3 300.85 300.3 301.30 302.5 301.75 302.6 302.20 300.3 302.65 301.0 303.10 302.8 303.55 300.9 304.00 301.0 304.45 302.4 304.90 303.1 305.35 302.2 305.80 302.5 306.25 303.0 306.70 303.0 307.15 302.9 307.60 303.0 308.05 303.4 308.50 303.5 308.95 303.1 309.40 303.8 309.85 303.7 310.30 303.4 310.75 303.4 311.20 303.6 311.65 303.9 312.10 304.3 312.55 302.8 313.00 304.0 313.45 304.2 313.90 303.9 314.35 304.4 314.80 304.5 315.25 302.9 315.70 303.2 316.15 303.6 316.60 303.6 317.05 304.1 317.50 304.2 317.95 304.1 318.40 304.1 318.85 303.9 319.30 304.3 319.75 301.9 320.20 304.2 320.65 304.1 321.10 303.8 321.55 304.8 322.00 303.0 322.45 303.6 322.90 304.4 323.35 304.3 323.80 305.2 324.25 305.2 324.70 305.7 325.15 302.8 325.60 305.9 326.05 302.7 326.50 305.3 326.95 304.6 327.40 304.0 327.85 302.9 328.30 303.7 328.75 303.5 329.20 303.1 329.65 303.2 330.10 302.9 330.55 302.9 331.00 302.2 331.45 301.0 331.90 303.8 332.35 304.3 332.80 304.5 333.25 305.1 333.70 303.9 334.15 304.9 334.60 305.6 335.05 304.1 335.50 305.2 335.95 305.5 336.40 304.9 336.85 305.8 337.30 305.0 337.75 305.4 338.20 305.3 338.65 306.0 339.10 305.8 339.55 306.2 340.00 305.9 340.45 305.9 340.90 306.0 341.35 305.6 341.80 306.1 342.25 305.2 342.70 305.8 343.15 305.8 343.60 306.1 344.05 306.0 344.50 306.4 L344.50 311.3 344.05 311.3 343.60 311.9 343.15 311.1 342.70 311.7 342.25 311.5 341.80 311.5 341.35 312.6 340.90 311.8 340.45 311.7 340.00 311.9 339.55 311.1 339.10 311.4 338.65 314.7 338.20 311.6 337.75 313.1 337.30 312.6 336.85 311.4 336.40 311.7 335.95 313.6 335.50 310.9 335.05 310.8 334.60 311.1 334.15 311.2 333.70 310.4 333.25 310.7 332.80 309.7 332.35 309.4 331.90 309.1 331.45 308.5 331.00 308.9 330.55 307.8 330.10 309.2 329.65 308.3 329.20 308.7 328.75 308.7 328.30 309.7 327.85 309.2 327.40 309.6 326.95 310.4 326.50 310.6 326.05 311.1 325.60 310.8 325.15 311.8 324.70 311.0 324.25 310.8 323.80 311.1 323.35 311.1 322.90 310.0 322.45 309.9 322.00 309.6 321.55 311.6 321.10 312.2 320.65 311.5 320.20 312.2 319.75 310.2 319.30 311.1 318.85 309.5 318.40 310.2 317.95 309.0 317.50 309.3 317.05 309.0 316.60 309.1 316.15 309.3 315.70 309.5 315.25 309.3 314.80 309.5 314.35 310.1 313.90 309.5 313.45 309.7 313.00 309.8 312.55 309.8 312.10 309.5 311.65 310.0 311.20 311.1 310.75 308.8 310.30 309.2 309.85 308.9 309.40 309.1 308.95 308.7 308.50 309.1 308.05 309.2 307.60 308.4 307.15 311.4 306.70 308.8 306.25 308.2 305.80 308.5 305.35 307.8 304.90 308.8 304.45 308.5 304.00 308.3 303.55 308.0 303.10 309.1 302.65 308.2 302.20 309.0 301.75 307.9 301.30 308.1 300.85 307.8 300.40 309.7 299.95 307.7 299.50 310.6 299.05 308.2 298.60 307.5 298.15 308.0 297.70 307.8 297.25 310.0 296.80 308.1 296.35 307.8 295.90 307.5 295.45 307.0 295.00 307.3 294.55 306.9 294.10 307.9 293.65 308.4 293.20 307.4 292.75 306.7 292.30 307.1 291.85 309.2 291.40 307.4 290.95 305.6 290.50 304.9 290.05 305.3 289.60 304.1 289.15 305.6 288.70 305.0 288.25 304.5 287.80 305.9 287.35 303.2 286.90 305.7 286.45 303.1 286.00 303.2 285.55 302.3 285.10 302.8 284.65 301.5 284.20 301.8 283.75 301.5 283.30 301.4 282.85 300.4 282.40 300.6 281.95 300.1 281.50 300.0 281.05 298.9 280.60 298.6 280.15 298.4 279.70 298.2 279.25 298.5 278.80 299.9 278.35 298.0 277.90 297.9 277.45 298.1 277.00 297.8 276.55 296.7 276.10 296.8 275.65 296.0 275.20 298.5 274.75 295.8 274.30 298.6 273.85 296.3 273.40 295.7 272.95 296.0 272.50 296.8 272.05 295.8 271.60 297.4 271.15 295.8 270.70 295.9 270.25 296.0 269.80 295.5 269.35 294.9 268.90 297.7 268.45 295.0 268.00 294.7 267.55 295.8 267.10 295.5 266.65 295.7 266.20 296.2 265.75 296.5 265.30 295.8 264.85 296.2 264.40 299.3 263.95 296.7 263.50 296.2 263.05 296.6 262.60 296.9 262.15 297.8 261.70 298.2 261.25 297.9 260.80 298.9 260.35 298.0 259.90 299.0 259.45 298.3 259.00 298.7 258.55 298.9 258.10 299.4 257.65 299.6 257.20 299.6 256.75 299.9 256.30 300.0 255.85 300.0 255.40 300.3 254.95 300.6 254.50 303.8 254.05 301.3 253.60 301.1 253.15 301.4 252.70 302.1 252.25 302.3 251.80 302.3 251.35 302.5 250.90 303.1 250.45 303.4 250.00 303.6 249.55 304.3 249.10 303.9 248.65 306.3 248.20 304.5 247.75 304.7 247.30 305.2 246.85 305.1 246.40 305.2 245.95 305.4 245.50 308.8 245.05 306.6 244.60 305.9 244.15 306.1 243.70 307.3 243.25 306.8 242.80 308.6 242.35 309.5 241.90 307.0 241.45 307.7 241.00 307.0 240.55 307.4 240.10 307.6 239.65 307.1 239.20 307.1 238.75 308.0 238.30 307.4 237.85 307.4 237.40 309.5 236.95 307.3 236.50 307.1 236.05 307.4 235.60 307.5 235.15 307.2 234.70 306.8 234.25 307.0 233.80 307.1 233.35 307.9 232.90 307.8 232.45 307.5 232.00 307.0 231.55 306.4 231.10 305.5 230.65 305.1 230.20 304.6 229.75 301.2 229.30 295.8 228.85 291.5 228.40 296.9 227.95 302.9 227.50 304.5 227.05 305.9 226.60 306.6 226.15 307.1 225.70 309.5 225.25 307.2 224.80 307.8 224.35 307.9 223.90 306.8 223.45 307.0 223.00 307.7 222.55 306.9 222.10 306.9 221.65 307.0 221.20 307.9 220.75 306.4 220.30 307.2 219.85 306.4 219.40 307.3 218.95 306.3 218.50 308.5 218.05 306.5 217.60 306.5 217.15 306.0 216.70 306.5 216.25 306.9 215.80 306.2 215.35 306.7 214.90 306.2 214.45 306.8 214.00 308.0 213.55 305.9 213.10 305.8 212.65 306.6 212.20 305.4 211.75 306.2 211.30 306.0 210.85 308.1 210.40 305.6 209.95 308.6 209.50 305.3 209.05 306.0 208.60 305.6 208.15 305.0 207.70 305.2 207.25 304.6 206.80 307.1 206.35 304.5 205.90 304.8 205.45 305.4 205.00 305.7 204.55 304.6 204.10 305.9 Z" fill="#cc6762" fill-opacity="0.45" stroke="none"/>
<path d="M204.10 300.8 204.55 300.9 205.00 301.0 205.45 300.4 205.90 300.1 206.35 300.1 206.80 300.5 207.25 300.2 207.70 299.4 208.15 300.9 208.60 300.8 209.05 300.8 209.50 300.7 209.95 301.7 210.40 301.2 210.85 301.5 211.30 301.4 211.75 301.4 212.20 301.1 212.65 301.5 213.10 301.8 213.55 301.8 214.00 300.5 214.45 302.2 214.90 302.1 215.35 301.6 215.80 302.2 216.25 302.1 216.70 301.5 217.15 301.9 217.60 302.1 218.05 301.3 218.50 302.2 218.95 302.1 219.40 302.3 219.85 302.1 220.30 301.9 220.75 302.2 221.20 302.1 221.65 302.7 222.10 302.7 222.55 302.9 223.00 302.2 223.45 303.1 223.90 303.0 224.35 303.0 224.80 302.7 225.25 303.5 225.70 302.4 226.15 302.0 226.60 301.7 227.05 301.2 227.50 300.0 227.95 298.3 228.40 292.8 228.85 287.7 229.30 291.5 229.75 296.8 230.20 300.2 230.65 301.1 231.10 301.3 231.55 301.8 232.00 302.6 232.45 302.8 232.90 302.7 233.35 302.8 233.80 303.2 234.25 302.6 234.70 302.9 235.15 303.0 235.60 303.0 236.05 303.0 236.50 302.3 236.95 302.3 237.40 301.3 237.85 302.9 238.30 303.1 238.75 302.8 239.20 303.0 239.65 303.0 240.10 303.4 240.55 303.0 241.00 302.9 241.45 303.1 241.90 302.4 242.35 302.8 242.80 302.1 243.25 302.3 243.70 301.9 244.15 301.7 244.60 301.8 245.05 301.7 245.50 301.7 245.95 301.5 246.40 301.3 246.85 300.8 247.30 301.2 247.75 299.3 248.20 300.2 248.65 299.5 249.10 299.8 249.55 299.9 250.00 299.2 250.45 299.0 250.90 298.6 251.35 298.2 251.80 297.7 252.25 298.0 252.70 297.6 253.15 297.1 253.60 297.2 254.05 296.1 254.50 296.5 254.95 295.9 255.40 295.9 255.85 295.9 256.30 295.8 256.75 295.2 257.20 295.3 257.65 295.4 258.10 295.1 258.55 295.0 259.00 294.5 259.45 294.5 259.90 294.1 260.35 294.1 260.80 292.0 261.25 293.7 261.70 293.2 262.15 293.3 262.60 293.1 263.05 292.8 263.50 292.0 263.95 291.9 264.40 292.2 264.85 291.3 265.30 291.9 265.75 291.7 266.20 291.8 266.65 291.8 267.10 291.2 267.55 291.0 268.00 290.5 268.45 290.4 268.90 290.4 269.35 290.6 269.80 290.7 270.25 290.7 270.70 291.2 271.15 291.5 271.60 291.3 272.05 291.8 272.50 291.6 272.95 291.3 273.40 291.3 273.85 291.7 274.30 291.7 274.75 291.8 275.20 292.1 275.65 292.1 276.10 292.5 276.55 292.7 277.00 293.1 277.45 293.2 277.90 293.6 278.35 294.0 278.80 294.2 279.25 294.1 279.70 294.3 280.15 294.3 280.60 294.9 281.05 295.1 281.50 293.0 281.95 295.5 282.40 296.1 282.85 296.7 283.30 296.9 283.75 297.0 284.20 297.5 284.65 297.3 285.10 296.9 285.55 298.5 286.00 298.6 286.45 298.8 286.90 298.7 287.35 298.8 287.80 299.3 288.25 299.8 288.70 300.1 289.15 300.1 289.60 300.0 290.05 300.4 290.50 300.8 290.95 300.3 291.40 301.4 291.85 302.0 292.30 301.1 292.75 302.6 293.20 302.9 293.65 302.0 294.10 302.9 294.55 301.7 295.00 301.0 295.45 303.0 295.90 302.7 296.35 303.2 296.80 303.7 297.25 303.5 297.70 303.3 298.15 303.5 298.60 303.0 299.05 303.8 299.50 303.5 299.95 302.4 300.40 303.9 300.85 303.0 301.30 303.6 301.75 302.5 302.20 303.9 302.65 301.6 303.10 303.4 303.55 303.5 304.00 303.7 304.45 303.9 304.90 304.3 305.35 304.0 305.80 304.2 306.25 304.0 306.70 304.3 307.15 304.1 307.60 304.7 308.05 304.4 308.50 305.0 308.95 304.3 309.40 304.6 309.85 304.5 310.30 304.7 310.75 304.7 311.20 304.5 311.65 305.0 312.10 305.6 312.55 305.7 313.00 305.0 313.45 305.6 313.90 305.7 314.35 303.7 314.80 305.6 315.25 305.4 315.70 304.7 316.15 305.4 316.60 305.0 317.05 305.1 317.50 305.3 317.95 305.1 318.40 305.4 318.85 305.3 319.30 305.8 319.75 305.8 320.20 304.1 320.65 305.2 321.10 305.6 321.55 306.2 322.00 305.5 322.45 305.6 322.90 304.2 323.35 305.8 323.80 306.7 324.25 306.7 324.70 306.9 325.15 306.1 325.60 307.0 326.05 306.2 326.50 306.2 326.95 306.0 327.40 305.3 327.85 304.8 328.30 304.8 328.75 304.5 329.20 304.4 329.65 304.3 330.10 303.5 330.55 303.5 331.00 304.0 331.45 304.5 331.90 304.9 332.35 305.4 332.80 304.0 333.25 306.3 333.70 306.6 334.15 306.8 334.60 306.8 335.05 306.6 335.50 306.9 335.95 307.0 336.40 307.3 336.85 307.1 337.30 306.6 337.75 307.0 338.20 307.5 338.65 305.7 339.10 307.1 339.55 307.3 340.00 305.5 340.45 307.3 340.90 307.4 341.35 307.3 341.80 307.0 342.25 306.6 342.70 306.9 343.15 307.0 343.60 307.2 344.05 306.8 344.50 307.0 L344.50 310.1 344.05 310.1 343.60 310.7 343.15 310.2 342.70 309.5 342.25 309.7 341.80 310.0 341.35 310.3 340.90 310.2 340.45 309.8 340.00 309.8 339.55 310.4 339.10 310.6 338.65 310.0 338.20 310.2 337.75 310.1 337.30 310.2 336.85 311.7 336.40 310.1 335.95 309.9 335.50 309.8 335.05 309.8 334.60 310.1 334.15 310.0 333.70 309.2 333.25 309.0 332.80 309.1 332.35 309.4 331.90 307.9 331.45 307.5 331.00 307.2 330.55 307.3 330.10 306.7 329.65 307.2 329.20 308.1 328.75 307.6 328.30 307.4 327.85 309.3 327.40 308.2 326.95 309.0 326.50 309.4 326.05 309.9 325.60 310.0 325.15 309.6 324.70 309.5 324.25 309.8 323.80 310.9 323.35 309.7 322.90 309.3 322.45 308.6 322.00 308.6 321.55 308.8 321.10 309.9 320.65 308.6 320.20 310.4 319.75 308.6 319.30 309.6 318.85 308.6 318.40 307.9 317.95 307.8 317.50 308.0 317.05 307.9 316.60 308.1 316.15 307.8 315.70 308.5 315.25 308.3 314.80 309.1 314.35 308.5 313.90 308.6 313.45 308.2 313.00 308.7 312.55 308.1 312.10 308.3 311.65 308.2 311.20 307.4 310.75 307.8 310.30 308.6 309.85 307.6 309.40 307.9 308.95 307.7 308.50 308.0 308.05 308.2 307.60 307.1 307.15 307.7 306.70 307.4 306.25 306.9 305.80 307.0 305.35 307.0 304.90 307.2 304.45 307.3 304.00 306.8 303.55 306.6 303.10 307.1 302.65 307.1 302.20 306.8 301.75 306.8 301.30 307.3 300.85 306.4 300.40 306.9 299.95 306.6 299.50 306.6 299.05 306.8 298.60 306.3 298.15 306.4 297.70 306.1 297.25 306.6 296.80 307.1 296.35 306.2 295.90 306.6 295.45 306.4 295.00 306.0 294.55 305.7 294.10 306.1 293.65 305.6 293.20 306.0 292.75 305.7 292.30 306.3 291.85 304.8 291.40 304.6 290.95 304.1 290.50 304.4 290.05 305.1 289.60 303.0 289.15 304.8 288.70 303.1 288.25 302.5 287.80 302.4 287.35 302.1 286.90 302.1 286.45 301.8 286.00 301.7 285.55 301.8 285.10 301.1 284.65 300.9 284.20 300.1 283.75 300.2 283.30 299.5 282.85 299.8 282.40 299.3 281.95 299.3 281.50 298.1 281.05 297.9 280.60 297.5 280.15 297.7 279.70 296.9 279.25 297.0 278.80 296.7 278.35 297.0 277.90 296.4 277.45 296.4 277.00 295.9 276.55 295.6 276.10 295.3 275.65 295.2 275.20 294.9 274.75 294.6 274.30 294.7 273.85 294.4 273.40 294.7 272.95 294.0 272.50 294.5 272.05 294.3 271.60 294.4 271.15 294.5 270.70 294.0 270.25 293.9 269.80 294.1 269.35 293.6 268.90 293.4 268.45 293.7 268.00 295.2 267.55 294.5 267.10 295.7 266.65 294.5 266.20 295.1 265.75 294.7 265.30 295.1 264.85 295.1 264.40 294.9 263.95 295.0 263.50 295.2 263.05 297.3 262.60 295.9 262.15 296.0 261.70 297.6 261.25 296.2 260.80 297.1 260.35 296.8 259.90 296.9 259.45 297.3 259.00 297.7 258.55 299.6 258.10 298.0 257.65 298.4 257.20 298.4 256.75 298.7 256.30 299.1 255.85 298.6 255.40 299.0 254.95 300.3 254.50 300.3 254.05 299.6 253.60 300.2 253.15 300.3 252.70 300.8 252.25 300.7 251.80 301.2 251.35 301.4 250.90 301.8 250.45 301.6 250.00 303.8 249.55 302.4 249.10 302.8 248.65 304.2 248.20 303.4 247.75 304.0 247.30 303.7 246.85 303.9 246.40 303.9 245.95 304.4 245.50 305.6 245.05 304.9 244.60 305.2 244.15 305.0 243.70 305.0 243.25 305.1 242.80 305.3 242.35 305.3 241.90 305.4 241.45 306.1 241.00 305.7 240.55 305.8 240.10 306.4 239.65 305.6 239.20 305.6 238.75 305.7 238.30 305.9 237.85 305.9 237.40 305.9 236.95 305.7 236.50 305.3 236.05 305.5 235.60 306.1 235.15 305.6 234.70 306.2 234.25 305.6 233.80 305.9 233.35 306.2 232.90 306.3 232.45 305.9 232.00 305.9 231.55 304.7 231.10 304.4 230.65 303.7 230.20 303.2 229.75 300.2 229.30 294.6 228.85 291.3 228.40 295.5 227.95 301.2 227.50 304.0 227.05 304.4 226.60 306.6 226.15 305.7 225.70 307.2 225.25 306.3 224.80 306.2 224.35 306.4 223.90 305.8 223.45 305.7 223.00 305.5 222.55 305.8 222.10 305.7 221.65 305.6 221.20 305.6 220.75 305.5 220.30 306.7 219.85 305.7 219.40 305.0 218.95 305.5 218.50 304.9 218.05 305.6 217.60 305.0 217.15 304.9 216.70 305.0 216.25 305.0 215.80 304.9 215.35 305.2 214.90 305.1 214.45 304.9 214.00 306.5 213.55 304.9 213.10 304.5 212.65 304.3 212.20 304.4 211.75 304.7 211.30 304.0 210.85 304.5 210.40 304.9 209.95 304.3 209.50 304.0 209.05 304.5 208.60 303.8 208.15 303.9 207.70 304.1 207.25 303.6 206.80 303.4 206.35 303.3 205.90 303.5 205.45 303.7 205.00 303.7 204.55 303.6 204.10 303.7 Z" fill="#cc6762" stroke="#cc6762" stroke-width="0.5" stroke-linejoin="round"/>
</g>
<line x1="238.6" y1="313" x2="238.6" y2="321.5" stroke="#5f86bd" stroke-width="1.0" />
<line x1="295.4" y1="313" x2="295.4" y2="321.5" stroke="#c9d6e8" stroke-width="1.0" />
<line x1="310.4" y1="313" x2="310.4" y2="321.5" stroke="#5f86bd" stroke-width="1.0" />
<line x1="313.7" y1="313" x2="313.7" y2="321.5" stroke="#c9d6e8" stroke-width="1.0" />
<line x1="322.7" y1="313" x2="322.7" y2="321.5" stroke="#a3bbdb" stroke-width="1.0" />
<line x1="336.6" y1="313" x2="336.6" y2="321.5" stroke="#5f86bd" stroke-width="1.0" />
<rect x="203.5" y="180.2" width="141.7" height="141.8" fill="none" stroke="#1a1a1a" stroke-width="1.3"/>
<line x1="223.74" y1="322" x2="223.74" y2="324.6" stroke="#1a1a1a" stroke-width="1" />
<line x1="264.23" y1="322" x2="264.23" y2="324.6" stroke="#1a1a1a" stroke-width="1" />
<line x1="304.71" y1="322" x2="304.71" y2="324.6" stroke="#1a1a1a" stroke-width="1" />
<line x1="345.2" y1="322" x2="345.2" y2="324.6" stroke="#1a1a1a" stroke-width="1" />
<line x1="243.99" y1="322" x2="243.99" y2="323.6" stroke="#1a1a1a" stroke-width="1" />
<line x1="284.47" y1="322" x2="284.47" y2="323.6" stroke="#1a1a1a" stroke-width="1" />
<line x1="324.96" y1="322" x2="324.96" y2="323.6" stroke="#1a1a1a" stroke-width="1" />
<text x="223.74" y="335.4" font-size="10" fill="#1a1a1a" text-anchor="middle" >10</text>
<text x="264.23" y="335.4" font-size="10" fill="#1a1a1a" text-anchor="middle" >20</text>
<text x="304.71" y="335.4" font-size="10" fill="#1a1a1a" text-anchor="middle" >30</text>
<text x="345.2" y="335.4" font-size="10" fill="#1a1a1a" text-anchor="middle" >40</text>
<text x="274.35" y="347.4" font-size="12" fill="#1a1a1a" text-anchor="middle">2<tspan font-style="italic">&#952;</tspan> / Degree</text>
<text x="196.5" y="248.2" font-size="12" fill="#1a1a1a" text-anchor="middle" transform="rotate(-90 196.5 248.2)">Intensity / a.u.</text>
<text x="352.6" y="188" font-size="14" fill="#1a1a1a" text-anchor="start" >g</text>
<text x="373.4" y="190.5" font-size="9.5" fill="#5a82ba" text-anchor="start" >Mo-SeTe</text>
<text transform="translate(507.9 190.5) scale(0.9 1)" x="0" y="0" font-size="8.9" fill="#6f90c0" text-anchor="end" >97-064-4334</text>
<text transform="translate(507.9 200.6) scale(0.9 1)" x="0" y="0" font-size="8.9" fill="#6f90c0" text-anchor="end" >2<tspan font-style="italic">H</tspan>-MoSe<tspan font-size="6" dy="1.8">2</tspan></text>
<text transform="translate(507.9 212) scale(0.9 1)" x="0" y="0" font-size="8.9" fill="#5a80b8" text-anchor="end" >97-002-4155</text>
<text transform="translate(507.9 221.7) scale(0.9 1)" x="0" y="0" font-size="8.9" fill="#5a80b8" text-anchor="end" >2<tspan font-style="italic">H</tspan>-MoTe<tspan font-size="6" dy="1.8">2</tspan></text>
<g clip-path="url(#clg)">
<path d="M370.60 230.0 371.05 230.1 371.50 228.0 371.95 229.7 372.40 230.3 372.85 229.0 373.30 229.8 373.75 229.1 374.20 230.4 374.65 230.3 375.10 230.2 375.55 230.0 376.00 230.2 376.45 229.8 376.90 231.0 377.35 230.9 377.80 231.2 378.25 230.5 378.70 230.9 379.15 230.0 379.60 229.9 380.05 229.2 380.50 230.1 380.95 229.4 381.40 230.1 381.85 229.5 382.30 229.9 382.75 230.0 383.20 230.4 383.65 229.5 384.10 230.0 384.55 230.0 385.00 230.2 385.45 230.4 385.90 230.3 386.35 228.8 386.80 231.2 387.25 230.8 387.70 231.0 388.15 230.8 388.60 229.6 389.05 229.3 389.50 230.1 389.95 230.2 390.40 228.0 390.85 223.7 391.30 218.9 391.75 227.0 392.20 229.4 392.65 230.2 393.10 229.0 393.55 230.8 394.00 230.7 394.45 230.7 394.90 230.1 395.35 230.9 395.80 230.3 396.25 230.2 396.70 229.4 397.15 230.0 397.60 230.3 398.05 230.3 398.50 230.1 398.95 230.2 399.40 230.1 399.85 227.3 400.30 227.7 400.75 230.2 401.20 227.5 401.65 227.8 402.10 230.1 402.55 230.0 403.00 229.6 403.45 228.6 403.90 229.1 404.35 229.5 404.80 229.6 405.25 230.2 405.70 229.8 406.15 226.9 406.60 229.6 407.05 229.2 407.50 228.0 407.95 228.4 408.40 226.8 408.85 228.5 409.30 229.5 409.75 229.2 410.20 229.8 410.65 229.9 411.10 229.9 411.55 229.3 412.00 228.6 412.45 229.2 412.90 228.8 413.35 228.6 413.80 228.3 414.25 227.2 414.70 227.7 415.15 227.6 415.60 227.7 416.05 227.4 416.50 227.0 416.95 227.4 417.40 226.9 417.85 226.9 418.30 227.0 418.75 227.1 419.20 226.2 419.65 226.5 420.10 226.6 420.55 226.7 421.00 226.4 421.45 226.1 421.90 226.3 422.35 226.3 422.80 226.4 423.25 225.1 423.70 223.7 424.15 225.3 424.60 224.9 425.05 224.8 425.50 224.5 425.95 224.8 426.40 225.1 426.85 224.9 427.30 225.0 427.75 225.0 428.20 223.8 428.65 224.2 429.10 223.0 429.55 224.3 430.00 222.9 430.45 224.1 430.90 223.4 431.35 224.7 431.80 225.0 432.25 225.5 432.70 223.3 433.15 226.0 433.60 225.7 434.05 225.8 434.50 225.2 434.95 225.4 435.40 224.4 435.85 224.4 436.30 224.9 436.75 225.2 437.20 225.7 437.65 225.6 438.10 224.7 438.55 225.9 439.00 227.2 439.45 226.4 439.90 227.3 440.35 226.0 440.80 227.0 441.25 227.7 441.70 225.6 442.15 227.5 442.60 227.3 443.05 226.3 443.50 228.1 443.95 228.0 444.40 228.2 444.85 228.1 445.30 227.1 445.75 228.6 446.20 229.1 446.65 229.1 447.10 229.2 447.55 227.6 448.00 230.0 448.45 229.5 448.90 226.7 449.35 217.8 449.80 221.8 450.25 226.9 450.70 230.7 451.15 230.0 451.60 228.8 452.05 229.6 452.50 229.4 452.95 230.8 453.40 227.8 453.85 229.4 454.30 230.3 454.75 230.0 455.20 230.6 455.65 230.5 456.10 230.7 456.55 231.0 457.00 230.1 457.45 231.2 457.90 231.0 458.35 231.3 458.80 230.9 459.25 231.3 459.70 231.3 460.15 229.7 460.60 230.5 461.05 231.4 461.50 231.6 461.95 231.7 462.40 231.8 462.85 230.4 463.30 230.4 463.75 230.4 464.20 232.1 464.65 232.7 465.10 232.3 465.55 232.8 466.00 231.8 466.45 232.9 466.90 232.4 467.35 232.4 467.80 232.8 468.25 232.3 468.70 232.7 469.15 232.3 469.60 233.3 470.05 233.5 470.50 232.9 470.95 233.5 471.40 233.1 471.85 233.1 472.30 233.3 472.75 232.9 473.20 232.8 473.65 233.3 474.10 232.8 474.55 233.1 475.00 232.0 475.45 233.9 475.90 232.9 476.35 234.0 476.80 233.6 477.25 233.7 477.70 231.8 478.15 234.0 478.60 234.2 479.05 234.4 479.50 234.5 479.95 233.7 480.40 234.3 480.85 233.6 481.30 233.1 481.75 234.1 482.20 233.2 482.65 233.4 483.10 232.7 483.55 232.9 484.00 230.8 484.45 232.5 484.90 232.5 485.35 232.7 485.80 232.3 486.25 231.9 486.70 232.3 487.15 231.9 487.60 231.4 488.05 231.5 488.50 232.1 488.95 232.0 489.40 232.1 489.85 232.4 490.30 231.9 490.75 231.9 491.20 231.4 491.65 230.9 492.10 230.3 492.55 231.2 493.00 231.7 493.45 231.8 493.90 232.3 494.35 232.3 494.80 232.5 495.25 232.4 495.70 232.8 496.15 232.8 496.60 232.8 497.05 232.3 497.50 232.5 497.95 232.1 498.40 231.5 498.85 230.9 499.30 231.4 499.75 231.1 500.20 231.4 500.65 232.4 501.10 232.6 501.55 233.2 502.00 230.9 502.45 232.9 502.90 233.8 503.35 233.3 503.80 234.9 504.25 231.4 504.70 234.9 505.15 235.0 505.60 234.7 506.05 235.3 506.50 235.1 506.95 234.9 507.40 235.2 507.85 234.5 508.30 234.9 508.75 235.0 509.20 234.3 509.65 234.5 510.10 234.7 510.55 234.9 511.00 235.2 L511.00 240.5 510.55 243.0 510.10 241.4 509.65 240.7 509.20 241.2 508.75 240.4 508.30 243.4 507.85 240.7 507.40 241.1 506.95 242.1 506.50 240.4 506.05 241.3 505.60 242.5 505.15 242.7 504.70 240.5 504.25 240.2 503.80 240.3 503.35 240.9 502.90 240.2 502.45 239.8 502.00 240.6 501.55 240.4 501.10 238.2 500.65 238.6 500.20 238.4 499.75 236.7 499.30 237.3 498.85 238.0 498.40 237.4 497.95 237.5 497.50 238.0 497.05 240.3 496.60 239.8 496.15 239.0 495.70 238.7 495.25 238.9 494.80 239.4 494.35 238.4 493.90 237.4 493.45 237.7 493.00 237.2 492.55 238.7 492.10 237.0 491.65 237.1 491.20 237.6 490.75 237.8 490.30 237.7 489.85 238.1 489.40 238.3 488.95 240.2 488.50 238.2 488.05 238.4 487.60 240.5 487.15 238.1 486.70 238.2 486.25 237.8 485.80 238.1 485.35 238.0 484.90 238.5 484.45 237.9 484.00 239.0 483.55 238.3 483.10 239.1 482.65 239.1 482.20 239.0 481.75 239.5 481.30 239.4 480.85 242.5 480.40 239.9 479.95 239.7 479.50 241.3 479.05 239.6 478.60 241.2 478.15 240.0 477.70 239.8 477.25 239.4 476.80 239.4 476.35 239.1 475.90 239.6 475.45 239.1 475.00 239.0 474.55 239.5 474.10 238.8 473.65 240.8 473.20 239.0 472.75 238.8 472.30 239.0 471.85 238.8 471.40 239.0 470.95 239.0 470.50 239.6 470.05 239.3 469.60 238.9 469.15 238.3 468.70 238.8 468.25 238.3 467.80 238.3 467.35 238.2 466.90 238.5 466.45 238.1 466.00 238.4 465.55 238.5 465.10 238.8 464.65 238.4 464.20 237.5 463.75 237.9 463.30 237.6 462.85 238.6 462.40 238.4 461.95 236.9 461.50 237.2 461.05 237.2 460.60 237.5 460.15 236.5 459.70 237.3 459.25 236.5 458.80 236.7 458.35 237.3 457.90 239.3 457.45 236.5 457.00 237.2 456.55 236.6 456.10 238.9 455.65 237.2 455.20 237.1 454.75 235.7 454.30 236.1 453.85 236.1 453.40 236.6 452.95 236.7 452.50 236.3 452.05 235.8 451.60 237.2 451.15 236.6 450.70 236.2 450.25 234.5 449.80 227.4 449.35 224.4 448.90 235.9 448.45 234.9 448.00 235.5 447.55 235.1 447.10 236.7 446.65 236.8 446.20 237.6 445.75 234.4 445.30 237.4 444.85 233.6 444.40 233.3 443.95 233.1 443.50 233.8 443.05 234.5 442.60 233.1 442.15 232.9 441.70 233.1 441.25 233.4 440.80 232.8 440.35 232.7 439.90 232.6 439.45 235.0 439.00 232.6 438.55 232.3 438.10 234.6 437.65 232.1 437.20 231.4 436.75 231.0 436.30 231.0 435.85 233.4 435.40 230.7 434.95 232.2 434.50 230.9 434.05 231.6 433.60 231.7 433.15 234.1 432.70 231.6 432.25 231.2 431.80 230.6 431.35 230.5 430.90 229.9 430.45 229.9 430.00 229.6 429.55 229.7 429.10 230.0 428.65 230.4 428.20 230.1 427.75 231.1 427.30 230.4 426.85 230.6 426.40 231.2 425.95 230.6 425.50 230.9 425.05 230.6 424.60 230.8 424.15 233.1 423.70 232.0 423.25 231.8 422.80 233.1 422.35 233.0 421.90 234.3 421.45 232.6 421.00 232.5 420.55 232.2 420.10 232.5 419.65 232.8 419.20 232.3 418.75 232.9 418.30 232.6 417.85 233.0 417.40 233.0 416.95 233.5 416.50 233.1 416.05 233.1 415.60 233.5 415.15 234.9 414.70 234.3 414.25 234.2 413.80 233.8 413.35 234.6 412.90 235.3 412.45 234.5 412.00 235.4 411.55 234.9 411.10 235.4 410.65 235.4 410.20 236.1 409.75 237.3 409.30 235.0 408.85 235.2 408.40 235.2 407.95 234.9 407.50 235.5 407.05 235.8 406.60 235.1 406.15 235.3 405.70 235.0 405.25 235.3 404.80 235.1 404.35 235.5 403.90 235.2 403.45 235.1 403.00 235.5 402.55 235.3 402.10 235.9 401.65 235.7 401.20 236.1 400.75 235.7 400.30 235.5 399.85 236.0 399.40 236.4 398.95 235.4 398.50 235.5 398.05 237.7 397.60 236.1 397.15 235.5 396.70 235.8 396.25 236.1 395.80 235.8 395.35 235.9 394.90 236.0 394.45 236.6 394.00 237.2 393.55 237.0 393.10 235.9 392.65 236.0 392.20 236.0 391.75 235.5 391.30 225.1 390.85 229.0 390.40 234.8 389.95 236.0 389.50 236.5 389.05 237.9 388.60 237.0 388.15 236.2 387.70 236.7 387.25 236.7 386.80 236.3 386.35 236.9 385.90 236.6 385.45 236.8 385.00 237.5 384.55 235.6 384.10 235.2 383.65 237.6 383.20 235.9 382.75 235.8 382.30 235.8 381.85 235.3 381.40 235.6 380.95 237.0 380.50 235.7 380.05 235.8 379.60 237.0 379.15 238.0 378.70 236.8 378.25 236.8 377.80 236.9 377.35 237.4 376.90 236.4 376.45 236.6 376.00 235.8 375.55 235.7 375.10 237.9 374.65 235.6 374.20 235.5 373.75 235.7 373.30 235.1 372.85 235.9 372.40 235.7 371.95 236.3 371.50 235.9 371.05 235.7 370.60 235.5 Z" fill="#5280ba" fill-opacity="0.45" stroke="none"/>
<path d="M370.60 231.4 371.05 231.5 371.50 231.1 371.95 231.6 372.40 231.0 372.85 231.1 373.30 231.1 373.75 229.7 374.20 231.4 374.65 231.5 375.10 231.4 375.55 231.2 376.00 231.3 376.45 231.7 376.90 232.3 377.35 232.3 377.80 232.4 378.25 230.8 378.70 231.5 379.15 231.7 379.60 231.5 380.05 230.9 380.50 230.7 380.95 230.7 381.40 231.2 381.85 230.9 382.30 231.0 382.75 231.2 383.20 231.6 383.65 231.1 384.10 231.3 384.55 231.2 385.00 232.1 385.45 231.9 385.90 232.1 386.35 231.7 386.80 232.0 387.25 231.9 387.70 232.1 388.15 232.1 388.60 231.9 389.05 231.5 389.50 232.2 389.95 231.5 390.40 230.2 390.85 224.7 391.30 219.5 391.75 227.9 392.20 230.1 392.65 231.9 393.10 232.1 393.55 231.6 394.00 232.2 394.45 231.6 394.90 231.7 395.35 232.0 395.80 231.2 396.25 231.4 396.70 231.7 397.15 230.0 397.60 231.5 398.05 231.3 398.50 230.9 398.95 231.1 399.40 231.1 399.85 231.2 400.30 231.1 400.75 231.0 401.20 231.0 401.65 231.0 402.10 231.0 402.55 231.3 403.00 231.1 403.45 230.4 403.90 230.6 404.35 230.8 404.80 231.2 405.25 231.4 405.70 229.5 406.15 230.8 406.60 230.5 407.05 230.3 407.50 230.6 407.95 230.5 408.40 229.8 408.85 230.6 409.30 230.6 409.75 230.6 410.20 230.8 410.65 231.3 411.10 231.1 411.55 230.5 412.00 230.4 412.45 228.9 412.90 229.8 413.35 230.1 413.80 229.4 414.25 229.4 414.70 229.6 415.15 229.5 415.60 227.3 416.05 228.8 416.50 228.9 416.95 228.8 417.40 228.4 417.85 227.9 418.30 228.0 418.75 227.0 419.20 228.3 419.65 228.2 420.10 227.8 420.55 227.9 421.00 228.0 421.45 227.8 421.90 227.8 422.35 227.6 422.80 226.8 423.25 227.1 423.70 226.8 424.15 226.1 424.60 225.3 425.05 226.2 425.50 225.4 425.95 225.9 426.40 226.3 426.85 225.8 427.30 226.1 427.75 226.2 428.20 225.7 428.65 225.3 429.10 225.4 429.55 224.8 430.00 224.4 430.45 225.1 430.90 225.6 431.35 225.8 431.80 226.5 432.25 226.3 432.70 226.7 433.15 227.2 433.60 226.9 434.05 227.0 434.50 226.8 434.95 226.6 435.40 226.3 435.85 225.6 436.30 226.2 436.75 226.5 437.20 227.0 437.65 227.7 438.10 227.3 438.55 226.0 439.00 228.3 439.45 228.2 439.90 228.5 440.35 228.7 440.80 228.6 441.25 228.9 441.70 228.0 442.15 228.8 442.60 229.1 443.05 229.1 443.50 229.2 443.95 229.2 444.40 228.9 444.85 229.3 445.30 228.7 445.75 230.0 446.20 230.3 446.65 230.2 447.10 231.0 447.55 230.4 448.00 231.3 448.45 230.9 448.90 228.6 449.35 217.8 449.80 223.2 450.25 229.2 450.70 232.1 451.15 232.1 451.60 231.5 452.05 231.7 452.50 231.8 452.95 231.9 453.40 231.4 453.85 231.8 454.30 231.8 454.75 231.9 455.20 231.9 455.65 231.9 456.10 230.1 456.55 231.8 457.00 232.4 457.45 232.7 457.90 232.5 458.35 232.3 458.80 231.9 459.25 232.4 459.70 232.3 460.15 231.7 460.60 232.7 461.05 232.9 461.50 232.8 461.95 233.0 462.40 232.6 462.85 233.3 463.30 233.0 463.75 233.8 464.20 233.2 464.65 233.5 465.10 233.9 465.55 234.5 466.00 232.4 466.45 234.0 466.90 233.4 467.35 232.1 467.80 234.3 468.25 233.3 468.70 232.2 469.15 233.8 469.60 234.7 470.05 234.8 470.50 234.9 470.95 233.4 471.40 234.7 471.85 234.4 472.30 234.6 472.75 234.4 473.20 234.2 473.65 234.5 474.10 233.7 474.55 234.8 475.00 234.7 475.45 235.2 475.90 234.9 476.35 235.1 476.80 234.6 477.25 235.4 477.70 235.3 478.15 235.8 478.60 235.2 479.05 235.5 479.50 235.4 479.95 235.3 480.40 235.5 480.85 235.0 481.30 234.9 481.75 235.6 482.20 234.9 482.65 234.4 483.10 234.5 483.55 234.0 484.00 234.1 484.45 234.0 484.90 233.0 485.35 232.6 485.80 233.8 486.25 233.2 486.70 233.0 487.15 233.7 487.60 233.4 488.05 233.8 488.50 233.3 488.95 233.7 489.40 233.9 489.85 233.2 490.30 233.3 490.75 232.8 491.20 232.6 491.65 231.5 492.10 232.6 492.55 232.5 493.00 233.0 493.45 233.2 493.90 233.4 494.35 233.6 494.80 234.0 495.25 233.8 495.70 233.6 496.15 234.8 496.60 233.9 497.05 233.5 497.50 233.4 497.95 232.6 498.40 232.1 498.85 232.2 499.30 232.5 499.75 232.5 500.20 232.9 500.65 231.8 501.10 234.0 501.55 234.4 502.00 234.4 502.45 234.6 502.90 235.4 503.35 234.9 503.80 235.7 504.25 235.4 504.70 235.2 505.15 236.3 505.60 236.2 506.05 236.2 506.50 234.5 506.95 236.5 507.40 236.2 507.85 235.4 508.30 235.7 508.75 236.0 509.20 236.3 509.65 235.4 510.10 235.2 510.55 236.3 511.00 235.7 L511.00 239.7 510.55 239.3 510.10 239.2 509.65 239.3 509.20 239.9 508.75 239.5 508.30 239.3 507.85 239.8 507.40 239.7 506.95 239.4 506.50 239.1 506.05 239.3 505.60 239.7 505.15 239.6 504.70 239.1 504.25 239.7 503.80 239.3 503.35 238.8 502.90 238.5 502.45 238.2 502.00 237.3 501.55 237.7 501.10 237.1 500.65 236.4 500.20 235.8 499.75 235.7 499.30 235.8 498.85 235.8 498.40 235.9 497.95 236.3 497.50 236.5 497.05 237.0 496.60 237.2 496.15 237.6 495.70 237.6 495.25 237.3 494.80 237.0 494.35 236.8 493.90 236.2 493.45 236.1 493.00 235.8 492.55 236.1 492.10 235.5 491.65 237.4 491.20 235.8 490.75 236.5 490.30 236.5 489.85 236.5 489.40 237.0 488.95 237.5 488.50 236.7 488.05 236.7 487.60 236.5 487.15 237.6 486.70 236.6 486.25 236.3 485.80 237.1 485.35 237.3 484.90 236.9 484.45 236.8 484.00 237.6 483.55 237.5 483.10 237.6 482.65 237.7 482.20 238.3 481.75 238.9 481.30 238.6 480.85 238.3 480.40 238.3 479.95 238.5 479.50 238.4 479.05 238.4 478.60 238.2 478.15 239.0 477.70 238.4 477.25 239.0 476.80 238.5 476.35 238.3 475.90 238.4 475.45 238.2 475.00 237.7 474.55 237.7 474.10 237.9 473.65 237.4 473.20 238.4 472.75 237.8 472.30 238.0 471.85 238.2 471.40 237.9 470.95 238.1 470.50 238.2 470.05 238.2 469.60 237.8 469.15 237.7 468.70 236.9 468.25 236.9 467.80 237.1 467.35 236.9 466.90 236.9 466.45 236.8 466.00 237.0 465.55 237.9 465.10 238.0 464.65 237.5 464.20 236.5 463.75 236.6 463.30 236.3 462.85 236.1 462.40 236.4 461.95 236.2 461.50 236.1 461.05 235.9 460.60 235.8 460.15 235.5 459.70 235.8 459.25 235.8 458.80 235.3 458.35 235.7 457.90 235.7 457.45 235.4 457.00 235.4 456.55 235.4 456.10 235.4 455.65 235.1 455.20 237.0 454.75 234.8 454.30 234.9 453.85 234.8 453.40 234.8 452.95 235.4 452.50 235.0 452.05 234.8 451.60 234.8 451.15 235.2 450.70 235.8 450.25 232.8 449.80 226.4 449.35 222.9 448.90 231.5 448.45 233.7 448.00 234.8 447.55 234.4 447.10 233.8 446.65 234.1 446.20 233.4 445.75 232.9 445.30 232.8 444.85 232.5 444.40 233.2 443.95 232.9 443.50 232.3 443.05 232.0 442.60 232.6 442.15 231.9 441.70 232.8 441.25 231.7 440.80 231.6 440.35 232.2 439.90 232.3 439.45 231.6 439.00 231.3 438.55 231.6 438.10 231.1 437.65 230.8 437.20 230.1 436.75 229.5 436.30 229.5 435.85 229.3 435.40 229.5 434.95 229.8 434.50 230.0 434.05 229.8 433.60 230.4 433.15 230.8 432.70 230.1 432.25 229.6 431.80 229.7 431.35 228.8 430.90 228.6 430.45 229.0 430.00 228.2 429.55 228.5 429.10 229.0 428.65 228.9 428.20 229.0 427.75 229.1 427.30 229.3 426.85 229.6 426.40 229.1 425.95 229.3 425.50 229.5 425.05 229.3 424.60 229.6 424.15 229.7 423.70 230.0 423.25 230.2 422.80 230.8 422.35 231.2 421.90 230.8 421.45 231.4 421.00 230.8 420.55 231.3 420.10 231.2 419.65 231.2 419.20 231.3 418.75 231.9 418.30 231.9 417.85 231.9 417.40 231.8 416.95 232.3 416.50 232.0 416.05 231.9 415.60 232.5 415.15 233.3 414.70 232.7 414.25 232.8 413.80 232.7 413.35 232.9 412.90 233.1 412.45 233.4 412.00 233.3 411.55 234.1 411.10 234.2 410.65 234.3 410.20 234.0 409.75 233.8 409.30 233.6 408.85 233.6 408.40 233.1 407.95 233.7 407.50 234.8 407.05 233.5 406.60 234.3 406.15 233.6 405.70 233.8 405.25 234.1 404.80 234.5 404.35 233.9 403.90 234.0 403.45 233.9 403.00 234.0 402.55 234.4 402.10 234.3 401.65 234.2 401.20 234.7 400.75 234.7 400.30 234.2 399.85 234.8 399.40 234.7 398.95 234.2 398.50 235.0 398.05 234.3 397.60 234.4 397.15 234.2 396.70 234.7 396.25 234.7 395.80 234.7 395.35 236.4 394.90 235.6 394.45 235.2 394.00 235.2 393.55 234.9 393.10 235.3 392.65 234.8 392.20 234.0 391.75 232.3 391.30 223.5 390.85 227.7 390.40 233.2 389.95 234.6 389.50 237.2 389.05 234.6 388.60 234.9 388.15 235.1 387.70 235.3 387.25 235.3 386.80 235.3 386.35 235.0 385.90 235.1 385.45 235.4 385.00 235.1 384.55 234.5 384.10 234.2 383.65 234.5 383.20 234.8 382.75 234.4 382.30 233.9 381.85 233.9 381.40 234.7 380.95 234.4 380.50 234.0 380.05 235.7 379.60 234.4 379.15 235.0 378.70 234.8 378.25 235.1 377.80 235.9 377.35 235.1 376.90 235.1 376.45 235.1 376.00 235.0 375.55 234.1 375.10 234.3 374.65 234.4 374.20 234.4 373.75 234.5 373.30 234.1 372.85 234.4 372.40 234.6 371.95 234.4 371.50 234.5 371.05 234.3 370.60 234.3 Z" fill="#5280ba" stroke="#5280ba" stroke-width="0.5" stroke-linejoin="round"/>
</g>
<line x1="395.5" y1="241.3" x2="395.5" y2="245.6" stroke="#6f93c4" stroke-width="0.7" />
<line x1="457" y1="241.3" x2="457" y2="245.6" stroke="#6f93c4" stroke-width="0.7" />
<line x1="473.2" y1="241.3" x2="473.2" y2="245.6" stroke="#6f93c4" stroke-width="0.7" />
<line x1="477.4" y1="241.3" x2="477.4" y2="245.6" stroke="#6f93c4" stroke-width="0.7" />
<line x1="487.1" y1="241.3" x2="487.1" y2="245.6" stroke="#6f93c4" stroke-width="0.7" />
<line x1="502.1" y1="241.3" x2="502.1" y2="245.6" stroke="#6f93c4" stroke-width="0.7" />
<line x1="390.5" y1="246.7" x2="390.5" y2="251" stroke="#6f93c4" stroke-width="0.7" />
<line x1="447.4" y1="246.7" x2="447.4" y2="251" stroke="#6f93c4" stroke-width="0.7" />
<line x1="464.6" y1="246.7" x2="464.6" y2="251" stroke="#6f93c4" stroke-width="0.7" />
<line x1="467.1" y1="246.7" x2="467.1" y2="251" stroke="#6f93c4" stroke-width="0.7" />
<line x1="476.4" y1="246.7" x2="476.4" y2="251" stroke="#6f93c4" stroke-width="0.7" />
<line x1="489.9" y1="246.7" x2="489.9" y2="251" stroke="#6f93c4" stroke-width="0.7" />
<line x1="506.4" y1="246.7" x2="506.4" y2="251" stroke="#6f93c4" stroke-width="0.7" />
<line x1="508.6" y1="246.7" x2="508.6" y2="251" stroke="#6f93c4" stroke-width="0.7" />
<text x="373.4" y="263.6" font-size="9.5" fill="#c9665f" text-anchor="start" >K-Mo-SeTe</text>
<text x="394.2" y="275" font-size="7" fill="#1a1a1a" text-anchor="middle" >1<tspan font-style="italic">T</tspan></text>
<text x="394.2" y="282.5" font-size="7" fill="#1a1a1a" text-anchor="middle" >(002)</text>
<g clip-path="url(#clg)">
<path d="M370.60 291.8 371.05 291.8 371.50 292.3 371.95 292.1 372.40 292.6 372.85 292.4 373.30 293.1 373.75 293.3 374.20 293.4 374.65 292.9 375.10 293.4 375.55 293.5 376.00 293.0 376.45 293.1 376.90 294.0 377.35 294.1 377.80 294.0 378.25 294.3 378.70 294.5 379.15 295.1 379.60 295.0 380.05 295.3 380.50 294.7 380.95 292.6 381.40 293.8 381.85 286.3 382.30 269.6 382.75 262.8 383.20 273.7 383.65 285.8 384.10 295.1 384.55 295.4 385.00 295.2 385.45 295.4 385.90 297.0 386.35 297.1 386.80 295.1 387.25 297.1 387.70 297.6 388.15 298.2 388.60 298.3 389.05 298.3 389.50 298.2 389.95 295.4 390.40 297.8 390.85 297.8 391.30 297.9 391.75 298.1 392.20 297.5 392.65 297.4 393.10 298.6 393.55 298.0 394.00 297.7 394.45 298.6 394.90 297.5 395.35 295.8 395.80 298.6 396.25 299.0 396.70 298.6 397.15 296.4 397.60 299.6 398.05 297.8 398.50 299.3 398.95 299.6 399.40 298.9 399.85 299.8 400.30 299.8 400.75 298.1 401.20 299.8 401.65 299.2 402.10 299.6 402.55 298.5 403.00 299.3 403.45 299.5 403.90 299.8 404.35 298.4 404.80 298.9 405.25 299.1 405.70 298.6 406.15 298.8 406.60 298.6 407.05 299.0 407.50 298.7 407.95 298.6 408.40 298.9 408.85 297.5 409.30 299.1 409.75 297.1 410.20 298.0 410.65 297.4 411.10 299.0 411.55 298.7 412.00 298.2 412.45 298.2 412.90 296.5 413.35 298.9 413.80 298.4 414.25 297.9 414.70 297.6 415.15 299.0 415.60 299.0 416.05 299.7 416.50 299.5 416.95 298.6 417.40 298.7 417.85 299.2 418.30 298.9 418.75 298.3 419.20 297.8 419.65 298.8 420.10 299.2 420.55 297.9 421.00 299.1 421.45 299.0 421.90 299.5 422.35 298.9 422.80 299.0 423.25 298.6 423.70 299.2 424.15 297.8 424.60 299.5 425.05 298.3 425.50 296.9 425.95 298.1 426.40 299.4 426.85 299.4 427.30 298.9 427.75 299.2 428.20 299.0 428.65 299.4 429.10 298.2 429.55 299.7 430.00 299.7 430.45 299.9 430.90 299.5 431.35 299.0 431.80 299.6 432.25 299.6 432.70 298.8 433.15 299.8 433.60 299.1 434.05 299.0 434.50 298.2 434.95 299.6 435.40 297.0 435.85 299.6 436.30 299.8 436.75 297.5 437.20 300.5 437.65 300.4 438.10 297.9 438.55 299.8 439.00 300.8 439.45 301.1 439.90 300.9 440.35 301.0 440.80 301.2 441.25 300.8 441.70 299.7 442.15 301.5 442.60 301.4 443.05 301.4 443.50 301.7 443.95 303.0 444.40 302.9 444.85 303.3 445.30 302.5 445.75 303.3 446.20 302.9 446.65 303.5 447.10 303.5 447.55 303.4 448.00 304.0 448.45 304.5 448.90 304.5 449.35 304.4 449.80 304.8 450.25 304.2 450.70 304.2 451.15 304.3 451.60 302.1 452.05 303.6 452.50 303.2 452.95 301.9 453.40 303.1 453.85 298.0 454.30 298.1 454.75 294.5 455.20 296.0 455.65 298.5 456.10 302.3 456.55 302.9 457.00 303.0 457.45 302.6 457.90 302.5 458.35 301.9 458.80 301.7 459.25 301.6 459.70 301.1 460.15 300.4 460.60 300.8 461.05 298.9 461.50 298.9 461.95 299.3 462.40 298.3 462.85 298.8 463.30 298.2 463.75 297.7 464.20 298.8 464.65 299.2 465.10 299.7 465.55 300.8 466.00 301.2 466.45 302.3 466.90 302.4 467.35 302.7 467.80 303.3 468.25 303.3 468.70 303.0 469.15 303.1 469.60 304.4 470.05 303.9 470.50 303.7 470.95 303.3 471.40 304.1 471.85 304.2 472.30 304.5 472.75 304.5 473.20 303.3 473.65 304.9 474.10 305.3 474.55 305.0 475.00 305.2 475.45 305.5 475.90 305.8 476.35 305.8 476.80 305.6 477.25 303.3 477.70 305.9 478.15 305.5 478.60 306.2 479.05 306.0 479.50 306.5 479.95 306.4 480.40 306.7 480.85 305.8 481.30 305.7 481.75 302.5 482.20 305.0 482.65 304.8 483.10 304.3 483.55 304.2 484.00 303.6 484.45 300.8 484.90 303.6 485.35 303.4 485.80 301.9 486.25 303.3 486.70 303.2 487.15 301.4 487.60 301.4 488.05 300.8 488.50 300.1 488.95 300.0 489.40 299.5 489.85 298.9 490.30 298.4 490.75 296.9 491.20 298.7 491.65 299.7 492.10 300.8 492.55 302.0 493.00 302.6 493.45 302.8 493.90 304.7 494.35 305.3 494.80 305.4 495.25 303.0 495.70 304.9 496.15 305.7 496.60 303.5 497.05 305.6 497.50 305.7 497.95 306.0 498.40 306.9 498.85 306.7 499.30 307.7 499.75 306.6 500.20 307.6 500.65 308.1 501.10 306.8 501.55 307.2 502.00 306.0 502.45 306.8 502.90 306.6 503.35 307.2 503.80 306.1 504.25 306.1 504.70 305.0 505.15 305.1 505.60 305.4 506.05 305.3 506.50 301.8 506.95 301.6 507.40 300.9 507.85 299.5 508.30 298.0 508.75 296.4 509.20 294.8 509.65 294.0 510.10 295.9 510.55 297.1 511.00 298.7 L511.00 304.4 510.55 303.6 510.10 301.8 509.65 300.0 509.20 300.8 508.75 302.1 508.30 303.6 507.85 305.3 507.40 306.1 506.95 308.1 506.50 308.7 506.05 311.7 505.60 311.1 505.15 311.4 504.70 311.3 504.25 312.2 503.80 315.0 503.35 312.4 502.90 312.4 502.45 313.1 502.00 312.5 501.55 312.3 501.10 312.7 500.65 313.1 500.20 313.7 499.75 313.1 499.30 312.8 498.85 313.0 498.40 312.1 497.95 312.2 497.50 311.7 497.05 311.5 496.60 311.6 496.15 311.0 495.70 311.2 495.25 311.6 494.80 310.6 494.35 310.4 493.90 309.9 493.45 309.1 493.00 308.8 492.55 310.6 492.10 306.1 491.65 305.2 491.20 304.3 490.75 303.2 490.30 304.4 489.85 303.9 489.40 304.6 488.95 305.1 488.50 308.9 488.05 309.3 487.60 307.2 487.15 308.0 486.70 308.5 486.25 308.7 485.80 308.5 485.35 308.9 484.90 309.4 484.45 308.8 484.00 309.4 483.55 309.1 483.10 309.6 482.65 310.0 482.20 311.0 481.75 311.0 481.30 312.0 480.85 311.5 480.40 312.0 479.95 312.0 479.50 311.9 479.05 311.6 478.60 312.3 478.15 313.4 477.70 311.6 477.25 311.2 476.80 311.0 476.35 311.9 475.90 310.9 475.45 311.1 475.00 313.5 474.55 310.7 474.10 312.8 473.65 310.9 473.20 310.4 472.75 309.8 472.30 310.0 471.85 309.9 471.40 309.7 470.95 309.9 470.50 309.9 470.05 309.6 469.60 310.1 469.15 310.2 468.70 309.5 468.25 310.3 467.80 309.4 467.35 308.7 466.90 308.6 466.45 309.3 466.00 306.6 465.55 305.9 465.10 305.5 464.65 305.1 464.20 304.0 463.75 303.0 463.30 303.5 462.85 303.9 462.40 304.8 461.95 304.6 461.50 305.3 461.05 306.0 460.60 307.3 460.15 306.6 459.70 306.3 459.25 307.0 458.80 307.8 458.35 309.2 457.90 310.5 457.45 308.2 457.00 310.3 456.55 308.6 456.10 308.6 455.65 304.2 455.20 301.7 454.75 300.4 454.30 303.9 453.85 306.8 453.40 308.5 452.95 308.9 452.50 309.0 452.05 309.3 451.60 309.6 451.15 309.8 450.70 309.6 450.25 309.7 449.80 310.0 449.35 310.1 448.90 311.5 448.45 309.6 448.00 309.0 447.55 309.2 447.10 309.1 446.65 309.3 446.20 309.4 445.75 309.8 445.30 308.5 444.85 308.2 444.40 308.1 443.95 308.8 443.50 307.5 443.05 307.8 442.60 307.1 442.15 307.3 441.70 307.1 441.25 308.4 440.80 306.4 440.35 306.3 439.90 307.0 439.45 306.1 439.00 306.8 438.55 306.2 438.10 306.2 437.65 305.9 437.20 306.2 436.75 305.3 436.30 305.4 435.85 305.2 435.40 305.7 434.95 305.0 434.50 305.0 434.05 304.9 433.60 305.1 433.15 304.7 432.70 304.8 432.25 305.0 431.80 304.9 431.35 305.0 430.90 305.0 430.45 305.9 430.00 305.4 429.55 307.7 429.10 304.8 428.65 304.8 428.20 305.2 427.75 304.5 427.30 305.0 426.85 305.2 426.40 304.4 425.95 305.2 425.50 307.7 425.05 304.5 424.60 304.8 424.15 304.4 423.70 304.3 423.25 304.3 422.80 304.9 422.35 305.7 421.90 305.0 421.45 305.6 421.00 304.8 420.55 304.2 420.10 304.2 419.65 305.7 419.20 304.8 418.75 303.9 418.30 304.6 417.85 305.1 417.40 304.3 416.95 304.6 416.50 304.9 416.05 304.8 415.60 305.0 415.15 304.5 414.70 305.5 414.25 304.4 413.80 306.1 413.35 303.9 412.90 304.2 412.45 306.7 412.00 306.9 411.55 305.2 411.10 304.1 410.65 304.7 410.20 304.9 409.75 304.1 409.30 304.8 408.85 304.4 408.40 305.4 407.95 307.2 407.50 304.7 407.05 304.5 406.60 304.8 406.15 304.3 405.70 304.2 405.25 304.8 404.80 304.4 404.35 304.7 403.90 305.0 403.45 304.8 403.00 306.6 402.55 305.6 402.10 305.5 401.65 305.1 401.20 305.9 400.75 305.1 400.30 306.8 399.85 304.8 399.40 305.4 398.95 305.9 398.50 305.2 398.05 308.3 397.60 305.7 397.15 305.2 396.70 306.3 396.25 304.2 395.80 306.5 395.35 303.6 394.90 304.1 394.45 303.8 394.00 303.5 393.55 303.5 393.10 303.6 392.65 306.6 392.20 305.4 391.75 303.6 391.30 303.3 390.85 303.2 390.40 303.7 389.95 304.1 389.50 303.4 389.05 303.5 388.60 305.1 388.15 305.4 387.70 303.2 387.25 303.2 386.80 304.8 386.35 302.9 385.90 302.3 385.45 301.7 385.00 301.6 384.55 300.7 384.10 300.5 383.65 291.8 383.20 279.4 382.75 269.6 382.30 278.0 381.85 292.6 381.40 299.8 380.95 300.8 380.50 302.0 380.05 300.6 379.60 301.2 379.15 302.1 378.70 300.3 378.25 300.1 377.80 299.6 377.35 299.4 376.90 301.6 376.45 299.2 376.00 299.0 375.55 298.8 375.10 298.8 374.65 298.8 374.20 298.7 373.75 299.0 373.30 298.5 372.85 298.2 372.40 298.0 371.95 298.4 371.50 299.2 371.05 297.6 370.60 297.9 Z" fill="#cc6762" fill-opacity="0.45" stroke="none"/>
<path d="M370.60 293.2 371.05 292.0 371.50 293.6 371.95 293.5 372.40 294.1 372.85 292.6 373.30 294.8 373.75 294.3 374.20 294.4 374.65 294.5 375.10 294.0 375.55 294.8 376.00 294.7 376.45 294.5 376.90 295.1 377.35 294.2 377.80 295.4 378.25 295.9 378.70 295.7 379.15 294.3 379.60 296.4 380.05 296.5 380.50 296.1 380.95 294.8 381.40 295.3 381.85 286.7 382.30 273.7 382.75 264.2 383.20 275.0 383.65 287.4 384.10 295.8 384.55 296.8 385.00 297.3 385.45 297.8 385.90 298.3 386.35 298.8 386.80 298.3 387.25 299.1 387.70 299.3 388.15 299.1 388.60 299.2 389.05 299.6 389.50 299.2 389.95 299.5 390.40 299.3 390.85 299.6 391.30 299.2 391.75 299.4 392.20 299.5 392.65 299.5 393.10 299.1 393.55 299.5 394.00 299.4 394.45 299.5 394.90 299.5 395.35 299.5 395.80 300.0 396.25 299.5 396.70 300.5 397.15 300.6 397.60 299.8 398.05 301.0 398.50 300.9 398.95 301.0 399.40 300.9 399.85 300.7 400.30 300.7 400.75 301.1 401.20 300.7 401.65 301.4 402.10 301.3 402.55 301.2 403.00 300.7 403.45 300.9 403.90 300.6 404.35 300.6 404.80 300.2 405.25 300.3 405.70 299.8 406.15 300.3 406.60 300.7 407.05 300.4 407.50 299.8 407.95 300.2 408.40 299.6 408.85 300.5 409.30 300.3 409.75 299.9 410.20 300.1 410.65 299.7 411.10 300.2 411.55 300.2 412.00 299.8 412.45 299.5 412.90 297.9 413.35 299.3 413.80 300.3 414.25 300.5 414.70 300.5 415.15 299.8 415.60 300.6 416.05 300.8 416.50 300.8 416.95 300.3 417.40 300.4 417.85 299.7 418.30 300.4 418.75 300.2 419.20 300.2 419.65 300.1 420.10 299.6 420.55 299.7 421.00 300.2 421.45 298.8 421.90 300.7 422.35 300.0 422.80 300.1 423.25 300.4 423.70 300.3 424.15 298.7 424.60 299.2 425.05 300.6 425.50 300.3 425.95 300.7 426.40 300.4 426.85 300.6 427.30 299.7 427.75 300.1 428.20 300.2 428.65 300.4 429.10 300.7 429.55 301.1 430.00 301.1 430.45 301.0 430.90 301.0 431.35 300.4 431.80 301.2 432.25 301.2 432.70 300.7 433.15 300.2 433.60 299.1 434.05 300.5 434.50 300.6 434.95 300.6 435.40 301.2 435.85 300.8 436.30 301.1 436.75 301.2 437.20 300.9 437.65 301.3 438.10 301.6 438.55 301.1 439.00 302.1 439.45 302.0 439.90 302.4 440.35 302.5 440.80 302.5 441.25 302.4 441.70 302.9 442.15 303.1 442.60 302.8 443.05 303.3 443.50 303.7 443.95 304.2 444.40 304.3 444.85 304.4 445.30 304.3 445.75 304.2 446.20 304.8 446.65 305.0 447.10 304.8 447.55 305.0 448.00 305.0 448.45 304.9 448.90 305.4 449.35 305.4 449.80 305.7 450.25 305.2 450.70 305.7 451.15 305.2 451.60 304.6 452.05 304.9 452.50 304.8 452.95 304.5 453.40 303.6 453.85 302.0 454.30 299.1 454.75 295.9 455.20 297.1 455.65 299.9 456.10 303.1 456.55 304.6 457.00 304.1 457.45 303.7 457.90 303.4 458.35 302.8 458.80 302.6 459.25 301.8 459.70 302.3 460.15 302.1 460.60 302.2 461.05 301.6 461.50 301.0 461.95 300.6 462.40 298.6 462.85 298.3 463.30 299.3 463.75 298.8 464.20 299.8 464.65 300.9 465.10 301.3 465.55 302.0 466.00 302.1 466.45 303.4 466.90 304.3 467.35 304.4 467.80 302.5 468.25 304.9 468.70 304.0 469.15 305.0 469.60 305.7 470.05 305.4 470.50 305.4 470.95 304.9 471.40 304.8 471.85 305.4 472.30 305.8 472.75 305.6 473.20 305.9 473.65 306.1 474.10 306.6 474.55 306.8 475.00 306.7 475.45 305.0 475.90 306.9 476.35 306.5 476.80 306.5 477.25 305.2 477.70 307.0 478.15 307.4 478.60 307.6 479.05 307.4 479.50 307.7 479.95 307.8 480.40 307.9 480.85 307.3 481.30 307.1 481.75 306.4 482.20 306.2 482.65 305.7 483.10 305.7 483.55 305.0 484.00 305.0 484.45 304.6 484.90 304.8 485.35 304.7 485.80 304.1 486.25 304.2 486.70 304.3 487.15 303.5 487.60 302.6 488.05 302.4 488.50 301.4 488.95 300.4 489.40 300.4 489.85 300.1 490.30 299.0 490.75 299.1 491.20 299.7 491.65 301.0 492.10 302.1 492.55 303.1 493.00 303.8 493.45 304.8 493.90 305.3 494.35 305.0 494.80 306.3 495.25 306.0 495.70 305.7 496.15 307.0 496.60 306.4 497.05 307.3 497.50 307.6 497.95 307.9 498.40 308.1 498.85 308.7 499.30 308.9 499.75 309.3 500.20 308.7 500.65 309.1 501.10 308.9 501.55 308.1 502.00 308.6 502.45 308.1 502.90 308.1 503.35 308.4 503.80 308.1 504.25 307.0 504.70 307.3 505.15 306.7 505.60 306.9 506.05 306.1 506.50 304.8 506.95 302.8 507.40 301.7 507.85 301.1 508.30 299.5 508.75 298.0 509.20 296.8 509.65 296.0 510.10 297.1 510.55 298.8 511.00 299.4 L511.00 303.9 510.55 301.7 510.10 300.2 509.65 299.4 509.20 299.5 508.75 300.8 508.30 302.3 507.85 304.3 507.40 304.7 506.95 306.6 506.50 307.9 506.05 309.1 505.60 309.7 505.15 310.0 504.70 310.3 504.25 311.0 503.80 310.6 503.35 311.2 502.90 311.0 502.45 311.0 502.00 312.8 501.55 311.3 501.10 311.5 500.65 311.8 500.20 311.7 499.75 311.9 499.30 311.8 498.85 311.3 498.40 311.2 497.95 310.7 497.50 311.0 497.05 310.1 496.60 309.9 496.15 311.2 495.70 309.4 495.25 310.3 494.80 309.1 494.35 309.8 493.90 308.5 493.45 307.8 493.00 307.0 492.55 306.5 492.10 304.6 491.65 303.5 491.20 302.8 490.75 301.7 490.30 302.6 489.85 302.6 489.40 303.8 488.95 304.1 488.50 304.7 488.05 307.0 487.60 305.9 487.15 306.5 486.70 307.2 486.25 307.4 485.80 307.2 485.35 307.7 484.90 307.9 484.45 307.5 484.00 308.0 483.55 308.0 483.10 308.3 482.65 309.1 482.20 309.6 481.75 309.4 481.30 310.1 480.85 310.0 480.40 310.6 479.95 310.7 479.50 310.5 479.05 310.6 478.60 310.6 478.15 310.3 477.70 310.1 477.25 309.5 476.80 309.9 476.35 309.6 475.90 309.6 475.45 309.6 475.00 309.6 474.55 309.8 474.10 309.4 473.65 309.4 473.20 309.2 472.75 308.4 472.30 308.5 471.85 308.6 471.40 308.1 470.95 307.9 470.50 308.0 470.05 308.5 469.60 308.4 469.15 308.3 468.70 307.7 468.25 307.8 467.80 307.4 467.35 307.0 466.90 307.4 466.45 305.9 466.00 305.3 465.55 304.5 465.10 304.3 464.65 303.6 464.20 303.0 463.75 302.5 463.30 302.5 462.85 302.9 462.40 302.9 461.95 303.6 461.50 304.1 461.05 304.4 460.60 304.9 460.15 304.9 459.70 305.3 459.25 305.6 458.80 306.0 458.35 306.2 457.90 306.4 457.45 307.1 457.00 307.0 456.55 307.3 456.10 306.3 455.65 302.8 455.20 300.1 454.75 299.6 454.30 301.8 453.85 304.7 453.40 307.3 452.95 307.7 452.50 307.9 452.05 308.8 451.60 308.1 451.15 308.0 450.70 308.4 450.25 308.9 449.80 308.8 449.35 309.0 448.90 308.5 448.45 308.4 448.00 308.1 447.55 307.7 447.10 307.9 446.65 307.9 446.20 308.1 445.75 307.7 445.30 307.9 444.85 307.0 444.40 308.8 443.95 307.4 443.50 306.3 443.05 306.4 442.60 305.6 442.15 306.0 441.70 305.7 441.25 306.2 440.80 305.5 440.35 305.1 439.90 304.9 439.45 305.0 439.00 304.9 438.55 304.6 438.10 304.7 437.65 306.4 437.20 304.3 436.75 304.7 436.30 304.1 435.85 303.8 435.40 304.1 434.95 303.7 434.50 303.6 434.05 305.2 433.60 303.6 433.15 303.5 432.70 303.5 432.25 303.9 431.80 304.3 431.35 303.6 430.90 305.4 430.45 304.3 430.00 304.1 429.55 304.0 429.10 304.1 428.65 303.4 428.20 303.4 427.75 303.4 427.30 303.2 426.85 303.6 426.40 303.6 425.95 303.8 425.50 303.5 425.05 303.3 424.60 304.0 424.15 303.3 423.70 303.1 423.25 303.0 422.80 303.3 422.35 303.4 421.90 304.6 421.45 303.4 421.00 303.2 420.55 303.2 420.10 303.1 419.65 303.0 419.20 303.2 418.75 303.1 418.30 303.1 417.85 305.0 417.40 303.6 416.95 303.6 416.50 303.7 416.05 303.4 415.60 303.2 415.15 302.9 414.70 303.2 414.25 303.7 413.80 303.1 413.35 302.9 412.90 302.7 412.45 302.6 412.00 302.6 411.55 303.2 411.10 302.8 410.65 303.0 410.20 303.0 409.75 305.0 409.30 303.3 408.85 304.0 408.40 303.0 407.95 303.2 407.50 302.7 407.05 303.0 406.60 303.2 406.15 303.2 405.70 303.1 405.25 303.2 404.80 303.1 404.35 303.9 403.90 303.8 403.45 303.8 403.00 303.8 402.55 303.7 402.10 304.1 401.65 304.0 401.20 304.6 400.75 304.0 400.30 304.1 399.85 303.8 399.40 304.6 398.95 303.9 398.50 303.8 398.05 304.0 397.60 303.7 397.15 303.8 396.70 303.4 396.25 304.8 395.80 302.9 395.35 302.8 394.90 302.7 394.45 302.7 394.00 302.3 393.55 302.3 393.10 302.4 392.65 302.5 392.20 302.8 391.75 302.4 391.30 302.0 390.85 302.0 390.40 302.0 389.95 302.7 389.50 302.5 389.05 302.7 388.60 302.7 388.15 302.0 387.70 301.9 387.25 302.1 386.80 301.3 386.35 301.7 385.90 301.1 385.45 300.5 385.00 300.2 384.55 300.2 384.10 299.0 383.65 290.7 383.20 277.8 382.75 267.6 382.30 276.5 381.85 290.8 381.40 297.7 380.95 298.5 380.50 299.0 380.05 299.4 379.60 299.9 379.15 298.8 378.70 298.6 378.25 298.9 377.80 298.4 377.35 298.2 376.90 298.5 376.45 298.4 376.00 297.9 375.55 298.2 375.10 297.4 374.65 299.2 374.20 297.7 373.75 297.3 373.30 297.4 372.85 296.8 372.40 296.9 371.95 296.6 371.50 296.5 371.05 296.1 370.60 296.5 Z" fill="#cc6762" stroke="#cc6762" stroke-width="0.5" stroke-linejoin="round"/>
</g>
<line x1="395.5" y1="313" x2="395.5" y2="317.2" stroke="#6f93c4" stroke-width="0.7" />
<line x1="457" y1="313" x2="457" y2="317.2" stroke="#6f93c4" stroke-width="0.7" />
<line x1="473.2" y1="313" x2="473.2" y2="317.2" stroke="#6f93c4" stroke-width="0.7" />
<line x1="477.4" y1="313" x2="477.4" y2="317.2" stroke="#6f93c4" stroke-width="0.7" />
<line x1="487.1" y1="313" x2="487.1" y2="317.2" stroke="#6f93c4" stroke-width="0.7" />
<line x1="502.1" y1="313" x2="502.1" y2="317.2" stroke="#6f93c4" stroke-width="0.7" />
<line x1="390.5" y1="318.2" x2="390.5" y2="322" stroke="#6f93c4" stroke-width="0.7" />
<line x1="447.4" y1="318.2" x2="447.4" y2="322" stroke="#6f93c4" stroke-width="0.7" />
<line x1="464.6" y1="318.2" x2="464.6" y2="322" stroke="#6f93c4" stroke-width="0.7" />
<line x1="467.1" y1="318.2" x2="467.1" y2="322" stroke="#6f93c4" stroke-width="0.7" />
<line x1="476.4" y1="318.2" x2="476.4" y2="322" stroke="#6f93c4" stroke-width="0.7" />
<line x1="489.9" y1="318.2" x2="489.9" y2="322" stroke="#6f93c4" stroke-width="0.7" />
<line x1="506.4" y1="318.2" x2="506.4" y2="322" stroke="#6f93c4" stroke-width="0.7" />
<line x1="508.6" y1="318.2" x2="508.6" y2="322" stroke="#6f93c4" stroke-width="0.7" />
<rect x="370" y="180.2" width="142" height="141.8" fill="none" stroke="#1a1a1a" stroke-width="1.3"/>
<line x1="378.88" y1="322" x2="378.88" y2="324.6" stroke="#1a1a1a" stroke-width="1" />
<line x1="423.25" y1="322" x2="423.25" y2="324.6" stroke="#1a1a1a" stroke-width="1" />
<line x1="467.62" y1="322" x2="467.62" y2="324.6" stroke="#1a1a1a" stroke-width="1" />
<line x1="512" y1="322" x2="512" y2="324.6" stroke="#1a1a1a" stroke-width="1" />
<line x1="401.06" y1="322" x2="401.06" y2="323.6" stroke="#1a1a1a" stroke-width="1" />
<line x1="445.44" y1="322" x2="445.44" y2="323.6" stroke="#1a1a1a" stroke-width="1" />
<line x1="489.81" y1="322" x2="489.81" y2="323.6" stroke="#1a1a1a" stroke-width="1" />
<text x="378.88" y="335.4" font-size="10" fill="#1a1a1a" text-anchor="middle" >10</text>
<text x="423.25" y="335.4" font-size="10" fill="#1a1a1a" text-anchor="middle" >20</text>
<text x="467.62" y="335.4" font-size="10" fill="#1a1a1a" text-anchor="middle" >30</text>
<text x="512" y="335.4" font-size="10" fill="#1a1a1a" text-anchor="middle" >40</text>
<text x="441" y="347.4" font-size="12" fill="#1a1a1a" text-anchor="middle">2<tspan font-style="italic">&#952;</tspan> / Degree</text>
<text x="363" y="248.2" font-size="12" fill="#1a1a1a" text-anchor="middle" transform="rotate(-90 363 248.2)">Intensity / a.u.</text>
<text x="519.5" y="188" font-size="14" fill="#1a1a1a" text-anchor="start" >h</text>
<g clip-path="url(#clh)">
<path d="M537.60 232.9 538.05 232.6 538.50 233.0 538.95 232.5 539.40 233.7 539.85 232.6 540.30 232.8 540.75 233.4 541.20 233.3 541.65 233.8 542.10 233.1 542.55 233.6 543.00 234.0 543.45 233.2 543.90 230.9 544.35 233.7 544.80 233.1 545.25 233.5 545.70 231.5 546.15 233.8 546.60 231.3 547.05 233.1 547.50 233.6 547.95 233.1 548.40 232.8 548.85 232.6 549.30 232.7 549.75 232.9 550.20 233.1 550.65 232.7 551.10 233.4 551.55 232.5 552.00 233.7 552.45 233.1 552.90 232.4 553.35 233.3 553.80 233.0 554.25 232.5 554.70 233.1 555.15 233.1 555.60 232.8 556.05 232.3 556.50 231.5 556.95 232.6 557.40 230.9 557.85 232.1 558.30 231.7 558.75 231.3 559.20 230.2 559.65 227.7 560.10 224.3 560.55 223.7 561.00 205.9 561.45 187.7 561.90 172.3 562.35 172.4 562.80 170.5 563.25 183.2 563.70 202.1 564.15 220.2 564.60 224.7 565.05 226.4 565.50 229.0 565.95 231.3 566.40 230.9 566.85 228.7 567.30 231.2 567.75 231.4 568.20 230.7 568.65 231.7 569.10 231.6 569.55 231.5 570.00 232.2 570.45 232.3 570.90 232.2 571.35 232.6 571.80 231.8 572.25 232.0 572.70 229.7 573.15 231.9 573.60 231.7 574.05 231.3 574.50 231.0 574.95 231.5 575.40 231.0 575.85 231.2 576.30 229.9 576.75 230.4 577.20 230.4 577.65 228.7 578.10 230.4 578.55 229.3 579.00 231.0 579.45 231.2 579.90 230.3 580.35 230.9 580.80 230.7 581.25 230.2 581.70 230.7 582.15 230.9 582.60 229.6 583.05 231.0 583.50 228.6 583.95 230.9 584.40 230.3 584.85 230.4 585.30 229.5 585.75 230.4 586.20 231.2 586.65 230.8 587.10 229.4 587.55 230.1 588.00 230.1 588.45 228.1 588.90 230.2 589.35 229.8 589.80 230.3 590.25 229.8 590.70 230.7 591.15 230.6 591.60 230.3 592.05 229.7 592.50 229.9 592.95 229.7 593.40 229.6 593.85 229.7 594.30 229.7 594.75 229.4 595.20 229.7 595.65 230.0 596.10 230.0 596.55 229.2 597.00 230.0 597.45 230.4 597.90 231.1 598.35 230.9 598.80 231.4 599.25 231.5 599.70 230.9 600.15 230.8 600.60 231.2 601.05 230.9 601.50 229.7 601.95 231.1 602.40 228.5 602.85 231.9 603.30 231.2 603.75 231.5 604.20 232.1 604.65 231.9 605.10 232.5 605.55 233.0 606.00 230.7 606.45 232.5 606.90 232.6 607.35 232.9 607.80 232.4 608.25 230.1 608.70 232.2 609.15 232.0 609.60 231.4 610.05 232.4 610.50 232.7 610.95 232.3 611.40 233.3 611.85 233.7 612.30 232.6 612.75 233.0 613.20 233.6 613.65 234.2 614.10 234.1 614.55 233.7 615.00 233.8 615.45 234.3 615.90 234.0 616.35 234.1 616.80 235.0 617.25 233.9 617.70 235.2 618.15 235.5 618.60 235.1 619.05 235.9 619.50 235.2 619.95 235.1 620.40 235.5 620.85 235.2 621.30 232.8 621.75 234.4 622.20 234.4 622.65 233.8 623.10 234.0 623.55 234.8 624.00 234.9 624.45 235.2 624.90 235.5 625.35 235.6 625.80 235.6 626.25 235.6 626.70 235.9 627.15 235.1 627.60 235.4 628.05 235.7 628.50 236.0 628.95 234.7 629.40 236.3 629.85 236.3 630.30 236.0 630.75 234.1 631.20 236.6 631.65 236.4 632.10 235.4 632.55 235.7 633.00 236.3 633.45 236.2 633.90 236.1 634.35 235.6 634.80 236.0 635.25 235.9 635.70 236.5 636.15 235.6 636.60 235.2 637.05 236.3 637.50 235.9 637.95 235.6 638.40 235.1 638.85 233.9 639.30 233.6 639.75 232.8 640.20 230.0 640.65 227.9 641.10 227.2 641.55 230.4 642.00 232.4 642.45 233.3 642.90 233.7 643.35 234.2 643.80 233.9 644.25 233.6 644.70 234.7 645.15 234.7 645.60 235.3 646.05 232.9 646.50 236.1 646.95 234.6 647.40 236.6 647.85 236.8 648.30 236.3 648.75 234.6 649.20 236.3 649.65 236.9 650.10 236.6 650.55 236.9 651.00 236.8 651.45 236.7 651.90 236.3 652.35 236.3 652.80 235.6 653.25 236.3 653.70 236.5 654.15 235.2 654.60 235.9 655.05 235.5 655.50 235.4 655.95 235.4 656.40 235.4 656.85 234.8 657.30 234.1 657.75 234.5 658.20 234.8 658.65 235.0 659.10 234.7 659.55 234.7 660.00 233.9 660.45 233.7 660.90 234.0 661.35 233.4 661.80 232.9 662.25 232.4 662.70 232.6 663.15 233.6 663.60 233.1 664.05 232.1 664.50 232.8 664.95 231.4 665.40 230.0 665.85 231.1 666.30 230.5 666.75 229.7 667.20 227.3 667.65 229.3 668.10 228.4 668.55 229.1 669.00 228.6 669.45 228.5 669.90 227.6 670.35 228.5 670.80 229.4 671.25 228.7 671.70 229.9 672.15 230.0 672.60 231.3 673.05 232.0 673.50 232.4 673.95 233.3 674.40 233.2 674.85 233.0 675.30 234.2 675.75 233.9 676.20 234.3 676.65 235.2 677.10 233.4 677.55 235.5 678.00 234.2 L678.00 242.2 677.55 241.9 677.10 243.1 676.65 241.1 676.20 239.7 675.75 240.0 675.30 239.8 674.85 239.4 674.40 239.6 673.95 238.5 673.50 237.6 673.05 237.5 672.60 237.9 672.15 236.4 671.70 236.3 671.25 235.0 670.80 235.5 670.35 234.3 669.90 234.3 669.45 235.0 669.00 234.1 668.55 235.0 668.10 234.8 667.65 235.7 667.20 236.0 666.75 236.1 666.30 235.9 665.85 238.3 665.40 237.1 664.95 238.0 664.50 238.1 664.05 238.4 663.60 239.1 663.15 239.0 662.70 238.9 662.25 239.3 661.80 238.6 661.35 238.8 660.90 239.9 660.45 240.7 660.00 240.2 659.55 240.4 659.10 240.4 658.65 240.6 658.20 243.0 657.75 240.2 657.30 240.2 656.85 240.2 656.40 240.7 655.95 241.0 655.50 241.6 655.05 241.2 654.60 241.3 654.15 241.7 653.70 242.3 653.25 241.9 652.80 242.3 652.35 242.0 651.90 242.3 651.45 242.6 651.00 242.5 650.55 242.7 650.10 242.5 649.65 242.4 649.20 243.0 648.75 245.1 648.30 244.6 647.85 241.9 647.40 242.0 646.95 241.6 646.50 243.1 646.05 241.5 645.60 241.3 645.15 243.2 644.70 241.4 644.25 243.1 643.80 240.3 643.35 240.0 642.90 240.1 642.45 239.3 642.00 238.9 641.55 237.5 641.10 236.0 640.65 233.8 640.20 236.1 639.75 238.9 639.30 239.2 638.85 240.5 638.40 240.3 637.95 241.3 637.50 241.4 637.05 241.8 636.60 241.7 636.15 242.5 635.70 241.8 635.25 242.9 634.80 242.4 634.35 244.3 633.90 241.6 633.45 241.7 633.00 242.6 632.55 241.8 632.10 241.6 631.65 241.7 631.20 241.7 630.75 246.1 630.30 241.3 629.85 241.8 629.40 241.6 628.95 242.0 628.50 241.8 628.05 242.1 627.60 242.1 627.15 241.6 626.70 241.5 626.25 242.2 625.80 241.1 625.35 241.3 624.90 241.2 624.45 241.6 624.00 242.3 623.55 241.4 623.10 241.0 622.65 241.0 622.20 240.8 621.75 241.9 621.30 241.4 620.85 240.9 620.40 244.8 619.95 241.1 619.50 241.2 619.05 242.2 618.60 241.5 618.15 241.9 617.70 240.7 617.25 240.6 616.80 240.4 616.35 240.6 615.90 240.3 615.45 241.0 615.00 241.0 614.55 239.8 614.10 240.0 613.65 239.6 613.20 239.8 612.75 239.7 612.30 239.1 611.85 238.8 611.40 239.5 610.95 239.3 610.50 240.6 610.05 238.2 609.60 238.8 609.15 240.1 608.70 238.8 608.25 238.2 607.80 238.6 607.35 238.7 606.90 238.6 606.45 238.5 606.00 238.2 605.55 238.8 605.10 237.9 604.65 238.7 604.20 238.7 603.75 237.3 603.30 239.3 602.85 237.3 602.40 236.9 601.95 237.2 601.50 237.1 601.05 237.0 600.60 236.9 600.15 237.0 599.70 236.6 599.25 237.3 598.80 237.0 598.35 236.9 597.90 237.0 597.45 236.2 597.00 236.0 596.55 235.8 596.10 235.8 595.65 235.7 595.20 236.9 594.75 235.3 594.30 235.7 593.85 236.2 593.40 235.8 592.95 235.7 592.50 236.4 592.05 236.5 591.60 236.8 591.15 238.5 590.70 237.1 590.25 236.3 589.80 236.1 589.35 237.8 588.90 236.3 588.45 236.8 588.00 236.3 587.55 236.1 587.10 236.7 586.65 236.6 586.20 237.1 585.75 236.4 585.30 236.6 584.85 236.5 584.40 236.0 583.95 236.4 583.50 238.3 583.05 236.1 582.60 236.4 582.15 236.7 581.70 236.8 581.25 237.4 580.80 236.8 580.35 236.4 579.90 236.9 579.45 236.7 579.00 239.2 578.55 237.5 578.10 237.3 577.65 236.7 577.20 236.5 576.75 236.6 576.30 237.2 575.85 236.6 575.40 236.7 574.95 237.4 574.50 237.3 574.05 237.7 573.60 237.7 573.15 238.0 572.70 237.6 572.25 237.9 571.80 239.3 571.35 237.9 570.90 238.0 570.45 237.7 570.00 237.5 569.55 237.1 569.10 237.1 568.65 237.6 568.20 236.7 567.75 236.9 567.30 236.8 566.85 237.0 566.40 237.2 565.95 237.0 565.50 234.5 565.05 232.9 564.60 230.3 564.15 226.4 563.70 207.5 563.25 191.0 562.80 179.3 562.35 179.3 561.90 178.4 561.45 195.8 561.00 212.0 560.55 230.0 560.10 231.4 559.65 233.4 559.20 236.4 558.75 237.3 558.30 237.3 557.85 237.6 557.40 237.4 556.95 238.8 556.50 238.3 556.05 238.9 555.60 238.8 555.15 240.4 554.70 239.6 554.25 238.5 553.80 238.5 553.35 238.6 552.90 238.7 552.45 238.9 552.00 240.2 551.55 241.3 551.10 238.9 550.65 239.6 550.20 238.8 549.75 238.3 549.30 239.7 548.85 238.2 548.40 238.7 547.95 239.0 547.50 238.7 547.05 238.9 546.60 239.7 546.15 239.4 545.70 239.6 545.25 239.0 544.80 239.2 544.35 239.1 543.90 241.3 543.45 239.3 543.00 240.4 542.55 239.5 542.10 239.8 541.65 240.1 541.20 239.3 540.75 239.5 540.30 239.0 539.85 239.0 539.40 239.4 538.95 239.0 538.50 239.7 538.05 238.5 537.60 239.2 Z" fill="#5280ba" fill-opacity="0.45" stroke="none"/>
<path d="M537.60 234.4 538.05 234.3 538.50 234.3 538.95 234.8 539.40 234.8 539.85 234.5 540.30 233.9 540.75 234.8 541.20 234.8 541.65 234.9 542.10 234.6 542.55 235.1 543.00 234.8 543.45 234.8 543.90 235.1 544.35 234.9 544.80 234.9 545.25 234.5 545.70 234.5 546.15 234.8 546.60 235.2 547.05 234.7 547.50 233.7 547.95 234.0 548.40 234.2 548.85 233.7 549.30 234.2 549.75 234.4 550.20 234.5 550.65 234.6 551.10 234.5 551.55 234.9 552.00 232.9 552.45 234.0 552.90 233.8 553.35 234.2 553.80 232.5 554.25 234.4 554.70 234.4 555.15 234.2 555.60 233.6 556.05 233.7 556.50 233.9 556.95 233.0 557.40 232.7 557.85 233.1 558.30 233.2 558.75 233.0 559.20 231.3 559.65 228.9 560.10 226.7 560.55 224.9 561.00 207.6 561.45 188.9 561.90 174.2 562.35 174.0 562.80 174.5 563.25 184.0 563.70 203.1 564.15 222.1 564.60 225.5 565.05 228.3 565.50 229.6 565.95 232.4 566.40 232.6 566.85 231.9 567.30 232.6 567.75 232.7 568.20 231.8 568.65 232.9 569.10 232.4 569.55 232.4 570.00 233.0 570.45 233.6 570.90 232.7 571.35 233.5 571.80 233.2 572.25 233.5 572.70 233.1 573.15 232.8 573.60 233.1 574.05 232.3 574.50 232.9 574.95 233.1 575.40 232.5 575.85 232.2 576.30 232.3 576.75 232.2 577.20 231.9 577.65 231.7 578.10 231.3 578.55 230.3 579.00 230.4 579.45 232.5 579.90 232.0 580.35 232.2 580.80 232.6 581.25 231.8 581.70 232.1 582.15 232.0 582.60 231.9 583.05 231.5 583.50 231.8 583.95 231.9 584.40 230.8 584.85 232.1 585.30 232.0 585.75 232.4 586.20 230.6 586.65 232.1 587.10 230.6 587.55 231.9 588.00 232.0 588.45 232.0 588.90 231.7 589.35 231.1 589.80 231.2 590.25 231.8 590.70 231.8 591.15 231.2 591.60 231.5 592.05 231.5 592.50 231.2 592.95 230.3 593.40 231.1 593.85 230.7 594.30 231.1 594.75 231.1 595.20 230.9 595.65 231.0 596.10 230.7 596.55 231.6 597.00 230.3 597.45 231.8 597.90 232.0 598.35 232.2 598.80 232.6 599.25 232.8 599.70 232.1 600.15 232.5 600.60 231.6 601.05 232.8 601.50 232.5 601.95 232.4 602.40 232.8 602.85 233.1 603.30 233.0 603.75 233.3 604.20 233.4 604.65 233.3 605.10 233.5 605.55 233.8 606.00 234.0 606.45 232.7 606.90 234.4 607.35 234.0 607.80 234.3 608.25 233.9 608.70 234.0 609.15 232.9 609.60 234.2 610.05 234.1 610.50 234.2 610.95 234.7 611.40 234.1 611.85 234.9 612.30 234.7 612.75 234.4 613.20 235.2 613.65 235.5 614.10 235.5 614.55 235.8 615.00 235.4 615.45 236.0 615.90 235.8 616.35 236.2 616.80 236.1 617.25 236.3 617.70 236.4 618.15 236.7 618.60 236.9 619.05 236.5 619.50 237.0 619.95 237.0 620.40 236.7 620.85 236.8 621.30 236.9 621.75 236.6 622.20 236.4 622.65 236.8 623.10 236.5 623.55 235.0 624.00 236.8 624.45 237.1 624.90 236.5 625.35 237.0 625.80 237.1 626.25 237.0 626.70 236.9 627.15 237.4 627.60 237.0 628.05 236.7 628.50 236.2 628.95 237.1 629.40 237.0 629.85 237.1 630.30 237.0 630.75 237.4 631.20 237.0 631.65 237.4 632.10 237.4 632.55 237.5 633.00 236.6 633.45 237.3 633.90 236.2 634.35 237.2 634.80 237.3 635.25 237.3 635.70 237.7 636.15 237.6 636.60 237.3 637.05 237.0 637.50 237.0 637.95 236.8 638.40 235.4 638.85 235.5 639.30 235.2 639.75 232.2 640.20 231.3 640.65 229.0 641.10 231.1 641.55 232.8 642.00 234.0 642.45 234.5 642.90 234.8 643.35 235.1 643.80 235.7 644.25 235.6 644.70 235.8 645.15 236.6 645.60 236.8 646.05 237.0 646.50 237.2 646.95 236.1 647.40 237.9 647.85 237.4 648.30 237.8 648.75 238.2 649.20 238.3 649.65 238.2 650.10 238.1 650.55 238.1 651.00 238.0 651.45 238.1 651.90 237.7 652.35 237.3 652.80 237.6 653.25 237.1 653.70 237.5 654.15 237.8 654.60 235.4 655.05 236.8 655.50 236.7 655.95 236.5 656.40 236.5 656.85 236.2 657.30 235.9 657.75 236.1 658.20 236.0 658.65 236.1 659.10 236.0 659.55 235.9 660.00 235.8 660.45 235.0 660.90 234.9 661.35 234.4 661.80 233.9 662.25 234.6 662.70 234.5 663.15 234.9 663.60 234.2 664.05 232.5 664.50 233.9 664.95 233.3 665.40 232.6 665.85 232.3 666.30 232.0 666.75 231.7 667.20 231.2 667.65 229.5 668.10 230.5 668.55 229.8 669.00 229.5 669.45 229.5 669.90 229.7 670.35 230.1 670.80 230.4 671.25 230.7 671.70 231.2 672.15 232.0 672.60 232.5 673.05 232.8 673.50 233.5 673.95 234.5 674.40 234.7 674.85 235.1 675.30 235.5 675.75 235.2 676.20 235.6 676.65 236.5 677.10 236.5 677.55 237.5 678.00 237.6 L678.00 240.9 677.55 240.9 677.10 241.1 676.65 239.2 676.20 239.1 675.75 238.7 675.30 239.1 674.85 237.9 674.40 237.7 673.95 237.5 673.50 236.6 673.05 236.3 672.60 235.4 672.15 234.8 671.70 234.9 671.25 233.6 670.80 234.3 670.35 233.0 669.90 232.6 669.45 232.8 669.00 234.0 668.55 233.4 668.10 234.1 667.65 233.9 667.20 236.0 666.75 234.8 666.30 235.1 665.85 235.7 665.40 235.9 664.95 236.5 664.50 236.8 664.05 236.9 663.60 237.3 663.15 237.6 662.70 237.7 662.25 237.4 661.80 238.0 661.35 237.7 660.90 238.3 660.45 239.2 660.00 239.1 659.55 238.7 659.10 239.0 658.65 239.2 658.20 239.4 657.75 239.9 657.30 239.3 656.85 239.0 656.40 239.5 655.95 240.2 655.50 239.6 655.05 240.3 654.60 240.3 654.15 240.6 653.70 241.2 653.25 240.8 652.80 241.0 652.35 240.7 651.90 240.8 651.45 241.6 651.00 241.3 650.55 240.9 650.10 241.2 649.65 241.0 649.20 241.0 648.75 241.4 648.30 241.0 647.85 241.2 647.40 241.5 646.95 240.9 646.50 240.1 646.05 240.9 645.60 240.0 645.15 239.8 644.70 239.3 644.25 238.8 643.80 238.8 643.35 238.8 642.90 238.5 642.45 237.8 642.00 237.3 641.55 237.1 641.10 234.2 640.65 232.7 640.20 235.6 639.75 237.0 639.30 238.0 638.85 238.4 638.40 240.6 637.95 241.7 637.50 240.3 637.05 241.2 636.60 240.3 636.15 241.4 635.70 241.1 635.25 241.2 634.80 240.3 634.35 240.5 633.90 240.5 633.45 241.0 633.00 240.6 632.55 242.5 632.10 240.5 631.65 240.8 631.20 240.6 630.75 240.4 630.30 241.0 629.85 240.4 629.40 240.3 628.95 240.1 628.50 240.4 628.05 240.0 627.60 240.5 627.15 240.3 626.70 240.9 626.25 240.2 625.80 240.1 625.35 239.9 624.90 240.1 624.45 239.7 624.00 240.5 623.55 239.6 623.10 239.4 622.65 239.7 622.20 239.5 621.75 239.9 621.30 240.0 620.85 239.8 620.40 240.0 619.95 240.2 619.50 240.1 619.05 241.8 618.60 239.7 618.15 240.1 617.70 239.2 617.25 239.5 616.80 239.6 616.35 239.4 615.90 238.7 615.45 238.9 615.00 238.7 614.55 239.0 614.10 238.9 613.65 238.8 613.20 238.3 612.75 238.1 612.30 237.9 611.85 238.0 611.40 238.2 610.95 237.7 610.50 238.2 610.05 237.0 609.60 237.1 609.15 236.9 608.70 236.9 608.25 237.0 607.80 236.9 607.35 237.0 606.90 237.8 606.45 237.1 606.00 237.1 605.55 236.9 605.10 236.8 604.65 237.0 604.20 236.3 603.75 236.4 603.30 236.5 602.85 236.6 602.40 235.7 601.95 235.5 601.50 235.4 601.05 235.5 600.60 235.7 600.15 235.9 599.70 236.3 599.25 235.7 598.80 236.0 598.35 235.5 597.90 235.9 597.45 235.5 597.00 235.6 596.55 234.6 596.10 234.3 595.65 234.2 595.20 234.3 594.75 234.1 594.30 234.2 593.85 234.0 593.40 234.0 592.95 234.8 592.50 235.1 592.05 234.2 591.60 234.3 591.15 236.3 590.70 234.8 590.25 234.8 589.80 234.5 589.35 234.7 588.90 234.5 588.45 234.8 588.00 234.9 587.55 234.7 587.10 235.1 586.65 235.0 586.20 235.4 585.75 235.2 585.30 235.0 584.85 235.0 584.40 234.8 583.95 235.2 583.50 235.6 583.05 235.2 582.60 235.5 582.15 235.5 581.70 235.2 581.25 237.2 580.80 235.7 580.35 235.3 579.90 235.1 579.45 237.3 579.00 235.9 578.55 235.8 578.10 235.6 577.65 235.2 577.20 235.1 576.75 235.4 576.30 235.3 575.85 236.4 575.40 235.4 574.95 235.8 574.50 235.8 574.05 236.6 573.60 236.1 573.15 236.3 572.70 236.7 572.25 237.3 571.80 236.8 571.35 236.4 570.90 236.8 570.45 236.9 570.00 236.8 569.55 236.0 569.10 235.8 568.65 235.7 568.20 235.6 567.75 235.7 567.30 236.2 566.85 235.8 566.40 235.3 565.95 235.5 565.50 233.5 565.05 230.9 564.60 228.9 564.15 226.0 563.70 206.5 563.25 187.8 562.80 177.3 562.35 177.1 561.90 177.1 561.45 191.8 561.00 210.9 560.55 227.5 560.10 229.8 559.65 232.2 559.20 234.5 558.75 236.2 558.30 236.1 557.85 236.1 557.40 237.5 556.95 236.8 556.50 236.9 556.05 237.0 555.60 236.7 555.15 237.0 554.70 237.5 554.25 237.5 553.80 237.6 553.35 237.4 552.90 237.4 552.45 237.4 552.00 238.0 551.55 237.8 551.10 237.8 550.65 237.5 550.20 237.8 549.75 237.7 549.30 237.3 548.85 237.5 548.40 237.4 547.95 237.7 547.50 237.6 547.05 237.6 546.60 238.3 546.15 238.1 545.70 238.2 545.25 237.9 544.80 238.0 544.35 237.8 543.90 237.9 543.45 238.0 543.00 239.2 542.55 238.0 542.10 237.9 541.65 238.1 541.20 237.9 540.75 237.7 540.30 237.5 539.85 237.8 539.40 238.0 538.95 237.5 538.50 237.9 538.05 237.3 537.60 237.6 Z" fill="#5280ba" stroke="#5280ba" stroke-width="0.5" stroke-linejoin="round"/>
</g>
<text x="540.4" y="190.5" font-size="9.5" fill="#5a82ba" text-anchor="start" >MoW-Se</text>
<text transform="translate(675 190.5) scale(0.9 1)" x="0" y="0" font-size="8.9" fill="#6f90c0" text-anchor="end" >97-064-4334</text>
<text transform="translate(675 200.6) scale(0.9 1)" x="0" y="0" font-size="8.9" fill="#6f90c0" text-anchor="end" >2<tspan font-style="italic">H</tspan>-MoSe<tspan font-size="6" dy="1.8">2</tspan></text>
<text transform="translate(675 212) scale(0.9 1)" x="0" y="0" font-size="8.9" fill="#5a80b8" text-anchor="end" >97-004-0752</text>
<text transform="translate(675 221.7) scale(0.9 1)" x="0" y="0" font-size="8.9" fill="#5a80b8" text-anchor="end" >2<tspan font-style="italic">H</tspan>-MoTe<tspan font-size="6" dy="1.8">2</tspan></text>
<line x1="562.5" y1="241.5" x2="562.5" y2="251" stroke="#6f93c4" stroke-width="0.9" stroke-dasharray="2.2 1.2"/>
<line x1="623.6" y1="241.5" x2="623.6" y2="251" stroke="#c9d6e8" stroke-width="0.9" stroke-dasharray="2.2 1.2"/>
<line x1="640.4" y1="241.5" x2="640.4" y2="251" stroke="#6f93c4" stroke-width="0.9" stroke-dasharray="2.2 1.2"/>
<line x1="644.4" y1="241.5" x2="644.4" y2="251" stroke="#a3bbdb" stroke-width="0.9" stroke-dasharray="2.2 1.2"/>
<line x1="654.2" y1="241.5" x2="654.2" y2="251" stroke="#a3bbdb" stroke-width="0.9" stroke-dasharray="2.2 1.2"/>
<line x1="669.5" y1="241.5" x2="669.5" y2="251" stroke="#6f93c4" stroke-width="0.9" stroke-dasharray="2.2 1.2"/>
<text x="540.4" y="263.6" font-size="9.5" fill="#c9665f" text-anchor="start" >K-MoW-Se</text>
<text x="546" y="277.5" font-size="7" fill="#1a1a1a" text-anchor="middle" >1<tspan font-style="italic">T</tspan></text>
<text x="546" y="285" font-size="7" fill="#1a1a1a" text-anchor="middle" >(002)</text>
<line x1="549.6" y1="286.5" x2="550.9" y2="299" stroke="#1a1a1a" stroke-width="0.6" />
<path d="M549.5 298.5 L552.3 298.2 L551.2 302 Z" fill="#1a1a1a"/>
<g clip-path="url(#clh)">
<path d="M537.60 304.9 538.05 305.2 538.50 304.6 538.95 305.2 539.40 304.8 539.85 304.4 540.30 304.3 540.75 305.2 541.20 305.5 541.65 305.4 542.10 305.6 542.55 305.3 543.00 305.1 543.45 304.6 543.90 305.1 544.35 304.9 544.80 305.0 545.25 304.9 545.70 304.8 546.15 304.8 546.60 305.4 547.05 304.9 547.50 305.1 547.95 304.2 548.40 305.1 548.85 304.0 549.30 304.3 549.75 304.2 550.20 304.1 550.65 303.5 551.10 303.0 551.55 303.2 552.00 303.8 552.45 303.4 552.90 304.5 553.35 305.0 553.80 304.8 554.25 304.3 554.70 303.9 555.15 305.6 555.60 304.9 556.05 304.4 556.50 305.3 556.95 305.4 557.40 305.4 557.85 305.0 558.30 304.4 558.75 301.8 559.20 304.4 559.65 301.7 560.10 295.2 560.55 289.3 561.00 266.6 561.45 245.3 561.90 244.8 562.35 248.0 562.80 268.7 563.25 288.0 563.70 294.2 564.15 299.4 564.60 304.5 565.05 304.6 565.50 304.5 565.95 304.9 566.40 304.4 566.85 305.2 567.30 304.6 567.75 305.4 568.20 305.1 568.65 305.6 569.10 306.0 569.55 303.8 570.00 305.8 570.45 305.8 570.90 303.3 571.35 305.8 571.80 304.7 572.25 302.2 572.70 305.4 573.15 304.8 573.60 304.0 574.05 305.0 574.50 304.0 574.95 304.8 575.40 304.3 575.85 304.6 576.30 304.6 576.75 304.7 577.20 304.6 577.65 304.0 578.10 303.4 578.55 303.2 579.00 302.9 579.45 302.0 579.90 302.1 580.35 301.3 580.80 300.0 581.25 301.2 581.70 300.9 582.15 300.1 582.60 300.8 583.05 300.8 583.50 297.9 583.95 300.2 584.40 299.5 584.85 299.5 585.30 299.3 585.75 299.6 586.20 299.0 586.65 299.2 587.10 297.7 587.55 298.9 588.00 298.3 588.45 297.7 588.90 298.4 589.35 298.3 589.80 298.4 590.25 296.1 590.70 297.8 591.15 297.5 591.60 297.6 592.05 297.1 592.50 295.1 592.95 296.5 593.40 296.5 593.85 294.9 594.30 296.4 594.75 294.3 595.20 296.3 595.65 296.6 596.10 296.4 596.55 296.1 597.00 293.8 597.45 294.5 597.90 296.7 598.35 296.2 598.80 296.4 599.25 295.2 599.70 294.9 600.15 297.3 600.60 297.6 601.05 294.4 601.50 297.5 601.95 298.3 602.40 298.0 602.85 297.2 603.30 298.9 603.75 298.9 604.20 298.6 604.65 298.0 605.10 299.2 605.55 299.9 606.00 299.4 606.45 300.0 606.90 299.8 607.35 300.1 607.80 300.6 608.25 300.7 608.70 300.4 609.15 300.5 609.60 300.4 610.05 301.1 610.50 301.2 610.95 301.4 611.40 301.7 611.85 301.5 612.30 302.7 612.75 302.2 613.20 302.6 613.65 302.2 614.10 301.0 614.55 301.6 615.00 303.7 615.45 303.4 615.90 304.1 616.35 303.9 616.80 303.7 617.25 303.9 617.70 302.8 618.15 303.9 618.60 303.8 619.05 303.7 619.50 303.7 619.95 303.7 620.40 304.6 620.85 304.3 621.30 304.7 621.75 304.4 622.20 304.6 622.65 304.8 623.10 304.4 623.55 304.6 624.00 304.7 624.45 304.2 624.90 302.7 625.35 303.4 625.80 304.8 626.25 304.7 626.70 305.4 627.15 306.0 627.60 305.7 628.05 305.7 628.50 305.0 628.95 306.1 629.40 305.3 629.85 305.8 630.30 305.8 630.75 304.0 631.20 305.5 631.65 306.2 632.10 306.0 632.55 306.4 633.00 306.5 633.45 306.5 633.90 305.3 634.35 306.3 634.80 305.1 635.25 307.2 635.70 306.9 636.15 307.1 636.60 307.3 637.05 307.2 637.50 305.4 637.95 307.4 638.40 306.7 638.85 307.4 639.30 307.1 639.75 306.3 640.20 288.8 640.65 281.3 641.10 298.8 641.55 306.1 642.00 305.6 642.45 305.5 642.90 304.5 643.35 305.0 643.80 302.2 644.25 302.5 644.70 303.8 645.15 304.9 645.60 304.9 646.05 307.4 646.50 305.2 646.95 306.1 647.40 307.2 647.85 304.6 648.30 306.8 648.75 307.5 649.20 307.0 649.65 306.9 650.10 307.2 650.55 307.4 651.00 307.2 651.45 306.9 651.90 306.8 652.35 306.5 652.80 305.6 653.25 306.4 653.70 302.2 654.15 298.2 654.60 301.7 655.05 306.7 655.50 307.3 655.95 307.1 656.40 307.3 656.85 306.8 657.30 306.3 657.75 306.3 658.20 306.1 658.65 304.7 659.10 305.9 659.55 305.0 660.00 305.3 660.45 306.2 660.90 305.0 661.35 305.6 661.80 305.9 662.25 305.8 662.70 303.6 663.15 305.6 663.60 305.6 664.05 305.7 664.50 305.5 664.95 306.3 665.40 306.0 665.85 306.1 666.30 305.4 666.75 302.4 667.20 304.0 667.65 299.5 668.10 293.5 668.55 286.0 669.00 264.5 669.45 250.7 669.90 255.7 670.35 276.8 670.80 292.1 671.25 297.3 671.70 303.4 672.15 306.6 672.60 306.8 673.05 307.0 673.50 306.3 673.95 306.3 674.40 307.6 674.85 308.1 675.30 308.0 675.75 308.1 676.20 307.6 676.65 308.4 677.10 309.0 677.55 308.0 678.00 308.3 L678.00 314.9 677.55 314.6 677.10 317.3 676.65 314.2 676.20 313.9 675.75 314.3 675.30 315.8 674.85 314.2 674.40 315.1 673.95 313.0 673.50 312.5 673.05 313.4 672.60 314.0 672.15 312.5 671.70 310.9 671.25 302.7 670.80 297.4 670.35 283.2 669.90 261.4 669.45 256.7 669.00 270.6 668.55 292.5 668.10 300.8 667.65 304.5 667.20 311.9 666.75 311.0 666.30 311.2 665.85 311.9 665.40 313.7 664.95 311.5 664.50 311.7 664.05 312.0 663.60 311.5 663.15 311.9 662.70 310.9 662.25 312.0 661.80 312.3 661.35 312.1 660.90 311.2 660.45 311.8 660.00 311.1 659.55 313.6 659.10 311.4 658.65 311.5 658.20 311.8 657.75 312.2 657.30 312.2 656.85 312.1 656.40 315.3 655.95 312.6 655.50 312.4 655.05 314.4 654.60 308.4 654.15 303.7 653.70 308.6 653.25 313.2 652.80 311.4 652.35 312.1 651.90 313.0 651.45 312.1 651.00 312.4 650.55 312.5 650.10 312.6 649.65 312.5 649.20 312.8 648.75 312.8 648.30 313.6 647.85 312.9 647.40 312.8 646.95 313.0 646.50 312.8 646.05 312.4 645.60 311.6 645.15 310.7 644.70 309.9 644.25 309.0 643.80 309.7 643.35 310.5 642.90 310.9 642.45 310.8 642.00 311.7 641.55 311.6 641.10 305.7 640.65 286.6 640.20 294.4 639.75 311.7 639.30 313.3 638.85 313.2 638.40 312.8 637.95 312.6 637.50 313.3 637.05 313.4 636.60 313.7 636.15 312.7 635.70 312.5 635.25 312.6 634.80 313.1 634.35 311.8 633.90 313.2 633.45 311.7 633.00 311.9 632.55 312.2 632.10 311.3 631.65 312.3 631.20 310.9 630.75 310.8 630.30 311.4 629.85 311.6 629.40 312.6 628.95 311.2 628.50 311.6 628.05 312.0 627.60 314.1 627.15 311.9 626.70 311.8 626.25 311.1 625.80 310.8 625.35 311.7 624.90 310.8 624.45 310.5 624.00 310.1 623.55 310.7 623.10 312.5 622.65 310.7 622.20 310.4 621.75 312.2 621.30 310.9 620.85 309.7 620.40 310.5 619.95 309.8 619.50 309.1 619.05 308.9 618.60 309.2 618.15 312.4 617.70 310.6 617.25 309.6 616.80 310.0 616.35 309.2 615.90 309.8 615.45 308.9 615.00 311.5 614.55 308.9 614.10 309.8 613.65 308.2 613.20 308.8 612.75 308.1 612.30 307.6 611.85 307.4 611.40 307.7 610.95 309.8 610.50 307.5 610.05 309.0 609.60 306.7 609.15 306.3 608.70 305.8 608.25 306.3 607.80 306.3 607.35 308.6 606.90 305.4 606.45 305.8 606.00 305.7 605.55 304.9 605.10 305.5 604.65 305.5 604.20 306.6 603.75 304.6 603.30 303.8 602.85 304.5 602.40 304.2 601.95 303.6 601.50 302.9 601.05 303.0 600.60 304.8 600.15 302.6 599.70 303.1 599.25 302.3 598.80 301.8 598.35 302.6 597.90 302.1 597.45 301.8 597.00 301.6 596.55 302.2 596.10 304.0 595.65 301.8 595.20 302.0 594.75 304.6 594.30 304.1 593.85 302.0 593.40 302.0 592.95 305.2 592.50 302.6 592.05 302.5 591.60 302.7 591.15 303.9 590.70 303.5 590.25 305.1 589.80 303.7 589.35 303.8 588.90 303.7 588.45 303.8 588.00 303.8 587.55 304.0 587.10 305.9 586.65 304.6 586.20 304.8 585.75 306.5 585.30 305.7 584.85 307.7 584.40 305.4 583.95 305.7 583.50 306.0 583.05 306.1 582.60 306.0 582.15 306.6 581.70 306.6 581.25 307.1 580.80 307.0 580.35 307.6 579.90 307.6 579.45 308.7 579.00 309.7 578.55 309.3 578.10 309.8 577.65 309.2 577.20 309.4 576.75 310.2 576.30 310.3 575.85 309.6 575.40 310.2 574.95 311.2 574.50 310.2 574.05 310.8 573.60 310.6 573.15 310.7 572.70 311.1 572.25 310.6 571.80 310.8 571.35 312.0 570.90 311.9 570.45 311.8 570.00 311.7 569.55 311.6 569.10 312.1 568.65 311.2 568.20 311.0 567.75 310.5 567.30 312.5 566.85 310.1 566.40 310.3 565.95 310.0 565.50 311.3 565.05 310.6 564.60 310.1 564.15 305.2 563.70 300.1 563.25 293.2 562.80 273.8 562.35 253.3 561.90 250.3 561.45 250.9 561.00 276.0 560.55 294.5 560.10 303.1 559.65 307.5 559.20 309.5 558.75 310.3 558.30 310.2 557.85 309.9 557.40 310.5 556.95 310.7 556.50 310.6 556.05 310.7 555.60 310.9 555.15 310.9 554.70 310.9 554.25 310.2 553.80 310.0 553.35 310.1 552.90 310.9 552.45 309.3 552.00 309.2 551.55 308.7 551.10 308.7 550.65 308.9 550.20 309.1 549.75 309.6 549.30 312.5 548.85 310.5 548.40 310.3 547.95 311.1 547.50 311.7 547.05 311.1 546.60 310.6 546.15 310.4 545.70 310.2 545.25 309.9 544.80 310.4 544.35 310.4 543.90 310.4 543.45 310.5 543.00 312.9 542.55 312.8 542.10 312.2 541.65 310.7 541.20 311.7 540.75 313.3 540.30 310.6 539.85 310.3 539.40 310.7 538.95 310.2 538.50 310.5 538.05 313.0 537.60 310.4 Z" fill="#cc6762" fill-opacity="0.45" stroke="none"/>
<path d="M537.60 306.5 538.05 306.1 538.50 305.2 538.95 306.1 539.40 305.0 539.85 306.4 540.30 306.2 540.75 306.2 541.20 306.8 541.65 306.2 542.10 305.1 542.55 306.4 543.00 306.4 543.45 306.1 543.90 305.4 544.35 306.1 544.80 306.2 545.25 305.3 545.70 306.2 546.15 306.4 546.60 306.4 547.05 306.4 547.50 306.4 547.95 306.4 548.40 306.3 548.85 306.1 549.30 305.8 549.75 305.3 550.20 305.2 550.65 304.6 551.10 304.7 551.55 304.9 552.00 304.9 552.45 305.2 552.90 305.7 553.35 305.9 553.80 306.1 554.25 306.4 554.70 306.6 555.15 305.6 555.60 306.9 556.05 306.3 556.50 306.3 556.95 306.2 557.40 306.4 557.85 305.8 558.30 305.6 558.75 305.5 559.20 305.5 559.65 303.3 560.10 296.9 560.55 290.1 561.00 269.9 561.45 246.6 561.90 246.2 562.35 248.7 562.80 270.0 563.25 289.4 563.70 294.9 564.15 301.4 564.60 305.5 565.05 306.1 565.50 305.4 565.95 305.9 566.40 306.1 566.85 305.4 567.30 306.6 567.75 306.2 568.20 306.7 568.65 306.8 569.10 307.0 569.55 307.1 570.00 307.3 570.45 306.9 570.90 307.0 571.35 306.9 571.80 306.7 572.25 306.7 572.70 306.8 573.15 306.4 573.60 306.1 574.05 306.2 574.50 306.0 574.95 306.0 575.40 306.1 575.85 305.4 576.30 305.1 576.75 304.9 577.20 305.8 577.65 304.9 578.10 302.2 578.55 304.3 579.00 302.3 579.45 303.6 579.90 302.2 580.35 302.2 580.80 302.2 581.25 301.9 581.70 302.3 582.15 302.1 582.60 301.3 583.05 302.0 583.50 301.8 583.95 301.7 584.40 301.5 584.85 301.3 585.30 301.1 585.75 301.3 586.20 300.2 586.65 300.6 587.10 298.5 587.55 300.0 588.00 299.2 588.45 299.7 588.90 299.7 589.35 299.3 589.80 299.3 590.25 299.5 590.70 299.2 591.15 298.8 591.60 298.5 592.05 298.5 592.50 296.2 592.95 297.8 593.40 296.2 593.85 297.5 594.30 297.5 594.75 298.1 595.20 297.9 595.65 298.0 596.10 297.4 596.55 297.5 597.00 297.0 597.45 297.5 597.90 297.8 598.35 297.8 598.80 297.6 599.25 297.8 599.70 298.5 600.15 298.6 600.60 298.9 601.05 298.8 601.50 298.1 601.95 299.6 602.40 299.1 602.85 299.2 603.30 300.1 603.75 300.0 604.20 300.2 604.65 300.5 605.10 300.3 605.55 300.4 606.00 300.6 606.45 299.0 606.90 301.6 607.35 301.5 607.80 301.8 608.25 301.9 608.70 301.8 609.15 302.1 609.60 302.4 610.05 302.2 610.50 302.6 610.95 302.2 611.40 302.8 611.85 301.7 612.30 303.6 612.75 303.6 613.20 304.0 613.65 303.9 614.10 304.4 614.55 305.1 615.00 304.8 615.45 305.1 615.90 305.2 616.35 304.5 616.80 305.4 617.25 305.2 617.70 305.3 618.15 304.4 618.60 305.1 619.05 305.1 619.50 305.0 619.95 305.3 620.40 305.3 620.85 305.6 621.30 306.0 621.75 305.5 622.20 306.1 622.65 306.1 623.10 305.8 623.55 306.2 624.00 306.2 624.45 306.0 624.90 305.9 625.35 306.1 625.80 306.9 626.25 307.1 626.70 307.1 627.15 306.5 627.60 307.0 628.05 306.9 628.50 307.2 628.95 306.6 629.40 306.6 629.85 306.8 630.30 306.8 630.75 306.3 631.20 306.9 631.65 307.2 632.10 307.6 632.55 307.0 633.00 307.6 633.45 307.0 633.90 308.0 634.35 308.0 634.80 308.1 635.25 308.0 635.70 308.6 636.15 308.6 636.60 309.0 637.05 309.2 637.50 308.2 637.95 308.1 638.40 307.1 638.85 308.6 639.30 308.4 639.75 307.4 640.20 290.5 640.65 282.4 641.10 301.2 641.55 307.5 642.00 306.9 642.45 304.9 642.90 305.0 643.35 306.3 643.80 305.2 644.25 304.7 644.70 305.6 645.15 304.2 645.60 307.1 646.05 307.8 646.50 308.2 646.95 308.7 647.40 308.5 647.85 308.1 648.30 308.5 648.75 308.4 649.20 308.5 649.65 308.6 650.10 307.9 650.55 308.1 651.00 308.3 651.45 308.0 651.90 307.9 652.35 307.5 652.80 307.7 653.25 307.4 653.70 302.9 654.15 299.2 654.60 303.1 655.05 308.4 655.50 306.6 655.95 308.5 656.40 308.3 656.85 307.6 657.30 307.9 657.75 307.5 658.20 306.9 658.65 306.9 659.10 306.9 659.55 307.1 660.00 306.2 660.45 307.4 660.90 307.0 661.35 306.2 661.80 307.1 662.25 306.4 662.70 306.9 663.15 306.9 663.60 307.0 664.05 307.1 664.50 306.8 664.95 307.3 665.40 306.7 665.85 307.3 666.30 306.6 666.75 305.9 667.20 306.4 667.65 300.5 668.10 294.0 668.55 287.5 669.00 266.0 669.45 252.2 669.90 256.4 670.35 278.9 670.80 293.3 671.25 298.8 671.70 304.1 672.15 308.1 672.60 308.3 673.05 308.2 673.50 308.5 673.95 308.2 674.40 308.7 674.85 309.1 675.30 309.4 675.75 309.7 676.20 309.5 676.65 310.2 677.10 309.8 677.55 310.3 678.00 310.5 L678.00 313.4 677.55 313.6 677.10 312.7 676.65 313.5 676.20 312.6 675.75 314.2 675.30 311.9 674.85 312.4 674.40 311.6 673.95 311.6 673.50 311.5 673.05 311.3 672.60 311.0 672.15 311.0 671.70 307.6 671.25 301.6 670.80 295.9 670.35 281.8 669.90 259.7 669.45 254.8 669.00 269.1 668.55 290.2 668.10 297.6 667.65 303.7 667.20 309.5 666.75 309.4 666.30 309.4 665.85 310.2 665.40 310.0 664.95 310.0 664.50 310.0 664.05 311.5 663.60 309.8 663.15 310.3 662.70 310.2 662.25 309.8 661.80 310.1 661.35 309.8 660.90 310.6 660.45 310.2 660.00 309.7 659.55 310.0 659.10 310.1 658.65 310.1 658.20 311.0 657.75 310.5 657.30 310.5 656.85 311.1 656.40 311.1 655.95 311.3 655.50 311.8 655.05 312.5 654.60 306.9 654.15 302.6 653.70 308.2 653.25 310.6 652.80 310.3 652.35 310.4 651.90 310.8 651.45 310.9 651.00 311.9 650.55 311.4 650.10 311.2 649.65 311.3 649.20 312.2 648.75 311.3 648.30 311.7 647.85 311.1 647.40 311.4 646.95 311.4 646.50 313.2 646.05 311.1 645.60 310.0 645.15 308.9 644.70 308.6 644.25 308.4 643.80 308.5 643.35 309.0 642.90 309.2 642.45 310.0 642.00 310.1 641.55 310.1 641.10 304.6 640.65 285.1 640.20 293.2 639.75 310.7 639.30 311.2 638.85 311.5 638.40 312.0 637.95 311.5 637.50 312.2 637.05 311.9 636.60 311.9 636.15 311.8 635.70 311.3 635.25 311.0 634.80 311.5 634.35 311.0 633.90 310.8 633.45 311.0 633.00 310.5 632.55 310.5 632.10 310.3 631.65 310.3 631.20 310.0 630.75 309.4 630.30 310.2 629.85 309.7 629.40 310.0 628.95 310.2 628.50 309.9 628.05 310.4 627.60 310.7 627.15 310.1 626.70 309.8 626.25 309.9 625.80 309.6 625.35 309.5 624.90 309.5 624.45 308.8 624.00 308.9 623.55 311.3 623.10 308.5 622.65 309.2 622.20 309.4 621.75 308.7 621.30 308.6 620.85 308.7 620.40 308.5 619.95 308.3 619.50 308.3 619.05 307.7 618.60 307.8 618.15 308.0 617.70 308.6 617.25 308.2 616.80 308.0 616.35 307.8 615.90 308.0 615.45 308.7 615.00 308.3 614.55 307.9 614.10 307.4 613.65 307.2 613.20 307.6 612.75 308.1 612.30 307.4 611.85 306.3 611.40 307.5 610.95 305.4 610.50 305.7 610.05 305.3 609.60 307.3 609.15 305.0 608.70 304.6 608.25 305.4 607.80 304.3 607.35 304.4 606.90 304.4 606.45 304.1 606.00 304.1 605.55 303.7 605.10 303.8 604.65 303.7 604.20 302.8 603.75 303.0 603.30 302.6 602.85 302.5 602.40 302.6 601.95 304.0 601.50 302.0 601.05 301.6 600.60 301.7 600.15 301.5 599.70 301.1 599.25 300.9 598.80 300.6 598.35 300.4 597.90 300.6 597.45 300.4 597.00 300.3 596.55 300.6 596.10 300.0 595.65 300.6 595.20 300.7 594.75 300.9 594.30 301.0 593.85 300.7 593.40 300.9 592.95 300.5 592.50 300.6 592.05 301.4 591.60 301.8 591.15 301.8 590.70 301.8 590.25 302.1 589.80 302.9 589.35 302.5 588.90 302.2 588.45 302.5 588.00 302.5 587.55 302.8 587.10 303.6 586.65 303.5 586.20 303.6 585.75 303.9 585.30 304.4 584.85 304.2 584.40 304.4 583.95 304.3 583.50 305.1 583.05 304.8 582.60 305.2 582.15 304.9 581.70 305.4 581.25 307.3 580.80 305.5 580.35 305.5 579.90 305.9 579.45 306.4 579.00 307.7 578.55 307.3 578.10 309.0 577.65 307.9 577.20 308.4 576.75 309.0 576.30 308.8 575.85 309.9 575.40 309.3 574.95 308.9 574.50 309.7 574.05 308.8 573.60 308.8 573.15 309.3 572.70 309.7 572.25 309.4 571.80 309.5 571.35 310.3 570.90 309.9 570.45 310.0 570.00 310.2 569.55 310.4 569.10 310.1 568.65 310.3 568.20 309.8 567.75 309.2 567.30 310.6 566.85 309.4 566.40 309.1 565.95 309.3 565.50 308.7 565.05 308.7 564.60 308.9 564.15 304.0 563.70 298.0 563.25 292.3 562.80 272.7 562.35 252.2 561.90 250.0 561.45 249.6 561.00 273.5 560.55 293.7 560.10 300.7 559.65 306.8 559.20 308.7 558.75 308.5 558.30 308.7 557.85 309.1 557.40 309.6 556.95 310.0 556.50 309.6 556.05 309.4 555.60 310.7 555.15 310.2 554.70 309.6 554.25 309.1 553.80 308.9 553.35 309.0 552.90 309.4 552.45 307.9 552.00 307.6 551.55 307.8 551.10 307.5 550.65 307.7 550.20 308.3 549.75 308.4 549.30 308.9 548.85 308.8 548.40 309.4 547.95 309.5 547.50 309.2 547.05 309.5 546.60 309.7 546.15 309.1 545.70 310.3 545.25 309.2 544.80 308.8 544.35 309.3 543.90 308.9 543.45 309.2 543.00 309.1 542.55 309.2 542.10 309.8 541.65 309.3 541.20 309.6 540.75 309.9 540.30 309.7 539.85 310.9 539.40 309.3 538.95 309.0 538.50 310.4 538.05 310.1 537.60 309.3 Z" fill="#cc6762" stroke="#cc6762" stroke-width="0.5" stroke-linejoin="round"/>
</g>
<line x1="562.5" y1="313" x2="562.5" y2="321.5" stroke="#6f93c4" stroke-width="0.9" stroke-dasharray="2.2 1.2"/>
<line x1="623.6" y1="313" x2="623.6" y2="321.5" stroke="#c9d6e8" stroke-width="0.9" stroke-dasharray="2.2 1.2"/>
<line x1="640.4" y1="313" x2="640.4" y2="321.5" stroke="#6f93c4" stroke-width="0.9" stroke-dasharray="2.2 1.2"/>
<line x1="644.4" y1="313" x2="644.4" y2="321.5" stroke="#a3bbdb" stroke-width="0.9" stroke-dasharray="2.2 1.2"/>
<line x1="654.2" y1="313" x2="654.2" y2="321.5" stroke="#a3bbdb" stroke-width="0.9" stroke-dasharray="2.2 1.2"/>
<line x1="669.5" y1="313" x2="669.5" y2="321.5" stroke="#6f93c4" stroke-width="0.9" stroke-dasharray="2.2 1.2"/>
<rect x="537" y="180.2" width="142" height="141.8" fill="none" stroke="#1a1a1a" stroke-width="1.3"/>
<line x1="545.88" y1="322" x2="545.88" y2="324.6" stroke="#1a1a1a" stroke-width="1" />
<line x1="590.25" y1="322" x2="590.25" y2="324.6" stroke="#1a1a1a" stroke-width="1" />
<line x1="634.62" y1="322" x2="634.62" y2="324.6" stroke="#1a1a1a" stroke-width="1" />
<line x1="679" y1="322" x2="679" y2="324.6" stroke="#1a1a1a" stroke-width="1" />
<line x1="568.06" y1="322" x2="568.06" y2="323.6" stroke="#1a1a1a" stroke-width="1" />
<line x1="612.44" y1="322" x2="612.44" y2="323.6" stroke="#1a1a1a" stroke-width="1" />
<line x1="656.81" y1="322" x2="656.81" y2="323.6" stroke="#1a1a1a" stroke-width="1" />
<text x="545.88" y="335.4" font-size="10" fill="#1a1a1a" text-anchor="middle" >10</text>
<text x="590.25" y="335.4" font-size="10" fill="#1a1a1a" text-anchor="middle" >20</text>
<text x="634.62" y="335.4" font-size="10" fill="#1a1a1a" text-anchor="middle" >30</text>
<text x="679" y="335.4" font-size="10" fill="#1a1a1a" text-anchor="middle" >40</text>
<text x="608" y="347.4" font-size="12" fill="#1a1a1a" text-anchor="middle">2<tspan font-style="italic">&#952;</tspan> / Degree</text>
<text x="530" y="248.2" font-size="12" fill="#1a1a1a" text-anchor="middle" transform="rotate(-90 530 248.2)">Intensity / a.u.</text>
<text x="5" y="368.2" font-size="14" fill="#1a1a1a" text-anchor="start" >i</text>
<text x="31.4" y="368.5" font-size="9.5" fill="#5a82ba" text-anchor="start" >Mo-S</text>
<path d="M28.6 419.6 L29.7 420.0 L31.3 419.9 L33.1 419.1 L34.6 419.1 L36.1 419.2 L37.5 418.5 L38.9 418.5 L40.3 418.6 L41.7 418.1 L43.2 418.1 L44.6 418.2 L46.0 419.6 L47.5 419.0 L48.8 418.8 L50.2 418.3 L51.8 418.0 L53.2 419.0 L54.8 418.8 L56.5 419.5 L58.2 420.0 L59.7 419.0 L61.2 418.9 L62.8 418.5 L64.3 418.0 L65.7 417.6 L67.2 417.3 L68.4 418.6 L69.7 418.6 L71.1 418.9 L72.6 418.7 L74.2 419.2 L75.9 419.5 L77.5 419.0 L79.1 418.8 L80.7 419.7 L82.3 420.2 L83.9 421.0 L85.5 420.7 L87.2 420.6 L88.8 420.7 L90.4 420.9 L92.0 420.4 L93.6 420.3 L95.2 419.8 L96.8 419.5 L98.4 419.3 L99.9 419.2 L101.5 419.8 L103.3 419.3 L104.6 419.8 L106.0 419.4 L107.5 420.0 L109.1 419.6 L110.5 419.0 L111.8 419.5 L113.6 419.0 L115.3 419.4 L116.9 419.0 L118.3 418.6 L119.9 417.6 L121.3 416.5 L122.6 416.2 L125.1 410.1 L126.5 402.1 L127.9 394.8 L129.3 396.0 L130.7 399.1 L132.4 406.1 L133.9 410.8 L135.9 390.4 L137.6 368.2 L139.1 373.7 L140.4 372.7 L141.9 384.6 L144.0 415.2 L145.1 417.0 L146.5 416.5 L148.0 415.0 L149.4 414.5 L150.7 414.0 L152.1 413.8 L153.4 414.1 L154.8 413.7 L156.1 414.5 L157.5 415.4 L158.9 416.3 L160.1 417.6 L161.7 418.3 L163.1 417.6 L164.4 418.8 L166.2 419.9 L167.6 420.0 L169.8 419.5" fill="none" stroke="#5280ba" stroke-width="1.1" stroke-linejoin="round" clip-path="url(#cli)"/>
<text x="103.8" y="391" font-size="7.5" fill="#5a82ba" text-anchor="middle"><tspan font-style="italic">E</tspan><tspan font-size="4.5" dy="1.5">2g</tspan><tspan font-size="4.5" dx="-4.8" dy="-4.3">1</tspan></text>
<text x="103.7" y="398.6" font-size="7" fill="#5a82ba" text-anchor="middle" >379.8</text>
<text x="151.5" y="374.2" font-size="7.5" fill="#5a82ba" text-anchor="middle"><tspan font-style="italic">A</tspan><tspan font-size="5" dy="1.5">1g</tspan></text>
<text x="151.5" y="381.8" font-size="7" fill="#5a82ba" text-anchor="middle" >408.7</text>
<text x="31.4" y="441.8" font-size="9.5" fill="#c9665f" text-anchor="start" >K-Mo-S</text>
<path d="M28.6 480.8 L29.6 483.2 L31.1 482.1 L32.4 484.7 L33.6 484.8 L34.6 483.3 L35.7 482.9 L36.7 482.5 L37.8 481.8 L38.9 479.0 L39.9 480.1 L41.0 480.6 L42.1 481.6 L43.2 481.0 L44.3 480.3 L45.3 479.0 L46.3 474.5 L47.5 472.7 L48.4 474.0 L49.5 474.7 L50.7 476.9 L51.8 476.9 L52.9 477.9 L53.9 478.8 L55.0 480.3 L56.0 482.6 L57.0 483.8 L58.2 483.8 L59.2 483.6 L60.3 481.6 L61.5 480.7 L62.5 479.3 L63.6 481.8 L64.7 481.9 L65.7 483.5 L67.1 482.1 L68.5 477.8 L69.8 484.1 L71.1 488.3 L72.1 487.5 L73.3 482.1 L74.3 481.8 L75.4 485.5 L76.4 485.8 L77.4 485.5 L78.6 482.6 L79.6 480.4 L81.0 481.2 L82.2 483.0 L83.6 479.2 L85.0 472.5 L86.1 473.7 L87.1 472.8 L88.2 470.1 L89.3 461.8 L90.5 449.5 L91.5 444.4 L92.6 447.3 L93.6 456.6 L94.6 458.4 L95.7 462.8 L96.7 468.2 L97.8 476.0 L99.0 481.8 L100.0 482.6 L101.0 483.2 L102.2 481.0 L103.3 479.4 L104.4 481.5 L105.5 483.5 L106.6 485.8 L107.5 486.0 L108.8 483.8 L109.7 479.0 L110.7 479.3 L111.8 479.7 L112.8 478.6 L113.9 478.9 L115.1 477.5 L116.2 476.2 L117.3 473.5 L118.3 472.6 L119.3 478.3 L120.4 480.5 L121.4 480.4 L122.5 478.0 L123.6 477.9 L124.8 474.5 L125.9 471.5 L126.9 471.4 L128.6 472.9 L129.8 470.1 L131.2 466.9 L132.2 471.3 L133.3 474.3 L134.3 470.3 L135.4 459.1 L136.8 449.5 L138.0 440.9 L139.7 448.5 L141.5 451.6 L142.6 465.5 L144.0 484.6 L145.0 486.8 L146.1 488.2 L147.2 486.0 L148.3 485.5 L149.4 485.1 L150.5 487.3 L151.5 487.2 L152.6 485.8 L153.7 486.3 L154.8 487.7 L155.8 489.7 L156.9 487.6 L158.0 488.8 L159.0 490.1 L160.1 490.5 L161.2 492.1 L162.3 492.1 L163.5 490.6 L164.6 489.5 L165.5 490.2 L166.7 491.2 L167.6 493.1 L168.8 488.7 L169.8 487.9" fill="none" stroke="#cc6762" stroke-width="1.1" stroke-linejoin="round" clip-path="url(#cli)"/>
<text x="78.9" y="452.8" font-size="7" fill="#c9665f" text-anchor="middle" >277.8</text>
<text x="74" y="475.3" font-size="7" fill="#c9665f" text-anchor="middle" >212.8</text>
<text x="52" y="497.4" font-size="7" fill="#c9665f" text-anchor="middle" >156.1</text>
<text x="119.8" y="457" font-size="7.5" fill="#c9665f" text-anchor="middle"><tspan font-style="italic">E</tspan><tspan font-size="4.5" dy="1.5">2g</tspan><tspan font-size="4.5" dx="-4.8" dy="-4.3">1</tspan></text>
<text x="118" y="465.2" font-size="7" fill="#c9665f" text-anchor="middle" >379.8</text>
<text x="120.2" y="497.4" font-size="7" fill="#c9665f" text-anchor="middle" >343.5</text>
<text x="151.2" y="440.9" font-size="7.5" fill="#c9665f" text-anchor="middle"><tspan font-style="italic">A</tspan><tspan font-size="5" dy="1.5">1g</tspan></text>
<text x="151.2" y="449.5" font-size="7" fill="#c9665f" text-anchor="middle" >408.7</text>
<rect x="28.5" y="358.5" width="142.2" height="142.2" fill="none" stroke="#1a1a1a" stroke-width="1.3"/>
<line x1="28.5" y1="500.7" x2="28.5" y2="503.3" stroke="#1a1a1a" stroke-width="1" />
<line x1="64.05" y1="500.7" x2="64.05" y2="503.3" stroke="#1a1a1a" stroke-width="1" />
<line x1="99.6" y1="500.7" x2="99.6" y2="503.3" stroke="#1a1a1a" stroke-width="1" />
<line x1="135.15" y1="500.7" x2="135.15" y2="503.3" stroke="#1a1a1a" stroke-width="1" />
<line x1="170.7" y1="500.7" x2="170.7" y2="503.3" stroke="#1a1a1a" stroke-width="1" />
<line x1="46.27" y1="500.7" x2="46.27" y2="502.3" stroke="#1a1a1a" stroke-width="1" />
<line x1="81.82" y1="500.7" x2="81.82" y2="502.3" stroke="#1a1a1a" stroke-width="1" />
<line x1="117.38" y1="500.7" x2="117.38" y2="502.3" stroke="#1a1a1a" stroke-width="1" />
<line x1="152.92" y1="500.7" x2="152.92" y2="502.3" stroke="#1a1a1a" stroke-width="1" />
<text x="28.5" y="513" font-size="10" fill="#1a1a1a" text-anchor="middle" >100</text>
<text x="64.05" y="513" font-size="10" fill="#1a1a1a" text-anchor="middle" >200</text>
<text x="99.6" y="513" font-size="10" fill="#1a1a1a" text-anchor="middle" >300</text>
<text x="135.15" y="513" font-size="10" fill="#1a1a1a" text-anchor="middle" >400</text>
<text x="170.7" y="513" font-size="10" fill="#1a1a1a" text-anchor="middle" >500</text>
<text x="99.6" y="525.6" font-size="12" fill="#1a1a1a" text-anchor="middle">Ramanshift / cm<tspan font-size="8.5" dy="-5">&#8722;1</tspan></text>
<text x="21.5" y="426.7" font-size="12" fill="#1a1a1a" text-anchor="middle" transform="rotate(-90 21.5 426.7)">Intensity / a.u.</text>
<text x="187" y="368" font-size="14" fill="#1a1a1a" text-anchor="start" >j</text>
<text x="206.4" y="368.5" font-size="9.5" fill="#5a82ba" text-anchor="start" >Mo-Se</text>
<path d="M203.6 422.6 L205.1 422.6 L207.4 421.3 L208.9 421.4 L210.5 420.2 L212.2 419.9 L213.9 420.1 L215.5 420.0 L217.2 420.3 L218.9 420.0 L220.3 419.6 L221.9 419.8 L223.3 420.2 L224.6 420.8 L226.3 417.6 L227.8 415.4 L230.0 419.1 L231.5 421.1 L233.2 422.4 L234.8 420.6 L236.4 420.6 L238.0 418.9 L239.6 419.6 L240.9 419.9 L242.3 420.4 L243.9 420.8 L245.5 421.7 L247.3 422.0 L249.0 421.6 L250.4 420.0 L252.5 403.4 L254.0 371.1 L255.7 403.1 L257.2 419.4 L258.5 421.2 L260.0 421.5 L261.6 420.5 L263.2 419.9 L264.8 419.8 L266.5 418.2 L268.0 418.7 L269.7 418.4 L270.9 418.9 L272.3 419.4 L274.0 420.1 L275.4 420.2 L277.0 421.0 L278.7 420.6 L280.4 421.5 L282.0 420.7 L283.6 421.9 L285.2 420.9 L286.8 420.7 L288.5 420.6 L290.3 418.7 L291.9 418.6 L293.3 418.7 L295.1 419.3 L296.5 420.1 L297.9 421.2 L299.7 421.8 L301.1 421.9 L302.7 422.1 L304.5 422.3 L306.2 421.2 L307.8 421.7 L309.4 421.4 L311.0 420.8 L312.6 419.6 L314.2 420.4 L315.9 419.8 L317.5 419.2 L319.0 419.5 L320.5 420.0 L321.9 419.6 L323.2 420.1 L324.4 420.5 L326.1 420.0 L327.6 420.8 L329.2 421.4 L330.8 422.5 L332.3 423.7 L334.0 424.7 L335.2 424.2 L336.6 424.4 L338.0 424.3 L339.4 423.8 L340.9 423.8 L342.4 423.8 L343.8 422.6 L344.8 422.6" fill="none" stroke="#5280ba" stroke-width="1.1" stroke-linejoin="round" clip-path="url(#clj)"/>
<text x="266.5" y="376.4" font-size="7.5" fill="#5a82ba" text-anchor="middle"><tspan font-style="italic">A</tspan><tspan font-size="5" dy="1.5">1g</tspan></text>
<text x="266.2" y="385.5" font-size="7" fill="#5a82ba" text-anchor="middle" >239.5</text>
<text x="206.4" y="441.8" font-size="9.5" fill="#c9665f" text-anchor="start" >K-Mo-Se</text>
<path d="M203.6 491.4 L204.6 491.2 L206.2 492.3 L207.9 490.7 L209.6 491.9 L211.2 491.6 L212.9 490.9 L214.6 490.6 L216.0 490.3 L217.6 489.2 L219.0 489.6 L220.3 489.5 L221.8 490.1 L223.2 490.4 L224.6 491.3 L226.6 489.5 L228.5 488.8 L231.0 490.6 L232.4 491.7 L233.9 491.8 L235.3 491.7 L237.4 491.0 L239.2 489.9 L241.8 478.9 L243.5 482.0 L245.0 490.2 L246.3 490.3 L247.9 488.4 L249.3 487.0 L251.4 483.4 L253.6 452.2 L255.1 470.9 L256.4 486.4 L258.1 487.5 L260.0 486.8 L261.5 486.2 L262.8 483.9 L265.4 460.5 L267.5 443.4 L269.7 464.4 L271.8 482.2 L273.2 486.3 L275.0 489.1 L276.2 490.1 L277.5 490.1 L278.9 490.0 L280.4 490.0 L281.8 491.5 L283.3 491.3 L284.9 491.8 L286.8 492.3 L288.0 492.5 L289.2 492.0 L290.5 492.3 L291.9 492.3 L293.4 492.6 L294.8 492.1 L296.2 492.0 L297.6 492.8 L298.9 493.0 L300.3 492.7 L301.7 492.8 L303.1 492.4 L304.4 492.5 L305.8 492.8 L307.1 492.6 L308.3 492.9 L309.9 492.7 L311.4 492.1 L312.9 492.2 L314.3 492.3 L315.7 491.5 L316.9 491.8 L318.4 491.4 L319.8 491.3 L321.0 491.2 L322.2 491.5 L323.6 491.1 L325.1 491.4 L326.4 492.0 L327.6 492.2 L329.4 493.0 L330.8 493.7 L332.2 495.0 L334.0 495.2 L335.5 495.5 L337.2 495.2 L339.0 495.5 L340.5 495.2 L342.2 494.6 L343.7 494.9 L344.8 495.2" fill="none" stroke="#cc6762" stroke-width="1.1" stroke-linejoin="round" clip-path="url(#clj)"/>
<text x="235.4" y="451.6" font-size="7.5" fill="#c9665f" text-anchor="middle"><tspan font-style="italic">A</tspan><tspan font-size="5" dy="1.5">1g</tspan></text>
<text x="235.2" y="459.8" font-size="7" fill="#c9665f" text-anchor="middle" >243.1</text>
<text x="230.9" y="476.4" font-size="7" fill="#c9665f" text-anchor="middle" >210.0</text>
<text x="213.9" y="487.1" font-size="7" fill="#c9665f" text-anchor="middle" >147.2</text>
<text x="283.8" y="450.5" font-size="7.5" fill="#c9665f" text-anchor="middle"><tspan font-style="italic">E</tspan><tspan font-size="4.5" dy="1.5">2g</tspan><tspan font-size="4.5" dx="-4.8" dy="-4.3">1</tspan></text>
<text x="281.8" y="458.8" font-size="7" fill="#c9665f" text-anchor="middle" >279.8</text>
<rect x="203.5" y="358.5" width="141.7" height="142.2" fill="none" stroke="#1a1a1a" stroke-width="1.3"/>
<line x1="203.5" y1="500.7" x2="203.5" y2="503.3" stroke="#1a1a1a" stroke-width="1" />
<line x1="238.93" y1="500.7" x2="238.93" y2="503.3" stroke="#1a1a1a" stroke-width="1" />
<line x1="274.35" y1="500.7" x2="274.35" y2="503.3" stroke="#1a1a1a" stroke-width="1" />
<line x1="309.77" y1="500.7" x2="309.77" y2="503.3" stroke="#1a1a1a" stroke-width="1" />
<line x1="345.2" y1="500.7" x2="345.2" y2="503.3" stroke="#1a1a1a" stroke-width="1" />
<line x1="221.21" y1="500.7" x2="221.21" y2="502.3" stroke="#1a1a1a" stroke-width="1" />
<line x1="256.64" y1="500.7" x2="256.64" y2="502.3" stroke="#1a1a1a" stroke-width="1" />
<line x1="292.06" y1="500.7" x2="292.06" y2="502.3" stroke="#1a1a1a" stroke-width="1" />
<line x1="327.49" y1="500.7" x2="327.49" y2="502.3" stroke="#1a1a1a" stroke-width="1" />
<text x="203.5" y="513" font-size="10" fill="#1a1a1a" text-anchor="middle" >100</text>
<text x="238.93" y="513" font-size="10" fill="#1a1a1a" text-anchor="middle" >200</text>
<text x="274.35" y="513" font-size="10" fill="#1a1a1a" text-anchor="middle" >300</text>
<text x="309.77" y="513" font-size="10" fill="#1a1a1a" text-anchor="middle" >400</text>
<text x="345.2" y="513" font-size="10" fill="#1a1a1a" text-anchor="middle" >500</text>
<text x="274.35" y="525.6" font-size="12" fill="#1a1a1a" text-anchor="middle">Ramanshift / cm<tspan font-size="8.5" dy="-5">&#8722;1</tspan></text>
<text x="196.5" y="426.7" font-size="12" fill="#1a1a1a" text-anchor="middle" transform="rotate(-90 196.5 426.7)">Intensity / a.u.</text>
<text x="352.5" y="368.6" font-size="14" fill="#1a1a1a" text-anchor="start" >k</text>
<text x="373.4" y="368.5" font-size="9.5" fill="#5a82ba" text-anchor="start" >Mo-SeTe</text>
<path d="M370.6 409.5 L371.8 409.8 L373.4 410.5 L375.5 404.9 L377.7 400.5 L379.8 405.1 L381.4 406.5 L383.0 406.6 L385.2 407.3 L387.7 401.4 L389.5 402.7 L391.6 404.7 L392.9 404.8 L394.3 404.2 L395.7 404.7 L397.0 406.5 L398.7 408.6 L400.2 409.4 L401.8 408.9 L403.4 408.5 L405.1 407.0 L406.6 407.9 L408.8 411.0 L410.9 412.4 L412.5 415.2 L414.1 416.6 L415.6 411.4 L416.9 403.0 L419.5 385.7 L421.6 391.7 L423.4 408.7 L424.7 410.0 L426.4 408.8 L428.1 409.3 L429.6 409.2 L431.1 411.9 L432.4 410.6 L434.5 412.6 L435.8 412.3 L437.4 415.3 L438.8 417.0 L440.5 418.1 L442.0 417.3 L443.6 419.6 L445.3 420.7 L446.6 419.9 L448.1 419.4 L449.5 419.6 L451.0 419.3 L452.4 420.1 L453.8 420.2 L455.3 419.4 L456.7 417.9 L458.1 418.3 L459.6 418.8 L461.0 420.3 L462.4 421.2 L463.8 422.5 L465.1 422.8 L466.7 424.0 L468.2 425.0 L469.8 425.0 L471.5 424.9 L473.2 424.9 L474.8 424.7 L476.5 423.6 L478.1 423.0 L479.6 422.8 L481.2 420.8 L482.5 420.3 L483.9 420.4 L485.4 420.0 L486.9 421.2 L488.2 421.3 L490.3 421.1 L491.9 422.8 L493.5 423.8 L495.0 424.5 L496.8 424.6 L498.0 424.2 L499.4 425.5 L500.8 425.7 L502.1 426.1 L503.6 427.0 L504.9 427.0 L506.4 425.6 L507.8 425.0 L509.4 424.6 L510.8 424.9 L511.8 425.2" fill="none" stroke="#5280ba" stroke-width="1.1" stroke-linejoin="round" clip-path="url(#clk)"/>
<text x="433.4" y="380.7" font-size="7.5" fill="#5a82ba" text-anchor="middle"><tspan font-style="italic">A</tspan><tspan font-size="5" dy="1.5">1g</tspan></text>
<text x="433.4" y="389.3" font-size="7" fill="#5a82ba" text-anchor="middle" >239.5</text>
<text x="373.4" y="441.8" font-size="9.5" fill="#c9665f" text-anchor="start" >K-Mo-SeTe</text>
<path d="M370.6 472.4 L371.8 472.4 L373.4 473.2 L375.5 469.4 L377.7 467.6 L379.0 467.0 L380.5 467.2 L381.9 466.0 L383.6 464.1 L385.2 461.5 L386.8 458.6 L388.4 456.0 L390.5 454.6 L392.7 456.1 L394.2 457.8 L395.9 460.0 L397.5 463.9 L399.1 467.5 L400.7 470.6 L402.3 473.2 L404.0 472.0 L405.6 471.1 L407.7 470.0 L409.3 472.1 L410.9 474.4 L413.1 477.7 L414.4 477.1 L416.2 477.2 L418.0 477.2 L419.5 475.9 L421.3 474.8 L422.7 472.1 L424.3 468.3 L425.9 464.3 L427.6 462.3 L429.2 461.9 L431.3 465.1 L433.5 474.4 L434.9 477.9 L436.7 481.4 L438.0 482.9 L439.5 484.8 L441.0 486.1 L442.2 486.8 L443.5 487.8 L445.3 487.8 L446.4 488.2 L447.7 488.9 L449.1 488.8 L450.7 488.9 L452.2 489.1 L453.8 489.6 L455.1 489.5 L456.4 490.1 L457.7 490.4 L459.1 489.8 L460.4 490.0 L461.8 489.9 L463.2 490.4 L464.6 490.6 L465.9 491.2 L467.2 490.6 L468.6 491.3 L469.9 491.4 L471.3 491.1 L472.6 491.4 L474.0 491.4 L475.3 491.0 L476.6 491.5 L478.0 491.7 L479.3 491.8 L480.7 491.4 L482.0 492.4 L483.3 491.8 L484.7 492.1 L486.0 491.6 L487.3 492.3 L488.6 492.8 L489.9 492.8 L491.1 492.4 L492.4 492.8 L493.8 493.1 L495.2 493.0 L496.8 492.7 L498.0 493.2 L499.4 493.0 L500.9 493.4 L502.5 493.8 L504.1 493.6 L505.7 493.5 L507.2 493.8 L508.6 494.4 L509.9 494.0 L511.0 493.8 L511.8 493.5" fill="none" stroke="#cc6762" stroke-width="1.1" stroke-linejoin="round" clip-path="url(#clk)"/>
<text x="387.4" y="452.8" font-size="7" fill="#c9665f" text-anchor="middle" >158.3</text>
<text x="408.8" y="467.3" font-size="7" fill="#c9665f" text-anchor="middle" >206.4</text>
<text x="444.3" y="455.2" font-size="7.5" fill="#c9665f" text-anchor="middle"><tspan font-style="italic">E</tspan><tspan font-size="4.5" dy="1.5">2g</tspan><tspan font-size="4.5" dx="-4.8" dy="-4.3">1</tspan></text>
<text x="442.4" y="463.9" font-size="7" fill="#c9665f" text-anchor="middle" >268.8</text>
<rect x="370" y="358.5" width="142" height="141.8" fill="none" stroke="#1a1a1a" stroke-width="1.3"/>
<line x1="370" y1="500.3" x2="370" y2="502.9" stroke="#1a1a1a" stroke-width="1" />
<line x1="405.5" y1="500.3" x2="405.5" y2="502.9" stroke="#1a1a1a" stroke-width="1" />
<line x1="441" y1="500.3" x2="441" y2="502.9" stroke="#1a1a1a" stroke-width="1" />
<line x1="476.5" y1="500.3" x2="476.5" y2="502.9" stroke="#1a1a1a" stroke-width="1" />
<line x1="512" y1="500.3" x2="512" y2="502.9" stroke="#1a1a1a" stroke-width="1" />
<line x1="387.75" y1="500.3" x2="387.75" y2="501.9" stroke="#1a1a1a" stroke-width="1" />
<line x1="423.25" y1="500.3" x2="423.25" y2="501.9" stroke="#1a1a1a" stroke-width="1" />
<line x1="458.75" y1="500.3" x2="458.75" y2="501.9" stroke="#1a1a1a" stroke-width="1" />
<line x1="494.25" y1="500.3" x2="494.25" y2="501.9" stroke="#1a1a1a" stroke-width="1" />
<text x="370" y="512.6" font-size="10" fill="#1a1a1a" text-anchor="middle" >100</text>
<text x="405.5" y="512.6" font-size="10" fill="#1a1a1a" text-anchor="middle" >200</text>
<text x="441" y="512.6" font-size="10" fill="#1a1a1a" text-anchor="middle" >300</text>
<text x="476.5" y="512.6" font-size="10" fill="#1a1a1a" text-anchor="middle" >400</text>
<text x="512" y="512.6" font-size="10" fill="#1a1a1a" text-anchor="middle" >500</text>
<text x="441" y="525.2" font-size="12" fill="#1a1a1a" text-anchor="middle">Ramanshift / cm<tspan font-size="8.5" dy="-5">&#8722;1</tspan></text>
<text x="363" y="426.5" font-size="12" fill="#1a1a1a" text-anchor="middle" transform="rotate(-90 363 426.5)">Intensity / a.u.</text>
<text x="523" y="368" font-size="14" fill="#1a1a1a" text-anchor="start" >l</text>
<text x="538.9" y="367" font-size="9.5" fill="#5a82ba" text-anchor="start" >MoW-Se</text>
<path d="M536.1 417.4 L537.2 416.9 L538.7 417.0 L540.5 415.8 L542.2 415.7 L543.6 415.9 L545.5 414.3 L546.8 414.0 L548.2 413.9 L549.6 413.8 L551.4 414.6 L553.2 415.9 L554.8 416.8 L556.5 418.1 L557.8 418.1 L559.3 416.9 L560.8 417.1 L562.2 417.6 L563.6 419.3 L565.0 419.7 L566.5 419.4 L567.9 420.0 L569.3 419.7 L570.8 419.3 L572.2 418.5 L573.6 418.3 L575.0 417.9 L576.4 416.0 L577.9 415.3 L579.3 414.4 L580.7 414.9 L582.1 414.1 L583.3 414.1 L585.4 403.0 L587.6 378.2 L589.1 383.1 L590.8 407.7 L592.9 413.5 L594.5 415.8 L596.2 417.2 L597.8 417.4 L599.4 416.6 L601.5 415.7 L602.8 416.3 L604.3 417.2 L605.8 418.5 L607.2 419.5 L608.5 420.6 L610.1 420.9 L611.5 421.5 L612.9 422.0 L614.6 421.4 L616.5 421.2 L617.7 420.8 L619.0 420.4 L620.3 420.4 L621.8 420.5 L623.2 420.4 L624.6 419.5 L626.0 419.7 L627.3 419.6 L628.8 419.5 L630.3 419.1 L631.7 419.4 L633.1 419.3 L634.5 420.4 L635.9 420.1 L637.3 421.1 L638.7 420.9 L640.2 421.7 L641.6 421.9 L643.0 422.0 L644.4 421.8 L645.9 422.0 L647.4 421.2 L648.9 421.4 L650.3 420.8 L651.7 420.2 L653.0 421.1 L654.7 420.4 L656.2 421.3 L657.8 422.3 L659.5 422.7 L660.8 422.9 L662.1 423.8 L663.6 423.7 L665.1 424.3 L666.6 424.2 L668.0 424.3 L669.6 425.2 L671.4 424.1 L673.1 423.9 L674.7 423.8 L676.1 423.6 L677.1 423.5" fill="none" stroke="#5280ba" stroke-width="1.1" stroke-linejoin="round" clip-path="url(#cll)"/>
<text x="565.8" y="386" font-size="7.5" fill="#5a82ba" text-anchor="middle"><tspan font-style="italic">A</tspan><tspan font-size="5" dy="1.5">1g</tspan></text>
<text x="566.1" y="394.3" font-size="7" fill="#5a82ba" text-anchor="middle" >246.8</text>
<text x="607.1" y="403.2" font-size="7.5" fill="#5a82ba" text-anchor="middle"><tspan font-style="italic">E</tspan><tspan font-size="4.5" dy="1.5">2g</tspan><tspan font-size="4.5" dx="-4.8" dy="-4.3">1</tspan></text>
<text x="605" y="411.9" font-size="7" fill="#5a82ba" text-anchor="middle" >287.1</text>
<text x="538.9" y="440.5" font-size="9.5" fill="#c9665f" text-anchor="start" >K-MoW-Se</text>
<path d="M536.1 488.7 L537.1 488.6 L538.7 488.0 L540.5 488.5 L542.2 488.2 L543.6 487.8 L545.3 487.8 L546.7 486.8 L547.9 485.6 L550.0 483.1 L552.2 484.7 L554.3 487.6 L555.4 488.4 L556.9 488.6 L558.5 487.7 L560.1 487.1 L561.6 486.4 L562.9 487.1 L564.6 487.6 L565.9 488.4 L567.2 488.4 L568.6 487.9 L570.1 487.3 L571.5 486.2 L573.0 487.4 L574.5 487.4 L575.8 488.1 L577.9 486.5 L580.1 482.6 L581.1 479.1 L582.6 443.3 L584.4 446.2 L586.1 470.3 L587.6 482.4 L588.7 484.5 L590.1 486.6 L591.6 487.4 L592.9 488.3 L594.5 487.7 L596.0 486.6 L597.2 486.2 L598.9 484.1 L601.5 489.3 L603.7 490.3 L604.9 490.7 L606.4 491.5 L608.0 490.2 L609.3 490.2 L610.6 489.9 L612.0 489.5 L613.3 489.1 L614.9 489.4 L616.3 490.1 L617.6 489.8 L618.8 491.6 L620.8 491.7 L621.8 492.3 L623.0 492.5 L624.3 492.4 L625.7 492.7 L627.2 492.8 L628.7 492.4 L630.2 493.3 L631.6 492.4 L632.9 493.0 L634.3 493.5 L635.8 492.7 L637.2 493.1 L638.6 493.7 L639.9 493.9 L641.2 494.1 L642.3 493.4 L644.2 493.7 L645.8 493.3 L647.2 493.5 L648.7 492.4 L650.3 492.5 L651.8 492.4 L653.4 491.1 L655.2 491.4 L656.5 491.5 L657.9 491.8 L659.3 492.0 L660.8 491.0 L662.3 492.2 L663.8 491.7 L665.2 492.7 L666.8 493.0 L668.3 492.5 L669.8 493.6 L671.1 493.4 L672.3 493.4 L674.4 493.2 L676.0 493.4 L677.1 493.0" fill="none" stroke="#cc6762" stroke-width="1.1" stroke-linejoin="round" clip-path="url(#cll)"/>
<text x="562.1" y="452.7" font-size="7.5" fill="#c9665f" text-anchor="middle"><tspan font-style="italic">A</tspan><tspan font-size="5" dy="1.5">1g</tspan></text>
<text x="561.8" y="461.8" font-size="7" fill="#c9665f" text-anchor="middle" >236.0</text>
<text x="546.8" y="476.8" font-size="7" fill="#c9665f" text-anchor="middle" >143.7</text>
<text x="568" y="497.8" font-size="7" fill="#c9665f" text-anchor="middle" >206.6</text>
<text x="603.3" y="471.5" font-size="7.5" fill="#c9665f" text-anchor="middle"><tspan font-style="italic">E</tspan><tspan font-size="4.5" dy="1.5">2g</tspan><tspan font-size="4.5" dx="-4.8" dy="-4.3">1</tspan></text>
<text x="601.1" y="480.7" font-size="7" fill="#c9665f" text-anchor="middle" >279.9</text>
<rect x="536" y="357" width="141.5" height="141.8" fill="none" stroke="#1a1a1a" stroke-width="1.3"/>
<line x1="536" y1="498.8" x2="536" y2="501.4" stroke="#1a1a1a" stroke-width="1" />
<line x1="571.38" y1="498.8" x2="571.38" y2="501.4" stroke="#1a1a1a" stroke-width="1" />
<line x1="606.75" y1="498.8" x2="606.75" y2="501.4" stroke="#1a1a1a" stroke-width="1" />
<line x1="642.12" y1="498.8" x2="642.12" y2="501.4" stroke="#1a1a1a" stroke-width="1" />
<line x1="677.5" y1="498.8" x2="677.5" y2="501.4" stroke="#1a1a1a" stroke-width="1" />
<line x1="553.69" y1="498.8" x2="553.69" y2="500.4" stroke="#1a1a1a" stroke-width="1" />
<line x1="589.06" y1="498.8" x2="589.06" y2="500.4" stroke="#1a1a1a" stroke-width="1" />
<line x1="624.44" y1="498.8" x2="624.44" y2="500.4" stroke="#1a1a1a" stroke-width="1" />
<line x1="659.81" y1="498.8" x2="659.81" y2="500.4" stroke="#1a1a1a" stroke-width="1" />
<text x="536" y="511.1" font-size="10" fill="#1a1a1a" text-anchor="middle" >100</text>
<text x="571.38" y="511.1" font-size="10" fill="#1a1a1a" text-anchor="middle" >200</text>
<text x="606.75" y="511.1" font-size="10" fill="#1a1a1a" text-anchor="middle" >300</text>
<text x="642.12" y="511.1" font-size="10" fill="#1a1a1a" text-anchor="middle" >400</text>
<text x="677.5" y="511.1" font-size="10" fill="#1a1a1a" text-anchor="middle" >500</text>
<text x="606.75" y="523.7" font-size="12" fill="#1a1a1a" text-anchor="middle">Ramanshift / cm<tspan font-size="8.5" dy="-5">&#8722;1</tspan></text>
<text x="529" y="425" font-size="12" fill="#1a1a1a" text-anchor="middle" transform="rotate(-90 529 425)">Intensity / a.u.</text>
<text x="5" y="546.6" font-size="14" fill="#1a1a1a" text-anchor="start" >m</text>
<rect x="28.4" y="536.9" width="648.8" height="61.1" fill="url(#mg)"/>
<text x="97" y="556.2" font-size="11" fill="#1a1a1a" text-anchor="middle" >Conventional synthesis</text>
<text x="96.5" y="583.5" font-size="11" font-weight="bold" fill="#1a1a1a" text-anchor="middle">K<tspan font-size="7" dy="-4">+</tspan><tspan dy="4">-modified strategy</tspan></text>
<text x="189.7" y="556.2" font-size="11" fill="#1a1a1a" text-anchor="middle" >MoO<tspan font-size="7.5" dy="2.6">3</tspan><tspan dy="-2.6">&#8203;</tspan></text>
<text x="188.8" y="583.5" font-size="11" fill="#1a1a1a" text-anchor="middle" >K-MoO<tspan font-size="7.5" dy="2.6">3</tspan><tspan dy="-2.6">&#8203;</tspan></text>
<path d="M213 549.35 L243.6 549.35 L243.2 546.15 L261.3 552.0 L243.2 557.85 L243.6 554.65 L213 554.65 Z" fill="url(#ab)" stroke="url(#abs)" stroke-width="0.9" stroke-linejoin="miter"/>
<path d="M213 577.35 L243.6 577.35 L243.2 574.15 L261.3 580.0 L243.2 585.85 L243.6 582.65 L213 582.65 Z" fill="url(#ar)" stroke="url(#ars)" stroke-width="0.9" stroke-linejoin="miter"/>
<text x="294.5" y="556.2" font-size="11" fill="#1a1a1a" text-anchor="middle" ><tspan font-style="italic">&#946;</tspan>-Mo<tspan font-size="7.5" dy="2.6">2</tspan><tspan dy="-2.6">&#8203;</tspan>C</text>
<text x="340.1" y="556.2" font-size="11" fill="#1a1a1a" text-anchor="middle" >Mo<tspan font-size="7.5" dy="2.6">2</tspan><tspan dy="-2.6">&#8203;</tspan>N</text>
<text x="389.4" y="556.2" font-size="11" fill="#1a1a1a" text-anchor="middle" >2<tspan font-style="italic">H</tspan>-MoS<tspan font-size="7.5" dy="2.6">2</tspan><tspan dy="-2.6">&#8203;</tspan></text>
<text x="450.5" y="556.2" font-size="11" fill="#1a1a1a" text-anchor="middle" >2<tspan font-style="italic">H</tspan>-MoSe<tspan font-size="7.5" dy="2.6">2</tspan><tspan dy="-2.6">&#8203;</tspan></text>
<text x="532.3" y="556.2" font-size="11" fill="#1a1a1a" text-anchor="middle" >2<tspan font-style="italic">H</tspan>-MoSe<tspan font-size="7.5" dy="2.6">2x</tspan><tspan dy="-2.6">&#8203;</tspan>Te<tspan font-size="7.5" dy="2.6">2(1-x)</tspan><tspan dy="-2.6">&#8203;</tspan></text>
<text x="627.3" y="556.2" font-size="11" fill="#1a1a1a" text-anchor="middle" >2<tspan font-style="italic">H</tspan>-Mo<tspan font-size="7.5" dy="2.6">1-x</tspan><tspan dy="-2.6">&#8203;</tspan>W<tspan font-size="7.5" dy="2.6">x</tspan><tspan dy="-2.6">&#8203;</tspan>Se<tspan font-size="7.5" dy="2.6">2</tspan><tspan dy="-2.6">&#8203;</tspan></text>
<text x="294.4" y="583.5" font-size="11" fill="#1a1a1a" text-anchor="middle" ><tspan font-style="italic">&#947;</tspan>'-MoC</text>
<text x="340" y="583.5" font-size="11" fill="#1a1a1a" text-anchor="middle" >MoN</text>
<text x="389.7" y="583.5" font-size="11" fill="#1a1a1a" text-anchor="middle" >1<tspan font-style="italic">T</tspan>-MoS<tspan font-size="7.5" dy="2.6">2</tspan><tspan dy="-2.6">&#8203;</tspan></text>
<text x="450.5" y="583.5" font-size="11" fill="#1a1a1a" text-anchor="middle" >1<tspan font-style="italic">T</tspan>-MoSe<tspan font-size="7.5" dy="2.6">2</tspan><tspan dy="-2.6">&#8203;</tspan></text>
<text x="532.8" y="583.5" font-size="11" fill="#1a1a1a" text-anchor="middle" >1<tspan font-style="italic">T</tspan>-MoSe<tspan font-size="7.5" dy="2.6">2x</tspan><tspan dy="-2.6">&#8203;</tspan>Te<tspan font-size="7.5" dy="2.6">2(1-x)</tspan><tspan dy="-2.6">&#8203;</tspan></text>
<text x="627.4" y="583.5" font-size="11" fill="#1a1a1a" text-anchor="middle" >1<tspan font-style="italic">T</tspan>-Mo<tspan font-size="7.5" dy="2.6">1-x</tspan><tspan dy="-2.6">&#8203;</tspan>W<tspan font-size="7.5" dy="2.6">x</tspan><tspan dy="-2.6">&#8203;</tspan>Se<tspan font-size="7.5" dy="2.6">2</tspan><tspan dy="-2.6">&#8203;</tspan></text>
</svg></body></html>
